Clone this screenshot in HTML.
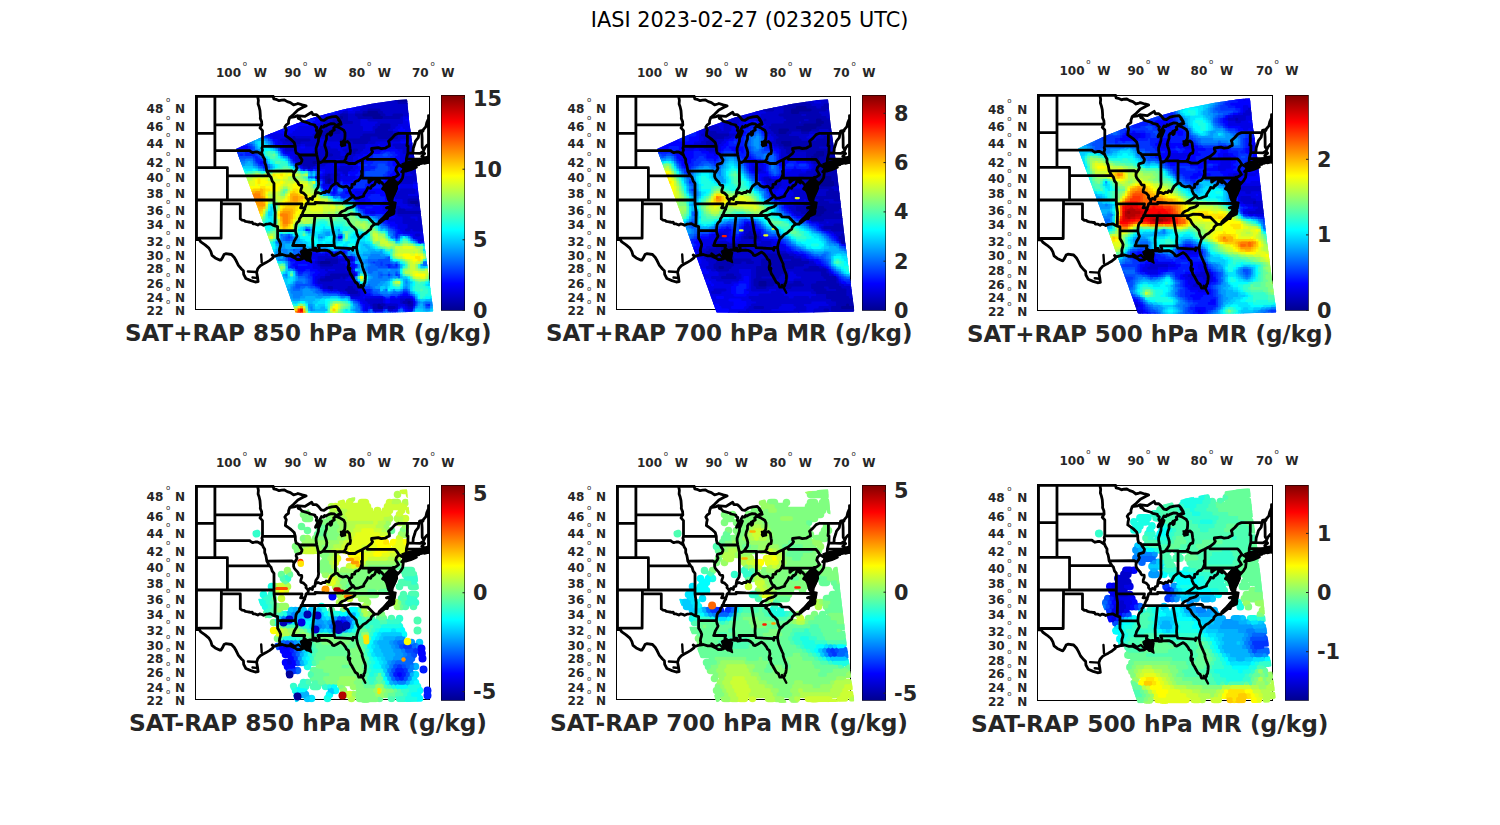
<!DOCTYPE html>
<html lang="en"><head><meta charset="utf-8"><title>IASI 2023-02-27 (023205 UTC)</title>
<style>html,body{margin:0;padding:0;background:#fff;}body{width:1500px;height:825px;overflow:hidden;}svg{display:block;}text{font-family:'DejaVu Sans','Liberation Sans',sans-serif;}</style></head><body>
<svg width="1500" height="825" viewBox="0 0 1500 825">
<defs>
<linearGradient id="jet" x1="0" y1="1" x2="0" y2="0"><stop offset="0" stop-color="#00008f"/><stop offset="0.125" stop-color="#0000ff"/><stop offset="0.375" stop-color="#00ffff"/><stop offset="0.625" stop-color="#ffff00"/><stop offset="0.875" stop-color="#ff0000"/><stop offset="1" stop-color="#800000"/></linearGradient>
<clipPath id="mapclip"><rect x="-0.5" y="-1.5" width="235" height="215"/></clipPath>
<g id="st" fill="none" stroke="#000" stroke-width="2.8" stroke-linejoin="round" stroke-linecap="round" clip-path="url(#mapclip)">
<path d="M-0.4 -0.1 L75.2 -0.1 L77.7 -0.1 M19.4 -0.1 L19.4 71.2 M-0.4 36.8 L19.4 36.8 M19.4 28.4 L66.3 28.4 M19.4 54.2 L54.2 54.2 L55.4 55.1 L57.3 56.2 L59.8 55.5 L62.0 55.5 L63.6 56.3 L65.5 57.5 L67.0 58.6 M-0.4 71.2 L31.9 71.2 M31.9 71.2 L31.9 103.5 M31.9 79.4 L74.2 79.4 M-0.4 103.5 L78.5 103.5 M25.9 103.5 L25.6 141.7 L3.3 141.7 L3.3 143.1 L-0.4 143.1 M1.0 -0.1 L1.0 143.1 M25.9 107.4 L44.8 107.4 L44.8 122.4 M44.8 122.4 L46.6 123.6 L48.5 123.8 L49.8 124.8 L51.7 125.2 L53.5 125.5 L55.1 125.8 L56.7 125.7 L57.6 127.4 L59.8 127.4 L62.3 128.6 L64.2 127.4 L66.1 127.8 L68.0 128.8 L70.5 127.7 L73.0 127.4 L74.9 127.1 L77.4 128.6 L79.4 129.4 L82.1 130.1 M78.5 103.5 L78.5 107.4 L79.7 116.0 L79.4 129.4 M82.1 130.1 L82.1 141.7 L83.0 143.1 L84.3 145.4 L85.2 147.7 L84.9 149.8 L84.1 152.3 L83.9 154.1 L84.3 156.0 L83.3 158.5 M82.1 134.1 L100.1 134.2 M78.5 107.4 L106.5 107.4 L106.2 109.0 L105.1 111.3 L109.3 111.3 M78.5 103.5 L78.5 86.8 L76.7 84.7 L75.5 80.7 L74.2 79.4 M74.2 79.4 L72.7 77.0 L71.3 74.6 L70.8 71.2 L70.3 68.7 L69.2 66.1 L69.2 62.8 L67.6 60.2 L67.0 58.6 M67.0 58.6 L66.1 56.4 L67.0 53.4 L66.4 51.7 L67.0 49.9 M67.0 49.9 L67.0 34.1 L64.5 31.4 L66.3 28.4 M66.3 28.4 L66.1 25.1 L64.8 21.9 L64.9 19.6 L64.5 14.1 L63.6 10.3 L62.6 7.5 L62.9 3.7 L62.1 -0.1 M67.0 49.9 L99.8 49.9 M71.3 74.6 L96.6 74.5 L98.6 76.3 M89.9 39.0 L93.0 41.2 L95.5 43.0 L98.7 46.0 L99.6 49.1 L99.8 49.9 L99.9 53.4 L100.6 56.4 L103.1 57.7 L103.4 58.4 L105.0 61.1 L106.5 63.2 L106.2 64.9 L105.3 66.6 L100.9 67.8 L100.6 69.5 L101.5 71.6 L100.6 73.7 L98.6 76.3 L98.1 77.8 L98.1 79.8 L98.7 81.5 L99.9 83.1 L102.4 85.9 L103.1 87.6 L104.0 88.6 L106.2 88.8 L106.3 90.8 L105.3 93.6 L105.3 95.6 L108.1 96.6 L110.6 99.2 L110.5 101.2 L111.8 102.7 L112.9 103.7 M112.9 103.7 L112.5 106.3 L110.6 107.4 L110.0 109.8 L109.3 111.3 L109.3 112.5 L107.8 114.8 L106.8 117.5 L105.6 119.0 L105.6 120.2 L104.0 122.1 L103.7 124.4 L101.5 126.3 L100.6 128.2 L100.2 130.8 L99.9 134.2 L100.6 137.2 L101.5 139.4 L100.9 140.9 L98.7 144.6 L98.1 146.8 L97.2 149.0 M97.2 149.0 L109.2 149.0 L108.4 151.6 L110.0 154.9 M89.9 39.0 L90.2 35.9 L90.8 33.2 L89.3 30.5 L90.5 28.7 L93.0 26.9 L93.1 24.2 L94.3 21.0 M77.7 -0.1 L78.3 2.3 L80.5 2.8 L83.6 4.2 L86.1 3.7 L89.0 3.5 L91.8 5.1 L94.9 6.1 L98.1 8.4 L101.2 7.5 L102.4 7.0 L106.8 8.4 L110.6 9.4 M110.6 9.4 L107.5 10.8 L102.4 13.6 L98.1 17.8 L94.3 21.0 M94.3 21.0 L99.9 20.1 L102.1 19.1 L102.8 21.9 L104.8 22.6 M104.8 22.6 L106.7 24.7 L113.1 26.5 L114.7 27.5 L119.4 28.5 L119.4 29.6 L121.3 31.0 L120.8 33.7 L122.2 35.9 L122.5 36.1 M103.4 19.3 L109.5 19.9 L112.9 17.7 L116.2 15.7 L117.4 18.1 L120.8 18.1 L122.9 19.9 L125.7 23.3 L128.5 23.8 L131.9 21.5 L136.3 20.4 L140.8 19.9 L143.0 22.2 L145.2 26.0 L144.7 28.4 M142.9 23.3 L144.5 25.5 L145.7 27.8 L142.9 28.0 L140.6 29.2 L138.8 27.4 L135.7 27.1 L132.5 28.3 L130.3 29.6 L129.1 28.9 L128.2 30.7 L126.6 30.5 L126.0 30.1 L125.0 31.9 L122.5 36.1 M122.5 36.1 L120.3 39.7 L120.0 40.9 L121.9 39.4 L123.8 37.7 L126.0 34.6 L124.7 38.1 L123.1 41.6 L122.9 44.7 L121.9 47.8 L120.6 51.7 L120.6 54.2 L121.3 58.5 L122.5 64.0 L122.9 65.3 L125.0 66.0 L127.4 64.8 M127.4 64.8 L129.4 61.9 L131.0 59.4 L131.3 56.0 L130.7 53.4 L129.7 50.4 L129.2 48.6 L129.8 45.6 L131.0 42.5 L131.0 39.4 L132.1 37.7 L133.8 37.2 L135.0 35.4 L135.0 38.8 L136.0 38.1 L136.6 34.6 L138.8 33.5 L138.2 31.4 L140.4 29.8 M140.4 29.8 L143.8 31.1 L148.2 33.7 L149.5 36.3 L149.5 39.4 L149.2 43.0 L147.6 45.1 L145.7 48.2 L148.2 48.2 L149.5 46.0 L152.0 45.0 L153.9 46.9 L154.5 51.7 L155.0 54.2 L154.5 57.2 L152.3 57.7 L150.7 60.2 L150.4 62.3 L148.5 65.0 M103.4 58.4 L121.3 58.5 M127.4 64.8 L140.0 64.8 L140.0 65.3 L148.5 65.0 M148.5 65.0 L151.3 66.1 L153.2 67.0 L157.6 67.0 L159.5 67.0 L162.6 64.9 L166.9 62.9 L169.5 61.5 L171.7 60.5 L175.8 57.2 L177.1 55.3 L176.1 53.4 L176.1 52.0 M176.1 52.0 L182.7 51.1 L185.8 52.1 L189.6 51.7 L192.1 50.2 L194.0 49.5 L193.7 46.5 L193.0 44.7 L196.5 41.6 L199.6 38.1 L203.1 36.8 M203.1 36.8 L223.5 36.8 L224.1 34.6 L226.0 34.1 L227.5 34.6 L227.8 33.2 L230.4 30.1 L231.3 26.0 L233.5 21.0 M233.0 19.1 L233.0 66.1 M112.9 103.7 L114.4 101.9 L116.9 103.0 L117.2 100.4 L119.4 99.6 L119.7 97.2 L122.5 96.0 L125.6 97.2 L127.5 95.8 L129.4 96.2 L130.7 94.4 L133.2 95.6 L134.1 93.4 L136.1 89.7 L139.9 86.8 L141.9 86.8 L143.8 89.2 L147.3 90.6 L151.3 89.7 L153.9 92.2 L156.4 90.8 L156.4 88.0 L159.2 87.6 L159.2 85.9 L161.1 84.3 L162.6 84.3 L164.8 81.9 L166.4 77.8 L166.0 74.6 L166.9 74.1 M119.7 97.2 L120.3 94.0 L122.5 90.8 L123.1 87.6 L122.9 84.7 L122.9 65.3 M139.9 86.8 L140.0 65.3 M166.9 62.9 L166.9 81.7 M166.9 81.7 L196.6 81.7 L197.7 80.8 L198.9 81.1 M171.7 60.5 L171.7 62.8 L199.3 62.8 L201.2 64.9 L203.4 68.2 L200.9 71.2 L200.3 73.7 L201.8 76.1 L203.1 78.2 L200.9 79.8 L198.9 81.1 L198.1 82.3 L198.1 83.9 M203.4 68.2 L208.4 71.2 M196.6 81.7 L196.6 91.9 L201.2 92.0 M173.4 81.7 L173.4 85.9 L175.8 83.8 L178.0 82.7 L180.2 82.5 L181.4 82.0 L183.6 82.7 L184.5 85.0 L185.8 85.5 L187.1 87.2 L188.2 88.1 L188.7 90.0 L187.1 92.4 L189.0 93.2 L191.5 94.4 L193.4 96.0 M184.5 85.0 L183.8 86.5 L180.5 83.8 L179.3 87.6 L177.2 89.4 L176.4 89.2 L175.1 91.8 L172.4 91.0 L171.4 93.4 L168.3 98.0 L168.3 99.6 L164.8 100.8 L162.4 101.7 L159.6 101.9 L157.8 99.3 M157.8 99.3 L155.7 98.0 L153.9 94.2 L153.9 92.2 M157.8 99.3 L155.7 101.2 L153.2 103.1 L147.1 106.7 M147.1 106.7 L159.6 106.7 L196.1 107.0 M147.1 106.7 L129.4 106.4 L119.6 106.0 L119.6 107.4 L110.6 107.4 M159.6 106.7 L159.5 108.6 L157.3 110.4 L153.9 111.3 L152.0 111.9 L149.8 113.7 L147.0 114.7 L145.1 116.0 L143.1 119.1 M150.7 119.0 L105.6 119.0 M150.7 119.0 L155.1 117.5 L163.6 117.9 L163.6 118.7 L164.3 118.3 L165.3 120.4 L172.2 120.6 L179.3 127.7 M150.7 119.0 L149.2 121.3 L152.0 123.0 L153.9 126.7 L156.4 129.7 L157.9 130.6 L160.8 133.8 L161.4 137.2 L162.9 140.5 L164.5 141.4 M135.0 119.2 L137.7 135.2 L138.8 139.4 L138.5 144.6 L138.8 149.0 M138.8 149.0 L139.7 151.2 L156.4 152.2 L157.3 153.7 L157.6 150.9 L161.1 151.2 M138.8 149.0 L122.5 149.0 L123.8 151.6 L123.1 154.1 M118.7 119.1 L119.4 119.8 L117.1 142.4 L117.5 153.8 M62.6 185.1 L62.0 180.6 L61.1 175.7 L62.3 172.1 L64.8 169.3 L67.3 167.8 L70.5 166.1 L74.2 163.9 L77.4 161.4 L77.7 159.6 L76.7 158.5 L78.6 159.9 L81.8 158.9 L83.3 158.5 M83.3 158.5 L86.8 158.0 L91.2 159.4 L94.3 159.2 L96.2 159.9 L99.3 161.4 L101.8 163.2 L105.0 163.0 L106.8 162.5 L108.1 161.4 L110.0 161.7 L111.2 163.5 L113.4 163.5 L112.8 162.1 L111.2 160.7 L110.6 158.5 L111.8 157.4 L111.2 156.0 L109.0 155.2 L110.0 154.9 M110.0 154.9 L111.8 154.0 L114.4 153.4 L117.5 153.6 L119.4 153.8 L119.4 151.6 L120.3 151.6 L120.9 154.5 L123.1 154.3 M123.1 154.3 L125.0 153.9 L129.4 153.6 L131.3 153.8 L133.8 154.9 L136.3 157.0 L136.9 158.6 L138.8 159.1 L140.7 158.1 L142.9 156.7 L145.1 155.6 L147.6 157.4 L150.1 160.7 L151.0 162.6 L152.9 163.9 L153.5 167.5 L152.6 170.7 L152.9 173.2 L154.5 171.8 L153.9 174.2 L154.8 177.1 L156.4 179.5 L157.3 181.3 L158.9 184.1 L159.8 185.8 L162.0 187.2 L163.3 190.7 L165.1 190.7 L167.3 190.4 L168.3 189.0 L168.3 187.6 L169.3 186.2 L169.8 182.7 L170.0 179.2 L169.5 177.1 L168.3 174.2 L167.3 171.4 L166.7 169.3 L166.7 167.5 L165.5 165.0 L163.9 161.4 L162.3 157.8 L161.4 153.8 L161.1 151.2 M3.8 143.3 L5.3 145.4 L9.6 148.4 L13.4 151.6 L15.3 154.9 L16.5 158.9 L19.7 161.4 L24.1 163.5 L25.3 163.7 L26.9 161.4 L28.5 158.1 L30.3 157.2 L36.0 158.0 L38.8 161.0 L40.7 164.3 L42.9 168.9 L46.0 172.5 L47.9 174.2 L48.2 177.8 L50.4 182.0 L55.4 184.1 L59.8 185.5 L62.6 185.1 M161.1 151.2 L161.4 148.3 L162.3 145.4 L163.3 142.4 L164.5 141.4 L166.1 139.8 L167.7 137.9 L170.5 136.5 L173.0 134.2 L175.2 132.7 L175.8 130.5 L177.4 128.9 L179.3 127.7 L182.7 127.7 L183.3 126.3 L185.5 123.6 L188.3 121.7 L191.8 122.0 L192.7 119.8 L198.1 117.3 L198.6 114.4 L197.1 110.6 L196.1 107.0 L195.2 104.3 L193.4 103.9 L192.7 101.9 L193.4 99.6 L193.4 96.0 M192.7 119.4 L190.5 119.0 L192.1 116.4 L194.6 116.4 L196.2 114.4 L196.8 112.1 L195.2 111.3 L190.9 111.3 L195.2 109.8 L195.9 107.4 M193.4 96.0 L192.7 93.2 L192.1 90.0 L192.4 87.6 L192.7 85.5 L194.6 83.5 L195.2 84.3 L194.0 87.6 L193.4 90.0 L194.0 93.2 L195.9 95.6 L197.4 96.4 L195.6 101.9 L197.7 98.8 L199.6 95.6 L201.2 92.0 L200.9 89.2 L199.0 86.8 L198.1 83.9 L200.3 85.5 L202.1 86.4 L201.8 88.1 L205.3 84.3 L207.2 81.1 L207.8 76.1 L206.2 75.3 L207.8 73.7 M207.8 74.5 L210.9 74.5 L215.3 73.2 L220.9 70.7 L218.4 70.3 L216.6 71.6 L214.0 71.6 L210.3 72.0 L209.0 72.8 M208.4 71.2 L210.0 71.2 L212.8 69.9 L214.7 68.9 L218.4 68.8 L221.2 68.5 L223.5 68.1 L224.1 65.7 L225.3 67.2 L225.8 67.0 L227.2 66.6 L228.8 65.3 L228.8 66.8 L233.5 65.7 M210.0 71.2 L209.5 70.3 L211.0 69.3 L210.6 68.7 L210.9 62.3 L212.4 56.4 L212.5 49.5 L211.5 49.1 L211.9 45.6 L211.9 36.8 M210.9 62.3 L221.6 62.6 L224.2 62.6 L224.2 63.6 L224.5 64.6 L225.3 65.5 L225.8 67.0 M221.6 62.6 L221.2 68.5 M212.4 56.4 L224.7 56.8 L225.3 56.4 L227.2 55.3 L227.7 55.4 M228.3 53.6 L227.7 55.4 L229.1 57.2 L227.2 58.5 L226.3 59.8 L228.5 61.1 L228.8 63.2 L229.7 64.7 L233.5 64.5 M217.4 56.6 L217.8 51.7 L219.1 47.8 L220.0 44.7 L222.8 41.2 L223.5 36.8 M228.3 53.6 L226.7 50.8 L226.6 41.2 L226.1 34.1 M228.3 53.6 L229.4 51.2 L231.6 48.6 L233.5 47.5 M207.8 73.7 L208.4 71.2"/>
<path fill="#000" stroke-width="1.5" d="M188.2 92.1 L190.0 87.0 L194.5 82.7 L198.8 82.7 L202.0 87.0 L200.8 92.1 L199.5 97.2 L197.6 101.5 L197.0 105.1 L194.5 105.8 L191.9 101.5 L190.7 97.2 Z"/>
<path fill="#000" stroke-width="1.5" d="M196.0 105.0 L200.5 106.0 L199.5 112.0 L195.0 118.0 L189.5 123.0 L184.5 127.0 L183.0 125.0 L188.0 120.0 L193.0 114.5 L195.0 109.0 Z"/>
<path fill="#000" stroke-width="1.5" d="M105.0 155.0 L110.0 152.0 L116.0 156.0 L115.0 162.0 L116.0 166.0 L111.0 163.0 L107.0 161.0 Z"/>
<path fill="#000" stroke-width="1.5" d="M206.5 67.5 L212.0 65.5 L220.0 63.5 L228.0 61.0 L234.0 59.5 L234.5 62.5 L228.0 65.0 L220.0 67.0 L213.0 69.5 L207.5 71.0 Z"/>
<path fill="#000" stroke-width="1.5" d="M145.0 45.0 L149.5 45.0 L150.0 49.0 L146.0 50.0 Z"/>
<path stroke-width="2.4" d="M66.2 166.0 L65.7 158.0"/>
<path stroke-width="2.4" d="M52.4 175.0 L60.5 175.5"/>
<path stroke-width="2.4" d="M57.0 181.0 L62.0 181.5"/>
<path stroke-width="2.4" d="M165.5 188.5 L166.7 190.3 L169.8 196.2"/>
<path stroke-width="2.4" d="M95.0 157.0 L99.0 160.0 L103.0 158.0 L106.0 161.0"/>
</g>
<clipPath id="swc"><path d="M40.6 53.3 L55.4 92.8 L66.9 124.2 L78.3 155.7 L89.8 187.2 L99.8 215.3 L99.8 215.4 L99.9 215.5 L99.9 215.6 L100.0 215.7 L100.0 215.7 L100.1 215.8 L100.2 215.8 L100.3 215.9 L100.3 215.9 L100.4 215.9 L100.5 215.9 L100.6 215.9 L147.8 216.5 L147.8 216.5 L190.7 216.1 L190.8 216.1 L236.8 214.9 L236.9 214.9 L237.0 214.9 L237.1 214.9 L237.1 214.9 L237.2 214.8 L237.3 214.8 L237.4 214.7 L237.4 214.7 L237.5 214.6 L237.5 214.5 L237.6 214.5 L237.6 214.4 L237.6 214.3 L237.7 214.2 L237.7 214.1 L237.7 214.0 L237.7 214.0 L237.4 211.1 L237.4 211.1 L234.5 189.6 L228.8 146.7 L223.7 103.8 L218.8 60.9 L218.8 60.9 L213.9 26.6 L211.6 3.7 L211.6 3.6 L211.6 3.5 L211.6 3.5 L211.5 3.4 L211.5 3.3 L211.5 3.2 L211.4 3.2 L211.3 3.1 L211.3 3.1 L211.2 3.0 L211.1 3.0 L211.0 2.9 L210.9 2.9 L210.9 2.9 L210.8 2.9 L210.7 2.9 L202.1 3.5 L202.0 3.5 L176.3 7.2 L176.3 7.2 L147.6 12.9 L147.6 12.9 L119.0 20.7 L118.9 20.7 L90.3 31.0 L90.3 31.0 L67.4 40.2 L67.4 40.2 L41.0 52.2 L41.0 52.2 L40.9 52.3 L40.8 52.3 L40.8 52.4 L40.7 52.5 L40.6 52.5 L40.6 52.6 L40.6 52.7 L40.5 52.8 L40.5 52.9 L40.5 53.0 L40.5 53.1 L40.5 53.1 L40.5 53.2Z"/></clipPath>
</defs>
<rect width="1500" height="825" fill="#fff"/>
<text x="590.8" y="26.5" font-size="20.8" fill="#000" textLength="317.5" lengthAdjust="spacingAndGlyphs">IASI 2023-02-27 (023205 UTC)</text>
<g transform="translate(195.5 96.5) scale(1.00000 1.00000)">
<rect x="0" y="0" width="234" height="213" fill="none" stroke="#000" stroke-width="1"/>
<g fill="none" stroke-linecap="round" stroke-width="4.2" clip-path="url(#swc)">
<g id="f0">
<path stroke="#0033ff" d="M138.5 13.5h0M66 38.5h0M71 41h0M76 43.5h0M53.5 48.5h0M78.5 48.5h0M56 51h0M83.5 51h0M41 53.5h0M56 53.5h0M41 56h7.5M56 56h2.5M86 56h0M191 56h2.5M41 58.5h2.5M48.5 58.5h0M61 58.5h0M88.5 58.5h0M178.5 58.5h7.5M193.5 58.5h2.5M58.5 61h0M63.5 61h0M93.5 61h0M178.5 61h15M96 63.5h0M181 63.5h12.5M61 66h0M178.5 66h12.5M63.5 68.5h0M71 68.5h0M168.5 68.5h2.5M176 68.5h5M191 68.5h0M103.5 71h0M181 71h0M193.5 71h0M118.5 73.5h0M176 73.5h2.5M193.5 73.5h0M166 76h2.5M191 76h0M166 78.5h2.5M188.5 78.5h2.5M168.5 81h7.5M188.5 81h0M163.5 83.5h22.5M146 86h0M161 86h10M146 88.5h0M161 88.5h7.5M126 91h0M136 91h0M148.5 91h20M133.5 96h0M146 96h0M136 98.5h0M141 98.5h2.5M146 101h0M151 101h2.5M158.5 103.5h0M166 113.5h0M171 118.5h2.5M181 118.5h5M186 121h0M186 123.5h0M186 126h0M191 128.5h0M193.5 131h0M113.5 133.5h0M198.5 133.5h0M203.5 138.5h0M208.5 138.5h2.5M93.5 141h0M216 141h0M106 153.5h0M121 153.5h0M131 153.5h0M146 153.5h5M106 156h7.5M126 156h0M143.5 156h2.5M151 156h0M103.5 158.5h0M143.5 158.5h0M158.5 166h0M178.5 166h0M186 166h0M186 168.5h0M191 168.5h0M196 168.5h0M93.5 171h0M161 171h0M196 171h5M108.5 176h5M103.5 178.5h2.5M113.5 178.5h0M193.5 178.5h0M201 178.5h0M113.5 181h2.5M116 183.5h0M116 186h0M116 188.5h0M121 191h0M126 193.5h0M176 193.5h0M128.5 196h2.5M176 196h0M146 198.5h2.5M178.5 198.5h5M203.5 198.5h0M191 201h2.5M218.5 201h0M158.5 203.5h0M163.5 206h0M221 206h0M231 208.5h0M166 211h0M166 213.5h0M173.5 213.5h0M168.5 216h2.5M178.5 216h0M196 216h0M201 216h0M216 216h0"/>
<path stroke="#001aff" d="M141 13.5h2.5M128.5 16h10M113.5 23.5h5M113.5 26h2.5M86 31h7.5M88.5 33.5h2.5M68.5 38.5h0M73.5 41h0M78.5 46h0M46 48.5h5M41 51h0M53.5 51h0M43.5 53.5h10M86 53.5h0M51 56h2.5M186 56h2.5M196 56h2.5M46 58.5h0M51 58.5h7.5M91 58.5h0M173.5 58.5h2.5M198.5 58.5h2.5M61 61h0M171 61h5M196 61h2.5M61 63.5h5M173.5 63.5h5M196 63.5h0M63.5 66h0M68.5 66h0M98.5 66h0M168.5 66h7.5M193.5 66h2.5M66 68.5h2.5M101 68.5h0M163.5 68.5h2.5M173.5 68.5h0M193.5 68.5h2.5M68.5 71h2.5M166 71h12.5M196 71h2.5M71 73.5h0M108.5 73.5h0M121 73.5h0M166 73.5h7.5M196 73.5h2.5M123.5 76h2.5M163.5 76h0M193.5 76h2.5M203.5 76h0M123.5 78.5h0M153.5 78.5h0M161 78.5h2.5M193.5 78.5h0M166 81h0M191 81h0M123.5 83.5h2.5M161 83.5h0M188.5 83.5h0M158.5 86h0M173.5 86h0M181 86h5M126 88.5h0M148.5 88.5h10M171 88.5h0M181 88.5h7.5M138.5 91h2.5M171 91h17.5M128.5 93.5h0M133.5 93.5h0M141 93.5h0M148.5 93.5h7.5M128.5 96h2.5M136 96h0M141 96h0M148.5 96h0M138.5 98.5h0M146 98.5h10M176 98.5h7.5M148.5 101h0M156 101h0M173.5 101h15M176 103.5h12.5M161 106h0M176 106h10M161 108.5h0M178.5 108.5h5M163.5 111h0M171 111h5M168.5 113.5h0M168.5 116h0M176 118.5h2.5M188.5 118.5h5M188.5 121h2.5M188.5 123.5h0M188.5 126h2.5M193.5 128.5h0M196 131h2.5M111 133.5h0M201 133.5h0M201 136h0M201 138.5h0M213.5 138.5h0M201 141h0M221 143.5h0M228.5 146h0M123.5 153.5h0M116 156h0M123.5 156h0M128.5 156h0M136 156h2.5M106 158.5h0M148.5 158.5h0M93.5 161h2.5M158.5 161h0M93.5 163.5h0M96 166h2.5M156 166h0M96 168.5h0M103.5 168.5h7.5M161 168.5h0M193.5 168.5h0M201 168.5h0M96 171h2.5M193.5 171h0M101 173.5h0M111 173.5h2.5M158.5 173.5h0M103.5 176h2.5M116 176h2.5M161 176h0M116 178.5h0M118.5 188.5h0M163.5 188.5h0M123.5 191h0M166 191h0M171 193.5h2.5M133.5 196h10M171 196h2.5M208.5 196h2.5M151 198.5h0M176 198.5h0M206 198.5h0M213.5 198.5h0M201 201h0M161 203.5h0M166 208.5h0M233.5 208.5h0M206 211h0M218.5 211h0M188.5 213.5h0M208.5 213.5h0M181 216h5M198.5 216h0M211 216h2.5"/>
<path stroke="#004dff" d="M68.5 41h0M73.5 43.5h0M51 46h0M76 46h0M56 48.5h0M58.5 51h0M81 51h0M38.5 53.5h0M58.5 53.5h0M83.5 53.5h0M61 56h0M63.5 58.5h0M188.5 58.5h2.5M43.5 61h12.5M66 61h0M58.5 63.5h0M68.5 63.5h0M96 66h0M183.5 68.5h5M66 71h0M183.5 71h7.5M106 73.5h0M111 73.5h0M181 73.5h10M171 76h17.5M121 78.5h0M171 78.5h15M116 81h0M178.5 81h7.5M126 86h0M143.5 91h0M143.5 96h0M156 103.5h0M161 111h0M163.5 113.5h0M166 116h0M168.5 118.5h0M183.5 121h0M183.5 123.5h0M188.5 128.5h0M196 133.5h0M198.5 136h0M93.5 138.5h0M146 138.5h0M198.5 138.5h0M206 138.5h0M91 141h0M96 141h0M203.5 141h0M91 143.5h2.5M218.5 143.5h0M98.5 153.5h0M108.5 153.5h0M118.5 153.5h0M126 153.5h2.5M103.5 156h0M101 158.5h0M146 158.5h0M151 158.5h0M91 161h0M193.5 161h0M91 163.5h0M183.5 163.5h10M93.5 166h0M153.5 166h0M176 166h0M181 166h2.5M188.5 166h5M93.5 168.5h0M181 168.5h2.5M188.5 168.5h0M198.5 168.5h0M183.5 171h7.5M101 176h0M201 176h0M108.5 178.5h2.5M186 178.5h0M203.5 178.5h0M111 181h0M113.5 183.5h0M113.5 186h0M101 188.5h12.5M101 191h2.5M116 191h2.5M168.5 191h5M123.5 193.5h0M208.5 193.5h2.5M126 196h0M178.5 196h2.5M206 196h0M213.5 196h0M143.5 198.5h0M186 198.5h0M196 198.5h5M216 198.5h0M156 203.5h0M161 206h0M163.5 208.5h0M221 208.5h0M231 211h2.5M191 213.5h0M203.5 213.5h0M173.5 216h0M188.5 216h0M193.5 216h0M208.5 216h0"/>
<path stroke="#0000ff" d="M161 8.5h0M148.5 11h10M146 13.5h2.5M153.5 13.5h2.5M141 16h0M131 18.5h2.5M113.5 21h12.5M213.5 21h0M108.5 23.5h2.5M121 23.5h2.5M211 23.5h2.5M106 26h5M118.5 26h5M213.5 26h0M93.5 28.5h22.5M213.5 28.5h2.5M96 31h5M206 31h0M216 31h0M78.5 33.5h7.5M93.5 33.5h5M203.5 33.5h5M216 33.5h0M73.5 36h22.5M71 38.5h0M88.5 38.5h2.5M76 41h0M78.5 43.5h2.5M81 46h0M206 46h10M81 48.5h5M183.5 48.5h0M43.5 51h7.5M86 51h0M106 51h2.5M188.5 53.5h12.5M88.5 56h0M173.5 56h10M201 56h2.5M93.5 58.5h0M168.5 58.5h2.5M203.5 58.5h0M96 61h0M163.5 61h5M201 61h2.5M163.5 63.5h7.5M198.5 63.5h5M66 66h0M143.5 66h0M163.5 66h2.5M198.5 66h2.5M138.5 68.5h5M161 68.5h0M198.5 68.5h5M106 71h0M163.5 71h0M201 71h5M113.5 73.5h2.5M126 73.5h2.5M161 73.5h2.5M201 73.5h7.5M128.5 76h0M153.5 76h7.5M198.5 76h2.5M206 76h2.5M126 78.5h0M146 78.5h0M156 78.5h2.5M196 78.5h10M161 81h2.5M193.5 81h7.5M146 83.5h0M158.5 83.5h0M191 83.5h0M128.5 86h0M148.5 86h7.5M176 86h2.5M188.5 86h2.5M136 88.5h2.5M143.5 88.5h0M173.5 88.5h5M191 88.5h12.5M218.5 88.5h5M128.5 91h5M191 91h12.5M218.5 91h5M131 93.5h0M138.5 93.5h0M158.5 93.5h40M138.5 96h0M151 96h7.5M181 96h12.5M158.5 98.5h2.5M166 98.5h7.5M186 98.5h2.5M158.5 101h0M166 101h5M191 101h2.5M161 103.5h0M171 103.5h2.5M191 103.5h7.5M163.5 106h0M171 106h2.5M188.5 106h12.5M163.5 108.5h12.5M186 108.5h7.5M166 111h2.5M178.5 111h7.5M171 113.5h15M171 116h2.5M181 116h12.5M196 118.5h0M193.5 121h5M191 123.5h0M193.5 126h5M196 128.5h5M201 131h0M203.5 133.5h0M203.5 136h2.5M216 138.5h0M143.5 141h2.5M223.5 146h2.5M118.5 156h2.5M131 156h2.5M148.5 156h0M108.5 158.5h5M98.5 161h2.5M108.5 161h5M143.5 161h2.5M96 163.5h2.5M106 163.5h12.5M158.5 163.5h0M101 166h12.5M151 166h0M98.5 168.5h2.5M113.5 168.5h2.5M156 168.5h2.5M103.5 171h12.5M158.5 171h0M103.5 173.5h5M116 173.5h5M153.5 173.5h0M121 176h2.5M118.5 178.5h2.5M161 178.5h0M118.5 181h0M118.5 183.5h0M158.5 183.5h0M118.5 186h0M121 188.5h0M163.5 191h0M128.5 193.5h2.5M168.5 193.5h0M146 196h0M168.5 196h0M153.5 198.5h0M171 198.5h2.5M208.5 198.5h2.5M168.5 201h0M188.5 201h0M196 201h2.5M203.5 201h0M216 201h0M163.5 203.5h0M191 203.5h2.5M218.5 203.5h0M166 206h0M191 206h2.5M168.5 208.5h0M168.5 211h0M173.5 211h0M203.5 211h0M208.5 211h0M168.5 213.5h0M211 213.5h0"/>
<path stroke="#0066ff" d="M66 41h0M53.5 46h0M76 48.5h0M86 58.5h0M43.5 63.5h5M58.5 66h0M71 66h0M61 68.5h0M98.5 68.5h0M63.5 71h0M73.5 71h0M68.5 73.5h0M121 76h0M113.5 81h0M118.5 81h0M121 83.5h0M123.5 86h0M146 91h0M136 93.5h0M148.5 103.5h5M181 121h0M183.5 126h0M186 128.5h0M191 131h0M193.5 133.5h0M196 136h0M86 138.5h0M91 138.5h0M143.5 138.5h0M88.5 141h0M196 141h2.5M88.5 143.5h0M96 143.5h0M201 143.5h0M221 146h0M101 153.5h2.5M111 153.5h0M116 153.5h0M133.5 153.5h0M143.5 153.5h0M98.5 156h2.5M96 158.5h2.5M156 158.5h0M161 161h0M191 161h0M161 163.5h0M173.5 163.5h7.5M173.5 166h0M196 166h0M201 166h0M228.5 166h2.5M176 168.5h2.5M203.5 168.5h0M228.5 168.5h2.5M173.5 171h7.5M203.5 171h0M98.5 173.5h0M173.5 173.5h7.5M173.5 176h2.5M183.5 176h2.5M193.5 176h0M101 178.5h0M183.5 178.5h0M188.5 178.5h2.5M196 178.5h0M103.5 181h5M183.5 181h2.5M193.5 181h0M203.5 181h0M111 183.5h0M161 183.5h0M101 186h5M111 186h0M163.5 186h0M173.5 188.5h0M98.5 191h0M106 191h2.5M113.5 191h0M176 191h0M98.5 193.5h5M121 193.5h0M178.5 193.5h5M191 193.5h0M121 196h2.5M183.5 196h0M198.5 196h5M128.5 198.5h12.5M188.5 198.5h5M221 203.5h0M158.5 206h0M231 206h2.5M163.5 211h0M176 213.5h0M206 213.5h0M218.5 213.5h0M166 216h0M176 216h0M191 216h0M203.5 216h0"/>
<path stroke="#0000e6" d="M181 6h0M163.5 8.5h5M161 11h5M151 13.5h0M158.5 13.5h5M143.5 16h2.5M153.5 16h5M121 18.5h7.5M136 18.5h5M213.5 18.5h0M128.5 21h5M208.5 21h2.5M106 23.5h0M126 23.5h2.5M166 23.5h5M208.5 23.5h0M98.5 26h5M126 26h2.5M166 26h15M208.5 26h2.5M118.5 28.5h10M166 28.5h12.5M203.5 28.5h7.5M103.5 31h22.5M168.5 31h7.5M201 31h2.5M208.5 31h5M101 33.5h20M168.5 33.5h7.5M198.5 33.5h2.5M211 33.5h2.5M98.5 36h20M203.5 36h12.5M73.5 38.5h12.5M93.5 38.5h22.5M206 38.5h7.5M78.5 41h12.5M216 41h0M83.5 43.5h0M123.5 43.5h7.5M206 43.5h10M83.5 46h2.5M121 46h22.5M181 46h22.5M218.5 46h0M88.5 48.5h2.5M106 48.5h2.5M126 48.5h27.5M171 48.5h10M186 48.5h10M88.5 51h0M101 51h2.5M111 51h12.5M136 51h15M171 51h27.5M88.5 53.5h0M101 53.5h20M143.5 53.5h2.5M168.5 53.5h17.5M203.5 53.5h2.5M91 56h25M146 56h2.5M166 56h5M206 56h0M96 58.5h5M146 58.5h7.5M161 58.5h5M206 58.5h2.5M98.5 61h0M158.5 61h2.5M206 61h2.5M98.5 63.5h0M141 63.5h2.5M158.5 63.5h2.5M206 63.5h2.5M101 66h0M136 66h5M146 66h5M158.5 66h2.5M203.5 66h2.5M103.5 68.5h0M131 68.5h5M146 68.5h5M156 68.5h2.5M206 68.5h2.5M118.5 71h25M158.5 71h2.5M208.5 71h2.5M221 71h0M123.5 73.5h0M131 73.5h7.5M156 73.5h2.5M211 73.5h2.5M131 76h7.5M143.5 76h2.5M211 76h2.5M128.5 78.5h0M148.5 78.5h0M208.5 78.5h7.5M123.5 81h2.5M146 81h12.5M203.5 81h5M128.5 83.5h0M148.5 83.5h7.5M193.5 83.5h10M138.5 86h0M143.5 86h0M193.5 86h5M218.5 86h5M128.5 88.5h5M141 88.5h0M206 88.5h10M206 91h10M201 93.5h2.5M221 93.5h2.5M161 96h17.5M196 96h5M221 96h2.5M163.5 98.5h0M191 98.5h5M213.5 98.5h10M161 101h2.5M196 101h2.5M163.5 103.5h5M201 103.5h5M166 106h2.5M203.5 106h2.5M196 108.5h15M188.5 111h7.5M206 111h10M188.5 113.5h5M176 116h2.5M196 116h0M198.5 118.5h2.5M201 121h5M216 121h5M193.5 123.5h12.5M221 123.5h0M201 126h5M203.5 128.5h7.5M203.5 131h7.5M206 133.5h2.5M216 133.5h0M208.5 136h20M218.5 138.5h0M226 138.5h2.5M218.5 141h10M223.5 143.5h0M228.5 143.5h0M153.5 153.5h0M141 156h0M116 158.5h12.5M133.5 158.5h7.5M103.5 161h2.5M116 161h5M148.5 161h0M156 161h0M101 163.5h2.5M121 163.5h0M116 166h2.5M146 166h2.5M118.5 168.5h2.5M151 168.5h2.5M101 171h0M118.5 171h5M156 171h0M123.5 173.5h5M133.5 173.5h5M151 173.5h0M156 173.5h0M126 176h5M158.5 176h0M123.5 178.5h5M121 181h2.5M153.5 181h0M158.5 181h0M121 183.5h0M151 183.5h5M121 186h0M158.5 186h2.5M123.5 188.5h2.5M161 188.5h0M126 191h0M133.5 193.5h0M138.5 193.5h2.5M163.5 193.5h2.5M148.5 196h2.5M166 196h0M166 198.5h2.5M156 201h10M171 201h15M206 201h7.5M166 203.5h2.5M188.5 203.5h0M196 203.5h7.5M168.5 206h2.5M188.5 206h0M196 206h7.5M218.5 206h0M171 208.5h2.5M203.5 208.5h5M218.5 208.5h0M171 211h0M176 211h0M211 211h0M171 213.5h0M198.5 213.5h2.5M213.5 213.5h2.5"/>
<path stroke="#0080ff" d="M61 41h2.5M56 43.5h0M71 43.5h0M56 46h0M73.5 46h0M58.5 48.5h0M78.5 51h0M61 53.5h0M63.5 56h0M66 58.5h0M91 61h0M51 63.5h5M93.5 63.5h0M43.5 66h5M58.5 68.5h0M73.5 68.5h0M101 71h0M116 76h0M123.5 88.5h0M126 93.5h0M143.5 93.5h2.5M133.5 98.5h0M138.5 101h2.5M158.5 106h0M163.5 116h0M166 118.5h0M178.5 121h0M111 131h0M186 131h2.5M193.5 136h0M88.5 138.5h0M96 138.5h0M196 138.5h0M86 141h0M98.5 141h0M126 141h0M141 141h0M213.5 141h0M86 143.5h0M98.5 143.5h0M143.5 143.5h0M216 143.5h0M81 146h5M91 146h2.5M106 151h0M123.5 151h0M86 153.5h5M96 153.5h0M113.5 153.5h0M136 153.5h0M141 153.5h0M88.5 156h2.5M91 158.5h2.5M158.5 158.5h0M176 158.5h7.5M88.5 161h0M173.5 161h15M83.5 163.5h5M171 163.5h0M168.5 166h2.5M198.5 166h0M163.5 168.5h0M173.5 168.5h0M163.5 171h0M171 171h0M168.5 173.5h2.5M183.5 173.5h7.5M196 173.5h5M163.5 176h0M178.5 176h2.5M188.5 176h2.5M196 176h2.5M203.5 176h0M91 178.5h0M176 178.5h5M198.5 178.5h0M178.5 181h2.5M188.5 181h2.5M196 181h0M103.5 183.5h5M176 183.5h15M108.5 186h0M173.5 186h10M211 186h0M98.5 188.5h0M166 188.5h0M171 188.5h0M176 188.5h5M96 191h0M111 191h0M178.5 191h0M211 191h0M96 193.5h0M106 193.5h0M116 193.5h2.5M213.5 193.5h0M96 196h10M118.5 196h0M186 196h5M196 196h0M98.5 198.5h7.5M123.5 198.5h2.5M218.5 198.5h0M98.5 201h5M146 201h2.5M153.5 201h0M223.5 206h0M228.5 206h0M236 206h0M161 208.5h0M228.5 208.5h0M236 208.5h0M116 211h0M161 211h0M221 211h0M116 213.5h0M161 213.5h2.5M163.5 216h0M206 216h0"/>
<path stroke="#0000cc" d="M188.5 3.5h10M173.5 6h5M183.5 6h17.5M171 8.5h42.5M168.5 11h45M166 13.5h5M186 13.5h27.5M148.5 16h2.5M161 16h5M188.5 16h25M143.5 18.5h0M153.5 18.5h5M191 18.5h5M208.5 18.5h2.5M136 21h2.5M153.5 21h7.5M206 21h0M131 23.5h5M153.5 23.5h10M173.5 23.5h32.5M131 26h5M158.5 26h5M183.5 26h22.5M131 28.5h32.5M181 28.5h2.5M196 28.5h5M128.5 31h7.5M141 31h25M178.5 31h2.5M196 31h2.5M123.5 33.5h5M146 33.5h20M178.5 33.5h0M193.5 33.5h2.5M121 36h2.5M146 36h32.5M198.5 36h2.5M118.5 38.5h5M131 38.5h35M201 38.5h2.5M216 38.5h0M93.5 41h2.5M101 41h62.5M176 41h5M203.5 41h10M86 43.5h2.5M116 43.5h5M133.5 43.5h10M176 43.5h27.5M88.5 46h5M106 46h12.5M146 46h10M173.5 46h5M93.5 48.5h10M111 48.5h12.5M156 48.5h12.5M198.5 48.5h20M91 51h7.5M126 51h7.5M153.5 51h15M201 51h17.5M91 53.5h7.5M123.5 53.5h17.5M148.5 53.5h7.5M163.5 53.5h2.5M208.5 53.5h10M118.5 56h25M151 56h5M161 56h2.5M208.5 56h7.5M103.5 58.5h25M138.5 58.5h5M156 58.5h2.5M211 58.5h5M101 61h0M123.5 61h32.5M211 61h7.5M101 63.5h2.5M128.5 63.5h10M146 63.5h10M211 63.5h10M103.5 66h2.5M133.5 66h0M153.5 66h2.5M208.5 66h2.5M106 68.5h0M121 68.5h7.5M153.5 68.5h0M211 68.5h10M108.5 71h2.5M116 71h0M146 71h10M213.5 71h5M141 73.5h12.5M216 73.5h5M141 76h0M148.5 76h2.5M216 76h5M131 78.5h0M136 78.5h2.5M143.5 78.5h0M151 78.5h0M218.5 78.5h2.5M121 81h0M128.5 81h0M136 81h7.5M211 81h10M138.5 83.5h5M206 83.5h15M136 86h0M141 86h0M201 86h15M206 93.5h12.5M203.5 96h15M198.5 98.5h12.5M201 101h22.5M208.5 103.5h2.5M208.5 106h2.5M213.5 108.5h5M198.5 111h5M218.5 111h7.5M196 113.5h5M211 113.5h15M198.5 116h2.5M203.5 118.5h20M208.5 121h5M223.5 121h2.5M208.5 123.5h10M223.5 123.5h2.5M208.5 126h17.5M213.5 128.5h12.5M213.5 131h15M211 133.5h2.5M218.5 133.5h10M221 138.5h2.5M226 143.5h0M131 158.5h0M123.5 161h17.5M151 161h0M123.5 163.5h5M143.5 163.5h5M153.5 163.5h2.5M121 166h0M143.5 166h0M123.5 168.5h0M138.5 168.5h10M126 171h27.5M131 173.5h0M141 173.5h7.5M133.5 176h22.5M131 178.5h2.5M126 181h2.5M146 181h0M151 181h0M156 181h0M123.5 183.5h0M138.5 183.5h10M123.5 186h32.5M128.5 188.5h30M128.5 191h2.5M138.5 191h12.5M158.5 191h2.5M136 193.5h0M143.5 193.5h5M161 193.5h0M163.5 196h0M156 198.5h7.5M171 203.5h15M206 203.5h2.5M216 203.5h0M173.5 206h12.5M206 206h0M176 208.5h0M191 208.5h10M211 208.5h0M188.5 211h2.5M201 211h0M213.5 211h2.5M178.5 213.5h7.5M193.5 213.5h2.5"/>
<path stroke="#0099ff" d="M58.5 43.5h0M68.5 43.5h0M58.5 46h0M71 46h0M73.5 48.5h0M61 51h0M63.5 53.5h0M81 53.5h0M83.5 56h0M68.5 61h0M88.5 61h0M71 63.5h0M51 66h0M56 66h0M46 68.5h2.5M96 68.5h0M61 71h0M76 71h0M66 73.5h0M73.5 73.5h0M116 78.5h0M128.5 98.5h2.5M143.5 101h0M146 103.5h0M161 113.5h0M173.5 121h2.5M181 123.5h0M183.5 128.5h0M113.5 131h0M116 133.5h0M143.5 133.5h0M191 133.5h0M113.5 136h0M131 136h2.5M131 138.5h2.5M193.5 138.5h0M101 141h0M123.5 141h0M83.5 143.5h0M101 143.5h0M146 143.5h0M203.5 143.5h0M88.5 146h0M96 146h0M83.5 148.5h5M231 148.5h0M86 151h2.5M101 151h2.5M108.5 151h0M121 151h0M126 151h5M148.5 151h2.5M83.5 153.5h0M93.5 153.5h0M81 156h5M93.5 156h2.5M153.5 156h2.5M176 156h10M81 158.5h7.5M153.5 158.5h0M168.5 158.5h5M186 158.5h2.5M81 161h2.5M163.5 161h0M163.5 163.5h5M91 166h0M171 168.5h0M226 168.5h0M233.5 168.5h0M93.5 173.5h2.5M193.5 173.5h0M203.5 173.5h0M171 176h0M88.5 178.5h0M173.5 178.5h0M91 181h0M101 181h0M161 181h0M176 181h0M198.5 181h2.5M101 183.5h0M173.5 183.5h0M193.5 183.5h0M211 183.5h0M98.5 186h0M186 186h2.5M96 188.5h0M168.5 188.5h0M183.5 188.5h2.5M211 188.5h0M181 191h2.5M208.5 191h0M93.5 193.5h0M108.5 193.5h5M188.5 193.5h0M198.5 193.5h0M206 193.5h0M108.5 196h7.5M193.5 196h0M216 196h0M96 198.5h0M108.5 198.5h12.5M96 201h0M106 201h2.5M121 201h5M151 201h0M221 201h0M98.5 203.5h5M226 206h0M113.5 208.5h2.5M158.5 208.5h0M223.5 208.5h0M238.5 208.5h0M113.5 211h0M228.5 211h0M236 211h0M118.5 213.5h0M158.5 213.5h0M231 213.5h2.5M161 216h0M218.5 216h0"/>
<path stroke="#0000b2" d="M201 3.5h0M203.5 6h10M173.5 13.5h10M168.5 16h2.5M183.5 16h2.5M146 18.5h5M161 18.5h5M186 18.5h2.5M198.5 18.5h7.5M141 21h2.5M148.5 21h2.5M163.5 21h12.5M188.5 21h15M138.5 23.5h12.5M138.5 26h17.5M186 28.5h7.5M138.5 31h0M183.5 31h10M131 33.5h12.5M181 33.5h10M126 36h17.5M181 36h15M126 38.5h2.5M168.5 38.5h30M98.5 41h0M166 41h7.5M183.5 41h17.5M91 43.5h22.5M146 43.5h27.5M96 46h7.5M158.5 46h12.5M158.5 53.5h2.5M158.5 56h0M218.5 56h0M131 58.5h5M218.5 58.5h0M103.5 61h17.5M106 63.5h20M108.5 66h7.5M126 66h5M213.5 66h7.5M108.5 68.5h10M113.5 71h0M133.5 78.5h0M141 78.5h0M131 81h2.5M131 83.5h0M136 83.5h0M131 86h0M213.5 103.5h10M213.5 106h0M223.5 106h2.5M221 108.5h5M203.5 113.5h5M203.5 116h22.5M226 118.5h0M228.5 128.5h0M153.5 161h0M131 163.5h10M151 163.5h0M123.5 166h0M136 166h5M126 168.5h10M136 178.5h22.5M131 181h12.5M148.5 181h0M126 183.5h10M133.5 191h2.5M153.5 191h2.5M151 193.5h7.5M153.5 196h7.5M211 203.5h2.5M208.5 206h2.5M216 206h0M178.5 208.5h2.5M186 208.5h2.5M213.5 208.5h2.5M178.5 211h2.5M193.5 211h5"/>
<path stroke="#00b2ff" d="M61 43.5h5M61 48.5h0M76 51h0M66 56h0M53.5 66h0M93.5 66h0M51 68.5h5M76 68.5h0M58.5 71h0M98.5 71h0M63.5 73.5h0M103.5 73.5h0M113.5 76h0M118.5 76h0M153.5 106h2.5M163.5 118.5h0M171 121h0M178.5 123.5h0M181 126h0M108.5 133.5h0M186 133.5h0M116 136h0M128.5 136h0M143.5 136h0M123.5 138.5h5M128.5 141h0M206 141h0M103.5 143.5h0M141 143.5h0M98.5 146h7.5M218.5 146h0M81 148.5h0M91 148.5h2.5M106 148.5h2.5M168.5 148.5h2.5M83.5 151h0M91 151h7.5M111 151h7.5M171 151h2.5M81 153.5h0M138.5 153.5h0M173.5 153.5h5M186 153.5h0M158.5 156h0M168.5 156h5M161 158.5h5M191 158.5h0M86 161h0M166 161h5M81 163.5h0M196 163.5h0M161 166h5M203.5 166h0M91 168.5h0M168.5 168.5h0M206 168.5h0M168.5 171h0M206 171h0M163.5 173.5h2.5M91 176h0M168.5 176h0M163.5 178.5h0M88.5 181h0M173.5 181h0M206 181h0M208.5 183.5h0M171 186h0M191 186h0M208.5 186h0M213.5 186h0M93.5 188.5h0M188.5 188.5h2.5M208.5 188.5h0M213.5 188.5h0M91 191h2.5M191 191h0M213.5 191h0M91 193.5h0M93.5 196h0M93.5 198.5h0M93.5 201h0M111 201h7.5M128.5 201h5M143.5 201h0M96 203.5h0M106 203.5h12.5M153.5 203.5h0M223.5 203.5h0M231 203.5h5M113.5 206h2.5M156 206h0M238.5 206h0M118.5 208.5h0M226 208.5h0M118.5 211h0M126 211h2.5M158.5 211h0M223.5 211h2.5M113.5 213.5h0M121 213.5h10M156 213.5h0M228.5 213.5h0M231 216h0"/>
<path stroke="#000099" d="M208.5 1h2.5M203.5 3.5h10M173.5 16h7.5M168.5 18.5h15M146 21h0M178.5 21h7.5M118.5 66h5M133.5 83.5h0M133.5 86h0M216 106h5M126 166h7.5M213.5 206h0M183.5 208.5h0M183.5 211h2.5"/>
<path stroke="#00ccff" d="M61 46h0M68.5 46h0M71 48.5h0M63.5 51h0M73.5 51h0M66 53.5h0M78.5 53.5h0M83.5 58.5h0M86 61h0M91 63.5h0M73.5 66h0M46 71h10M78.5 71h0M76 73.5h0M101 73.5h0M113.5 78.5h0M118.5 78.5h0M123.5 91h0M126 96h0M143.5 103.5h0M151 106h0M158.5 108.5h0M76 111h0M76 113.5h0M73.5 116h2.5M161 116h0M73.5 118.5h2.5M168.5 121h0M108.5 131h0M116 131h0M183.5 131h0M128.5 133.5h5M141 133.5h0M188.5 133.5h0M111 136h0M118.5 136h0M126 136h0M136 136h5M146 136h0M83.5 138.5h0M136 138.5h0M141 138.5h0M163.5 138.5h2.5M83.5 141h0M103.5 141h0M166 141h2.5M211 141h0M81 143.5h0M106 143.5h0M123.5 143.5h2.5M198.5 143.5h0M108.5 146h2.5M141 146h0M161 146h7.5M201 146h0M96 148.5h5M111 148.5h0M123.5 148.5h2.5M131 148.5h2.5M166 148.5h0M173.5 148.5h0M228.5 148.5h0M81 151h0M133.5 151h0M143.5 151h2.5M153.5 151h0M166 151h2.5M176 151h0M231 151h0M156 153.5h0M166 153.5h5M181 153.5h2.5M78.5 156h0M161 156h5M188.5 156h0M78.5 158.5h0M193.5 158.5h0M78.5 161h0M88.5 166h0M166 168.5h0M91 171h0M166 171h0M226 171h2.5M91 173.5h0M161 173.5h0M98.5 176h0M166 176h0M171 178.5h0M206 178.5h0M93.5 181h0M98.5 181h0M208.5 181h2.5M88.5 183.5h2.5M98.5 183.5h0M196 183.5h0M213.5 183.5h0M88.5 186h2.5M96 186h0M193.5 186h0M216 186h0M88.5 188.5h2.5M193.5 188.5h0M233.5 188.5h0M186 191h2.5M186 193.5h0M196 193.5h0M201 193.5h2.5M91 196h0M218.5 196h0M221 198.5h0M136 201h5M93.5 203.5h0M121 203.5h2.5M226 203.5h2.5M98.5 206h2.5M111 206h0M118.5 206h2.5M123.5 208.5h5M121 211h2.5M156 211h0M238.5 211h0M221 213.5h5M236 213.5h0M116 216h12.5M158.5 216h0M226 216h2.5M233.5 216h5"/>
<path stroke="#00e5ff" d="M63.5 46h2.5M63.5 48.5h5M66 51h5M76 53.5h0M81 56h0M68.5 58.5h0M71 61h0M73.5 63.5h0M78.5 68.5h0M93.5 68.5h0M51 73.5h5M61 73.5h0M113.5 83.5h2.5M121 86h0M121 88.5h0M136 101h0M141 103.5h0M148.5 106h0M78.5 111h0M158.5 111h0M73.5 121h2.5M76 123.5h0M176 123.5h0M73.5 126h2.5M71 128.5h5M181 128.5h0M106 131h0M128.5 131h0M141 131h2.5M103.5 133.5h2.5M118.5 133.5h0M126 133.5h0M136 133.5h2.5M183.5 133.5h0M121 136h2.5M166 136h0M191 136h0M98.5 138.5h0M113.5 138.5h7.5M138.5 138.5h0M148.5 138.5h0M158.5 138.5h2.5M168.5 138.5h2.5M121 141h0M131 141h0M138.5 141h0M148.5 141h0M156 141h7.5M193.5 141h0M108.5 143.5h0M128.5 143.5h0M138.5 143.5h0M161 143.5h7.5M213.5 143.5h0M78.5 146h0M113.5 146h0M123.5 146h2.5M131 146h7.5M143.5 146h2.5M151 146h2.5M171 146h2.5M203.5 146h0M216 146h0M103.5 148.5h0M113.5 148.5h2.5M128.5 148.5h0M136 148.5h0M141 148.5h0M148.5 148.5h2.5M161 148.5h2.5M176 148.5h0M136 151h0M141 151h0M163.5 151h0M178.5 151h0M78.5 153.5h0M158.5 153.5h5M188.5 153.5h0M228.5 153.5h2.5M191 156h0M231 163.5h0M83.5 166h2.5M208.5 168.5h0M231 171h0M88.5 176h0M93.5 176h0M86 178.5h0M93.5 178.5h0M98.5 178.5h0M86 181h0M96 181h0M93.5 183.5h2.5M171 183.5h0M206 183.5h0M93.5 186h0M233.5 186h2.5M216 188.5h0M231 188.5h0M236 188.5h0M193.5 191h0M206 191h0M216 191h0M216 193.5h0M236 201h0M126 203.5h2.5M146 203.5h5M96 206h0M103.5 206h0M123.5 206h5M121 208.5h0M156 208.5h0M131 211h0M151 213.5h0M238.5 213.5h0M156 216h0M221 216h2.5M156 218.5h2.5"/>
<path stroke="#00ffff" d="M68.5 53.5h5M68.5 56h0M83.5 61h0M88.5 63.5h0M76 66h0M81 68.5h0M81 71h0M96 71h0M46 73.5h2.5M58.5 73.5h0M118.5 83.5h0M138.5 103.5h0M146 106h0M76 108.5h2.5M153.5 108.5h0M73.5 113.5h0M78.5 113.5h0M78.5 116h0M161 118.5h0M166 121h0M73.5 123.5h0M173.5 123.5h0M71 126h0M78.5 126h0M178.5 126h0M126 128.5h2.5M71 131h2.5M118.5 131h7.5M131 131h2.5M138.5 131h0M146 131h0M73.5 133.5h0M121 133.5h2.5M146 133.5h0M151 133.5h0M86 136h0M93.5 136h0M158.5 136h5M103.5 138.5h0M156 138.5h0M173.5 138.5h0M106 141h7.5M133.5 141h2.5M171 141h0M208.5 141h0M111 143.5h2.5M121 143.5h0M131 143.5h5M156 143.5h2.5M171 143.5h0M196 143.5h0M206 143.5h0M116 146h5M128.5 146h0M148.5 146h0M156 146h2.5M176 146h0M78.5 148.5h0M118.5 148.5h2.5M138.5 148.5h0M143.5 148.5h2.5M223.5 148.5h0M78.5 151h0M138.5 151h0M156 151h0M161 151h0M181 151h0M76 153.5h0M193.5 156h0M231 156h0M196 161h0M198.5 163.5h2.5M81 166h0M206 166h0M233.5 171h0M206 173.5h0M206 176h0M171 181h0M213.5 181h0M163.5 183.5h0M166 186h0M196 186h0M218.5 186h0M231 186h0M196 188.5h0M206 188.5h0M218.5 188.5h0M196 191h2.5M233.5 191h2.5M193.5 193.5h0M221 196h0M223.5 198.5h0M223.5 201h0M231 201h2.5M131 203.5h2.5M143.5 203.5h0M106 206h2.5M131 206h0M153.5 206h0M101 208.5h0M111 208.5h0M131 208.5h0M113.5 216h0M131 216h0M151 216h2.5M153.5 218.5h0"/>
<path stroke="#1affe5" d="M73.5 61h0M76 63.5h0M86 63.5h0M78.5 66h0M91 66h0M83.5 68.5h0M83.5 71h0M78.5 73.5h0M98.5 73.5h0M48.5 76h2.5M66 76h2.5M106 76h2.5M121 91h0M126 98.5h0M133.5 101h0M143.5 106h0M151 108.5h0M156 108.5h0M73.5 111h0M158.5 113.5h0M71 118.5h0M78.5 118.5h0M71 121h0M78.5 121h0M163.5 121h0M71 123.5h0M78.5 123.5h0M123.5 126h7.5M68.5 128.5h0M78.5 128.5h0M121 128.5h2.5M131 128.5h0M141 128.5h5M76 131h0M103.5 131h0M136 131h0M148.5 131h5M181 131h0M71 133.5h0M148.5 133.5h0M83.5 136h0M91 136h0M96 136h0M103.5 136h2.5M156 136h0M168.5 136h5M101 138.5h0M106 138.5h0M111 138.5h0M191 138.5h0M116 141h2.5M153.5 141h0M173.5 141h0M116 143.5h2.5M153.5 143.5h0M173.5 143.5h0M76 146h0M76 148.5h0M153.5 148.5h5M178.5 148.5h0M221 148.5h0M76 151h0M158.5 151h0M196 153.5h0M208.5 171h0M86 176h0M168.5 178.5h0M198.5 183.5h0M216 183.5h0M206 186h0M228.5 188.5h0M201 191h2.5M218.5 191h0M231 191h0M218.5 193.5h0M233.5 193.5h2.5M223.5 196h0M233.5 196h2.5M231 198.5h5M228.5 201h0M136 203.5h5M133.5 206h0M98.5 208.5h0M148.5 213.5h0M153.5 213.5h0M148.5 216h0M151 218.5h0"/>
<path stroke="#33ffcc" d="M71 56h0M76 56h2.5M71 58.5h0M81 58.5h0M81 61h0M78.5 63.5h5M86 66h2.5M86 68.5h5M86 71h0M93.5 71h0M53.5 76h2.5M71 76h2.5M111 76h0M111 81h0M141 106h0M73.5 108.5h0M153.5 111h0M71 116h0M126 123.5h2.5M171 123.5h0M68.5 126h0M81 126h0M121 126h0M138.5 126h10M176 126h0M111 128.5h7.5M133.5 128.5h0M138.5 128.5h0M148.5 128.5h0M178.5 128.5h0M68.5 131h0M78.5 131h0M156 131h0M68.5 133.5h0M76 133.5h0M153.5 133.5h10M71 136h0M88.5 136h0M98.5 136h0M108.5 136h0M186 136h2.5M153.5 138.5h0M78.5 143.5h0M148.5 143.5h0M211 143.5h0M73.5 146h0M206 146h0M213.5 146h0M73.5 148.5h0M226 148.5h0M183.5 151h0M228.5 151h0M191 153.5h0M196 156h0M228.5 156h0M196 158.5h0M231 158.5h0M203.5 163.5h0M228.5 163.5h0M208.5 166h0M81 168.5h0M211 168.5h0M223.5 168.5h0M223.5 171h0M83.5 176h0M96 176h0M208.5 178.5h0M203.5 183.5h0M233.5 183.5h0M168.5 186h0M221 186h0M226 186h2.5M221 188.5h5M221 191h7.5M221 193.5h2.5M228.5 193.5h2.5M226 196h5M226 198.5h2.5M226 201h0M151 206h0M96 208.5h0M133.5 208.5h0M111 211h0M133.5 211h0M153.5 211h0M148.5 218.5h0"/>
<path stroke="#4dffb2" d="M73.5 56h0M73.5 58.5h2.5M76 61h2.5M81 66h2.5M88.5 71h2.5M81 73.5h2.5M96 73.5h0M58.5 76h0M63.5 76h0M76 76h0M108.5 81h0M111 83.5h0M118.5 88.5h0M118.5 91h0M91 93.5h0M123.5 93.5h0M88.5 96h0M136 103.5h0M138.5 106h0M81 108.5h0M81 111h0M151 111h0M156 111h0M156 113.5h0M153.5 116h0M158.5 116h0M153.5 118.5h0M143.5 121h2.5M161 121h0M68.5 123.5h0M81 123.5h0M121 123.5h2.5M131 123.5h0M141 123.5h10M166 123.5h2.5M66 126h0M133.5 126h0M151 126h0M173.5 126h0M103.5 128.5h5M136 128.5h0M151 128.5h2.5M158.5 131h0M178.5 131h0M78.5 133.5h0M101 133.5h0M166 133.5h0M181 133.5h0M73.5 136h0M81 136h0M101 136h0M148.5 136h0M153.5 136h0M81 138.5h0M81 141h0M191 141h0M151 143.5h0M176 143.5h0M193.5 143.5h0M208.5 143.5h0M181 148.5h0M186 151h0M193.5 153.5h0M231 161h0M206 163.5h0M83.5 168.5h0M88.5 168.5h0M211 171h0M88.5 173.5h0M166 178.5h0M216 181h0M201 183.5h0M218.5 183.5h0M223.5 186h0M198.5 188.5h0M226 193.5h0M136 206h0M148.5 206h0M153.5 208.5h0M151 211h0M133.5 213.5h0M146 213.5h0M133.5 216h0M146 216h0M146 218.5h0"/>
<path stroke="#66ff99" d="M78.5 58.5h0M86 73.5h0M61 76h0M103.5 76h0M48.5 78.5h2.5M88.5 93.5h0M123.5 96h0M128.5 101h2.5M76 106h2.5M148.5 108.5h0M81 113.5h0M151 113.5h2.5M151 116h0M141 118.5h10M68.5 121h0M141 121h0M148.5 121h5M133.5 123.5h0M138.5 123.5h0M153.5 123.5h0M163.5 123.5h0M118.5 126h0M153.5 126h0M81 128.5h0M156 128.5h0M176 128.5h0M81 131h0M101 131h0M161 131h0M81 133.5h0M173.5 133.5h0M76 136h0M151 136h0M183.5 136h0M108.5 138.5h0M176 141h0M76 143.5h0M198.5 146h0M208.5 146h2.5M203.5 148.5h0M218.5 148.5h0M188.5 151h0M198.5 161h0M211 166h0M226 166h0M86 168.5h0M83.5 171h0M83.5 173.5h0M233.5 173.5h0M96 178.5h0M211 178.5h0M163.5 181h0M233.5 181h0M231 183.5h0M201 188.5h2.5M146 206h0M103.5 208.5h0M108.5 208.5h0M151 208.5h0M148.5 211h0M111 213.5h0"/>
<path stroke="#80ff80" d="M88.5 73.5h5M98.5 76h2.5M53.5 78.5h2.5M66 78.5h0M106 78.5h0M101 81h0M106 81h0M108.5 83.5h0M113.5 86h0M86 96h0M91 96h0M86 98.5h2.5M126 101h0M133.5 103.5h0M81 106h0M136 106h0M141 108.5h0M71 113.5h0M81 116h0M141 116h2.5M148.5 116h0M156 116h0M133.5 118.5h0M138.5 118.5h0M158.5 118.5h0M81 121h0M123.5 121h10M138.5 121h0M156 121h2.5M66 123.5h0M118.5 123.5h0M156 123.5h5M156 126h2.5M166 126h0M171 126h0M101 128.5h0M158.5 128.5h0M173.5 128.5h0M163.5 131h0M173.5 131h2.5M83.5 133.5h0M168.5 133.5h2.5M176 133.5h2.5M78.5 136h0M176 136h0M71 138.5h0M151 138.5h0M176 138.5h0M151 141h0M73.5 143.5h0M181 146h2.5M196 146h0M183.5 148.5h0M201 148.5h0M206 148.5h0M191 151h0M196 151h0M198.5 153.5h0M226 153.5h0M198.5 156h0M208.5 163.5h0M88.5 171h0M86 173.5h0M208.5 173.5h0M226 173.5h2.5M208.5 176h0M213.5 178.5h0M233.5 178.5h0M168.5 181h0M168.5 183.5h0M221 183.5h0M198.5 186h0M138.5 206h5M136 208.5h0M148.5 208.5h0M98.5 211h0M146 211h0M143.5 216h0M143.5 218.5h0"/>
<path stroke="#99ff66" d="M58.5 78.5h0M68.5 78.5h0M73.5 78.5h0M108.5 78.5h0M51 81h0M103.5 81h0M106 83.5h0M116 86h0M116 88.5h0M88.5 91h2.5M116 91h0M86 93.5h0M118.5 93.5h2.5M123.5 98.5h0M76 103.5h2.5M73.5 106h0M143.5 108.5h2.5M148.5 111h0M148.5 113.5h0M133.5 116h0M146 116h0M68.5 118.5h0M81 118.5h0M131 118.5h0M136 118.5h0M156 118.5h0M118.5 121h2.5M136 121h0M116 123.5h0M136 123.5h0M101 126h5M116 126h0M136 126h0M161 126h2.5M168.5 126h0M161 128.5h2.5M171 128.5h0M166 131h0M171 131h0M98.5 133.5h0M181 136h0M73.5 138.5h0M78.5 138.5h0M183.5 138.5h5M71 141h0M78.5 141h0M188.5 141h0M191 143.5h0M178.5 146h0M193.5 146h0M198.5 148.5h0M213.5 148.5h2.5M193.5 151h0M198.5 151h0M221 151h5M226 156h0M198.5 158.5h0M228.5 158.5h0M201 161h0M213.5 168.5h0M221 168.5h0M86 171h0M213.5 171h0M221 171h0M211 173.5h0M223.5 173.5h0M233.5 176h0M166 183.5h0M223.5 183.5h5M106 208.5h0M146 208.5h0M101 211h0M143.5 213.5h0M111 216h0"/>
<path stroke="#b3ff4c" d="M78.5 76h5M96 76h0M61 78.5h2.5M76 78.5h0M98.5 78.5h0M103.5 78.5h0M111 78.5h0M53.5 81h2.5M73.5 81h2.5M93.5 81h5M51 83.5h2.5M73.5 83.5h2.5M93.5 83.5h10M113.5 88.5h0M93.5 93.5h0M116 93.5h0M83.5 96h0M116 96h5M73.5 98.5h2.5M83.5 98.5h0M76 101h2.5M86 101h2.5M73.5 103.5h0M81 103.5h0M133.5 106h0M83.5 108.5h0M133.5 108.5h0M138.5 108.5h0M71 111h0M83.5 111h0M141 111h0M141 113.5h5M128.5 116h2.5M136 116h2.5M126 118.5h2.5M66 121h0M108.5 121h7.5M103.5 123.5h2.5M111 123.5h2.5M108.5 126h5M98.5 128.5h0M166 128.5h2.5M83.5 131h0M98.5 131h0M168.5 131h0M178.5 136h0M76 138.5h0M178.5 141h0M183.5 141h2.5M178.5 143.5h0M183.5 143.5h0M186 148.5h2.5M196 148.5h0M208.5 148.5h2.5M201 153.5h0M223.5 153.5h0M201 156h0M218.5 156h0M223.5 156h0M203.5 161h2.5M211 163.5h0M213.5 166h0M213.5 173.5h0M221 173.5h0M231 173.5h0M211 176h2.5M216 178.5h0M218.5 181h0M231 181h0M201 186h0M136 211h0M136 216h0M141 216h0M138.5 218.5h2.5"/>
<path stroke="#ccff33" d="M86 76h0M91 76h2.5M101 78.5h0M58.5 81h2.5M66 81h2.5M56 83.5h0M78.5 83.5h5M88.5 83.5h2.5M51 86h2.5M91 86h7.5M106 86h5M88.5 88.5h2.5M86 91h0M93.5 91h0M108.5 91h5M108.5 93.5h5M73.5 96h2.5M81 96h0M93.5 96h0M111 96h2.5M78.5 98.5h2.5M91 98.5h0M116 98.5h5M73.5 101h0M81 101h2.5M123.5 101h0M83.5 103.5h2.5M126 103.5h5M83.5 106h0M126 106h5M116 108.5h0M123.5 108.5h7.5M136 108.5h0M108.5 111h5M128.5 111h5M143.5 111h2.5M83.5 113.5h0M108.5 113.5h5M128.5 113.5h10M68.5 116h0M108.5 116h17.5M106 118.5h17.5M103.5 121h2.5M83.5 123.5h0M101 123.5h0M108.5 123.5h0M83.5 126h0M83.5 128.5h0M86 133.5h0M91 133.5h2.5M178.5 138.5h2.5M73.5 141h0M181 141h0M181 143.5h0M186 143.5h2.5M186 146h5M191 148.5h2.5M201 151h5M218.5 151h0M203.5 153.5h17.5M203.5 156h12.5M221 156h0M201 158.5h0M228.5 161h0M213.5 163.5h0M226 163.5h0M216 166h0M221 166h2.5M216 168.5h2.5M216 171h2.5M216 173.5h2.5M216 176h0M223.5 176h7.5M231 178.5h0M221 181h2.5M203.5 186h0M138.5 208.5h0M143.5 208.5h0M108.5 211h0M143.5 211h0"/>
<path stroke="#e5ff1a" d="M88.5 76h0M71 78.5h0M91 78.5h0M96 78.5h0M63.5 81h0M71 81h0M78.5 81h2.5M88.5 81h2.5M58.5 83.5h0M71 83.5h0M86 83.5h0M56 86h2.5M73.5 86h2.5M81 86h2.5M88.5 86h0M101 86h2.5M118.5 86h0M53.5 88.5h5M63.5 88.5h0M71 88.5h7.5M86 88.5h0M93.5 88.5h2.5M106 88.5h5M83.5 91h0M96 91h0M106 91h0M83.5 93.5h0M96 93.5h0M106 93.5h0M78.5 96h0M108.5 96h0M71 98.5h0M111 98.5h2.5M91 101h0M116 101h5M88.5 103.5h0M116 103.5h2.5M123.5 103.5h0M86 106h0M111 106h12.5M71 108.5h0M108.5 108.5h5M118.5 108.5h2.5M106 111h0M116 111h10M136 111h2.5M68.5 113.5h0M106 113.5h0M116 113.5h10M106 116h0M103.5 118.5h0M63.5 121h0M101 121h0M98.5 126h0M96 133.5h0M76 141h0M208.5 151h7.5M203.5 158.5h2.5M216 158.5h2.5M223.5 158.5h2.5M208.5 161h0M216 163.5h0M218.5 166h0M218.5 176h2.5M218.5 178.5h0M226 181h2.5M98.5 213.5h0M136 213.5h0M141 213.5h0M138.5 216h0"/>
<path stroke="#ffff00" d="M81 78.5h2.5M88.5 78.5h0M93.5 78.5h0M83.5 81h2.5M61 83.5h0M66 83.5h2.5M61 86h0M66 86h5M78.5 86h0M86 86h0M61 88.5h0M66 88.5h2.5M81 88.5h2.5M98.5 88.5h5M53.5 91h10M71 91h10M98.5 91h5M53.5 93.5h0M76 93.5h5M103.5 93.5h0M71 96h0M103.5 96h2.5M93.5 98.5h0M108.5 98.5h0M71 101h0M111 101h2.5M91 103.5h0M111 103.5h2.5M121 103.5h0M71 106h0M88.5 106h0M108.5 106h0M86 108.5h0M106 108.5h0M86 111h0M103.5 111h0M103.5 113.5h0M83.5 116h0M101 116h2.5M66 118.5h0M101 118.5h0M83.5 121h0M98.5 123.5h0M96 128.5h0M96 131h0M208.5 158.5h5M221 158.5h0M211 161h7.5M226 161h0M218.5 163.5h2.5M221 178.5h7.5M166 181h0M141 208.5h0M138.5 211h2.5"/>
<path stroke="#ffe500" d="M78.5 78.5h0M86 78.5h0M63.5 83.5h0M63.5 86h0M66 91h2.5M56 93.5h0M71 93.5h2.5M98.5 93.5h2.5M96 96h0M101 96h0M106 98.5h0M93.5 101h0M71 103.5h0M93.5 103.5h0M108.5 103.5h0M91 106h0M106 106h0M88.5 108.5h2.5M103.5 108.5h0M88.5 111h0M101 111h0M86 113.5h0M101 113.5h0M66 116h0M63.5 118.5h0M83.5 118.5h0M98.5 118.5h0M98.5 121h0M86 131h0M93.5 131h0M88.5 133.5h0M221 161h2.5M223.5 163.5h0M103.5 211h0"/>
<path stroke="#ffcc00" d="M58.5 93.5h5M68.5 93.5h0M68.5 96h0M98.5 96h0M68.5 98.5h0M103.5 98.5h0M108.5 101h0M106 103.5h0M93.5 106h0M103.5 106h0M93.5 108.5h7.5M68.5 111h0M91 111h7.5M66 113.5h0M98.5 113.5h0M63.5 116h0M98.5 116h0M96 123.5h0M86 126h0M96 126h0M86 128.5h0M93.5 128.5h0M91 131h0M101 213.5h0M108.5 213.5h0M138.5 213.5h0M98.5 216h0"/>
<path stroke="#ffb300" d="M66 93.5h0M56 96h2.5M66 96h0M66 98.5h0M96 98.5h5M68.5 101h0M96 101h0M103.5 101h2.5M96 103.5h0M103.5 103.5h0M58.5 106h0M68.5 106h0M96 106h5M61 108.5h0M61 111h5M61 113.5h2.5M88.5 113.5h7.5M86 116h0M96 116h0M96 118.5h0M86 121h0M96 121h0M86 123.5h0M88.5 131h0M106 211h0M108.5 216h0"/>
<path stroke="#ff9900" d="M61 96h2.5M56 98.5h0M66 101h0M98.5 101h2.5M58.5 103.5h0M68.5 103.5h0M98.5 103.5h2.5M61 106h5M63.5 108.5h5M88.5 116h5M93.5 118.5h0M93.5 121h0M93.5 123.5h0M93.5 126h0M88.5 128.5h2.5"/>
<path stroke="#ff8000" d="M58.5 98.5h5M58.5 101h5M61 103.5h5M86 118.5h5M88.5 121h2.5M88.5 123.5h2.5M88.5 126h2.5M101 216h0"/>
<path stroke="#ff3300" d="M103.5 213.5h0M103.5 216h0"/>
<path stroke="#ff1a00" d="M106 216h0"/>
<path stroke="#e50000" d="M106 213.5h0"/>
</g>
<g stroke-width="2.8"><use href="#f0"/></g>
</g>
<use href="#st"/>
</g>
<text x="216.0" y="77.0" font-size="12" font-weight="bold" fill="#262626">100<tspan dx="1.8" dy="-10.6" font-size="7" font-weight="normal">o</tspan><tspan dx="6.5" dy="10.6">W</tspan></text>
<text x="284.5" y="77.0" font-size="12" font-weight="bold" fill="#262626">90<tspan dx="1.8" dy="-10.6" font-size="7" font-weight="normal">o</tspan><tspan dx="6.5" dy="10.6">W</tspan></text>
<text x="348.5" y="77.0" font-size="12" font-weight="bold" fill="#262626">80<tspan dx="1.8" dy="-10.6" font-size="7" font-weight="normal">o</tspan><tspan dx="6.5" dy="10.6">W</tspan></text>
<text x="412.0" y="77.0" font-size="12" font-weight="bold" fill="#262626">70<tspan dx="1.8" dy="-10.6" font-size="7" font-weight="normal">o</tspan><tspan dx="6.5" dy="10.6">W</tspan></text>
<text x="146.6" y="112.7" font-size="12" font-weight="bold" fill="#262626">48<tspan dx="2.6" dy="-10.8" font-size="7" font-weight="normal">o</tspan><tspan dx="4.8" dy="10.8">N</tspan></text>
<text x="146.6" y="130.7" font-size="12" font-weight="bold" fill="#262626">46<tspan dx="2.6" dy="-10.8" font-size="7" font-weight="normal">o</tspan><tspan dx="4.8" dy="10.8">N</tspan></text>
<text x="146.6" y="147.8" font-size="12" font-weight="bold" fill="#262626">44<tspan dx="2.6" dy="-10.8" font-size="7" font-weight="normal">o</tspan><tspan dx="4.8" dy="10.8">N</tspan></text>
<text x="146.6" y="166.7" font-size="12" font-weight="bold" fill="#262626">42<tspan dx="2.6" dy="-10.8" font-size="7" font-weight="normal">o</tspan><tspan dx="4.8" dy="10.8">N</tspan></text>
<text x="146.6" y="182.3" font-size="12" font-weight="bold" fill="#262626">40<tspan dx="2.6" dy="-10.8" font-size="7" font-weight="normal">o</tspan><tspan dx="4.8" dy="10.8">N</tspan></text>
<text x="146.6" y="197.7" font-size="12" font-weight="bold" fill="#262626">38<tspan dx="2.6" dy="-10.8" font-size="7" font-weight="normal">o</tspan><tspan dx="4.8" dy="10.8">N</tspan></text>
<text x="146.6" y="214.6" font-size="12" font-weight="bold" fill="#262626">36<tspan dx="2.6" dy="-10.8" font-size="7" font-weight="normal">o</tspan><tspan dx="4.8" dy="10.8">N</tspan></text>
<text x="146.6" y="228.7" font-size="12" font-weight="bold" fill="#262626">34<tspan dx="2.6" dy="-10.8" font-size="7" font-weight="normal">o</tspan><tspan dx="4.8" dy="10.8">N</tspan></text>
<text x="146.6" y="245.7" font-size="12" font-weight="bold" fill="#262626">32<tspan dx="2.6" dy="-10.8" font-size="7" font-weight="normal">o</tspan><tspan dx="4.8" dy="10.8">N</tspan></text>
<text x="146.6" y="259.7" font-size="12" font-weight="bold" fill="#262626">30<tspan dx="2.6" dy="-10.8" font-size="7" font-weight="normal">o</tspan><tspan dx="4.8" dy="10.8">N</tspan></text>
<text x="146.6" y="272.8" font-size="12" font-weight="bold" fill="#262626">28<tspan dx="2.6" dy="-10.8" font-size="7" font-weight="normal">o</tspan><tspan dx="4.8" dy="10.8">N</tspan></text>
<text x="146.6" y="287.8" font-size="12" font-weight="bold" fill="#262626">26<tspan dx="2.6" dy="-10.8" font-size="7" font-weight="normal">o</tspan><tspan dx="4.8" dy="10.8">N</tspan></text>
<text x="146.6" y="301.5" font-size="12" font-weight="bold" fill="#262626">24<tspan dx="2.6" dy="-10.8" font-size="7" font-weight="normal">o</tspan><tspan dx="4.8" dy="10.8">N</tspan></text>
<text x="146.6" y="315.0" font-size="12" font-weight="bold" fill="#262626">22<tspan dx="2.6" dy="-10.8" font-size="7" font-weight="normal">o</tspan><tspan dx="4.8" dy="10.8">N</tspan></text>
<rect x="441" y="95" width="24" height="215.5" fill="url(#jet)"/>
<rect x="441.5" y="95.5" width="23" height="215" fill="none" stroke="#000" stroke-opacity="0.55" stroke-width="1"/>
<line x1="462.5" y1="98.5" x2="465" y2="98.5" stroke="#222" stroke-width="1"/>
<text x="473.1" y="105.9" font-size="20.8" font-weight="bold" fill="#262626">15</text>
<line x1="462.5" y1="169.2" x2="465" y2="169.2" stroke="#222" stroke-width="1"/>
<text x="473.1" y="176.6" font-size="20.8" font-weight="bold" fill="#262626">10</text>
<line x1="462.5" y1="239.8" x2="465" y2="239.8" stroke="#222" stroke-width="1"/>
<text x="473.1" y="247.2" font-size="20.8" font-weight="bold" fill="#262626">5</text>
<line x1="462.5" y1="310.5" x2="465" y2="310.5" stroke="#222" stroke-width="1"/>
<text x="473.1" y="317.9" font-size="20.8" font-weight="bold" fill="#262626">0</text>
<text x="125.0" y="341.0" font-size="22.4" font-weight="bold" fill="#262626" textLength="366.5" lengthAdjust="spacingAndGlyphs">SAT+RAP 850 hPa MR (g/kg)</text>
<g transform="translate(616.5 96.5) scale(1.00000 1.00000)">
<rect x="0" y="0" width="234" height="213" fill="none" stroke="#000" stroke-width="1"/>
<g fill="none" stroke-linecap="round" stroke-width="4.2" clip-path="url(#swc)">
<g id="f1">
<path stroke="#0000e6" d="M196 3.5h2.5M198.5 6h5M128.5 16h20M128.5 18.5h15M113.5 21h0M108.5 23.5h5M131 23.5h7.5M98.5 26h7.5M123.5 26h2.5M146 26h0M93.5 28.5h12.5M121 28.5h5M148.5 28.5h0M103.5 31h2.5M116 31h10M146 31h0M83.5 33.5h2.5M106 33.5h0M116 33.5h2.5M83.5 36h2.5M113.5 36h5M148.5 36h0M203.5 36h0M83.5 38.5h0M121 38.5h0M151 38.5h2.5M193.5 38.5h10M83.5 41h2.5M116 41h2.5M153.5 41h2.5M191 41h7.5M83.5 43.5h2.5M108.5 43.5h2.5M153.5 43.5h2.5M78.5 46h5M106 46h2.5M153.5 46h0M66 48.5h10M103.5 48.5h2.5M156 48.5h0M66 51h5M81 51h5M103.5 51h0M158.5 51h2.5M68.5 53.5h7.5M83.5 53.5h5M103.5 53.5h0M163.5 53.5h0M63.5 56h2.5M93.5 56h7.5M163.5 56h0M98.5 58.5h0M163.5 58.5h0M163.5 61h0M66 63.5h2.5M166 63.5h20M133.5 66h7.5M166 66h0M191 66h2.5M136 68.5h10M196 68.5h0M136 71h0M143.5 71h2.5M196 71h0M136 73.5h0M146 73.5h0M176 73.5h7.5M191 73.5h2.5M138.5 76h10M171 76h17.5M168.5 78.5h12.5M146 81h0M153.5 81h0M166 81h5M146 83.5h0M166 83.5h5M148.5 86h0M166 86h15M151 88.5h0M166 88.5h20M153.5 91h2.5M163.5 91h22.5M156 93.5h5M168.5 93.5h5M158.5 96h0M173.5 96h2.5M163.5 98.5h12.5M158.5 101h5M168.5 101h5M163.5 103.5h12.5M188.5 103.5h0M173.5 106h5M171 108.5h5M171 111h0M173.5 113.5h0M176 116h0M178.5 118.5h0M186 121h2.5M191 123.5h0M131 126h0M196 126h5M211 126h0M128.5 128.5h0M133.5 128.5h2.5M203.5 128.5h2.5M136 131h0M203.5 131h0M108.5 133.5h5M138.5 133.5h0M206 133.5h0M103.5 136h7.5M141 136h2.5M213.5 136h2.5M96 138.5h2.5M111 138.5h0M126 138.5h0M143.5 138.5h0M218.5 138.5h0M93.5 141h5M108.5 141h2.5M123.5 141h0M146 141h0M221 141h0M83.5 143.5h25M121 143.5h2.5M146 143.5h10M221 143.5h0M83.5 146h12.5M113.5 146h7.5M138.5 146h5M156 146h5M223.5 146h0M88.5 148.5h5M156 148.5h10M228.5 148.5h0M83.5 151h5M158.5 151h10M78.5 153.5h2.5M158.5 153.5h10M81 156h2.5M133.5 156h0M171 156h5M83.5 158.5h2.5M181 158.5h5M83.5 161h2.5M186 161h2.5M86 163.5h2.5M193.5 163.5h2.5M86 166h5M198.5 166h0M83.5 168.5h7.5M201 168.5h2.5M83.5 171h5M208.5 171h0M91 173.5h2.5M123.5 173.5h10M93.5 176h7.5M123.5 176h10M173.5 176h2.5M213.5 176h0M86 178.5h15M126 178.5h7.5M173.5 178.5h5M86 181h7.5M126 181h0M133.5 181h0M173.5 181h10M221 181h0M93.5 183.5h5M123.5 183.5h2.5M133.5 183.5h0M168.5 183.5h7.5M96 186h10M116 186h5M133.5 186h0M223.5 186h0M88.5 188.5h5M98.5 188.5h17.5M133.5 188.5h0M228.5 188.5h5M91 191h22.5M133.5 191h0M236 191h0M91 193.5h5M111 193.5h2.5M131 193.5h2.5M153.5 193.5h5M236 193.5h0M91 196h2.5M106 196h7.5M133.5 196h20M166 196h27.5M93.5 198.5h22.5M131 198.5h10M168.5 198.5h30M96 201h2.5M108.5 201h22.5M173.5 201h2.5M193.5 201h0M93.5 203.5h17.5M126 203.5h7.5M96 206h20M131 206h7.5M196 206h12.5M103.5 208.5h12.5M131 208.5h2.5M166 208.5h10M188.5 208.5h22.5M106 211h7.5M128.5 211h2.5M163.5 211h15M191 211h10M113.5 213.5h15M156 213.5h20M191 213.5h5M113.5 216h7.5M133.5 216h10M183.5 216h12.5M138.5 218.5h2.5"/>
<path stroke="#0000cc" d="M188.5 3.5h5M201 3.5h12.5M191 6h5M206 6h7.5M161 8.5h10M196 8.5h10M158.5 11h7.5M201 11h2.5M138.5 13.5h7.5M158.5 13.5h7.5M211 13.5h2.5M151 16h15M203.5 16h10M121 18.5h5M146 18.5h15M186 18.5h2.5M206 18.5h7.5M116 21h50M211 21h2.5M106 23.5h0M116 23.5h12.5M141 23.5h5M151 23.5h17.5M188.5 23.5h2.5M108.5 26h12.5M148.5 26h17.5M183.5 26h0M108.5 28.5h10M151 28.5h2.5M86 31h15M108.5 31h5M148.5 31h2.5M88.5 33.5h15M108.5 33.5h5M148.5 33.5h5M203.5 33.5h7.5M88.5 36h2.5M101 36h10M151 36h5M176 36h7.5M193.5 36h7.5M206 36h7.5M86 38.5h2.5M113.5 38.5h5M156 38.5h2.5M173.5 38.5h17.5M206 38.5h7.5M88.5 41h2.5M108.5 41h5M158.5 41h2.5M183.5 41h5M201 41h5M88.5 43.5h2.5M101 43.5h5M158.5 43.5h0M186 43.5h12.5M86 46h2.5M101 46h2.5M156 46h2.5M193.5 46h0M78.5 48.5h10M101 48.5h0M158.5 48.5h2.5M73.5 51h5M88.5 51h12.5M163.5 51h2.5M203.5 51h15M91 53.5h10M166 53.5h2.5M211 53.5h7.5M166 56h2.5M176 56h12.5M166 58.5h22.5M166 61h22.5M188.5 63.5h5M196 66h0M198.5 68.5h2.5M138.5 71h2.5M198.5 71h0M138.5 73.5h5M196 73.5h2.5M191 76h15M183.5 78.5h12.5M148.5 81h2.5M173.5 81h7.5M188.5 81h7.5M148.5 83.5h2.5M156 83.5h7.5M173.5 83.5h10M151 86h12.5M183.5 86h5M153.5 88.5h10M188.5 88.5h5M158.5 91h2.5M188.5 91h10M216 91h5M176 93.5h35M218.5 93.5h5M178.5 96h30M223.5 96h0M178.5 98.5h30M166 101h0M176 101h20M178.5 103.5h7.5M191 103.5h10M208.5 103.5h7.5M181 106h15M213.5 106h10M178.5 108.5h7.5M173.5 111h5M176 113.5h2.5M223.5 113.5h2.5M178.5 116h5M218.5 116h7.5M181 118.5h7.5M191 121h0M193.5 123.5h0M208.5 123.5h17.5M203.5 126h5M213.5 126h12.5M131 128.5h0M208.5 128.5h7.5M128.5 131h5M206 131h0M128.5 133.5h7.5M208.5 133.5h5M128.5 136h2.5M136 136h2.5M218.5 136h7.5M101 138.5h7.5M128.5 138.5h0M141 138.5h0M221 138.5h2.5M101 141h5M126 141h0M143.5 141h0M126 143.5h17.5M223.5 143.5h0M98.5 146h12.5M123.5 146h12.5M146 146h7.5M96 148.5h2.5M128.5 148.5h25M91 151h7.5M131 151h12.5M151 151h5M83.5 153.5h7.5M123.5 153.5h32.5M86 156h2.5M118.5 156h12.5M136 156h32.5M88.5 158.5h0M103.5 158.5h45M173.5 158.5h5M88.5 161h5M118.5 161h30M178.5 161h5M91 163.5h10M136 163.5h7.5M166 163.5h7.5M186 163.5h5M93.5 166h5M126 166h2.5M138.5 166h5M193.5 166h2.5M93.5 168.5h2.5M118.5 168.5h25M188.5 168.5h10M91 171h5M116 171h22.5M178.5 171h12.5M203.5 171h2.5M96 173.5h2.5M113.5 173.5h7.5M136 173.5h2.5M168.5 173.5h17.5M211 173.5h0M103.5 176h17.5M136 176h2.5M168.5 176h2.5M178.5 176h25M211 176h0M103.5 178.5h5M118.5 178.5h5M136 178.5h2.5M166 178.5h5M181 178.5h22.5M213.5 178.5h2.5M96 181h7.5M121 181h2.5M136 181h2.5M146 181h10M163.5 181h7.5M186 181h20M101 183.5h20M136 183.5h0M161 183.5h5M178.5 183.5h30M221 183.5h0M108.5 186h5M136 186h0M163.5 186h12.5M186 186h12.5M221 186h0M136 188.5h0M158.5 188.5h2.5M188.5 188.5h5M223.5 188.5h2.5M136 191h2.5M151 191h15M176 191h17.5M208.5 191h2.5M226 191h7.5M98.5 193.5h10M136 193.5h15M161 193.5h35M211 193.5h7.5M231 193.5h2.5M96 196h7.5M156 196h7.5M196 196h2.5M231 196h5M143.5 198.5h22.5M201 198.5h7.5M231 198.5h5M133.5 201h37.5M178.5 201h12.5M196 201h12.5M233.5 201h2.5M136 203.5h77.5M141 206h52.5M211 206h7.5M136 208.5h27.5M178.5 208.5h7.5M213.5 208.5h5M133.5 211h2.5M148.5 211h12.5M181 211h7.5M203.5 211h10M131 213.5h22.5M178.5 213.5h10M198.5 213.5h7.5M213.5 213.5h0M123.5 216h7.5M146 216h35M198.5 216h37.5M143.5 218.5h15"/>
<path stroke="#0000ff" d="M128.5 26h7.5M141 26h2.5M128.5 28.5h2.5M146 28.5h0M128.5 31h2.5M78.5 33.5h2.5M121 33.5h5M146 33.5h0M81 36h0M121 36h7.5M81 38.5h0M123.5 38.5h2.5M148.5 38.5h0M73.5 41h7.5M121 41h2.5M151 41h0M56 43.5h5M73.5 43.5h7.5M113.5 43.5h2.5M151 43.5h0M51 46h25M111 46h0M151 46h0M46 48.5h17.5M108.5 48.5h2.5M153.5 48.5h0M43.5 51h7.5M63.5 51h0M106 51h2.5M113.5 51h12.5M153.5 51h2.5M43.5 53.5h7.5M63.5 53.5h2.5M78.5 53.5h2.5M106 53.5h0M116 53.5h10M158.5 53.5h2.5M58.5 56h2.5M68.5 56h7.5M86 56h5M103.5 56h0M126 56h0M161 56h0M61 58.5h15M91 58.5h5M101 58.5h0M61 61h15M91 61h10M128.5 61h5M63.5 63.5h0M71 63.5h2.5M98.5 63.5h0M131 63.5h7.5M163.5 63.5h0M66 66h7.5M131 66h0M143.5 66h2.5M163.5 66h0M168.5 66h2.5M181 66h7.5M66 68.5h5M133.5 68.5h0M148.5 68.5h0M163.5 68.5h5M193.5 68.5h0M68.5 71h0M133.5 71h0M148.5 71h0M166 71h0M178.5 71h0M193.5 71h0M133.5 73.5h0M148.5 73.5h0M168.5 73.5h5M186 73.5h2.5M136 76h0M151 76h0M168.5 76h0M143.5 78.5h7.5M166 78.5h0M143.5 81h0M156 81h7.5M143.5 83.5h0M146 86h0M148.5 88.5h0M151 91h0M153.5 93.5h0M163.5 93.5h2.5M156 96h0M161 96h10M156 98.5h5M156 101h0M158.5 103.5h2.5M166 106h5M168.5 108.5h0M168.5 111h0M171 113.5h0M173.5 116h0M176 118.5h0M181 121h2.5M188.5 123.5h0M128.5 126h0M133.5 126h0M193.5 126h0M138.5 128.5h0M201 128.5h0M111 131h0M126 131h0M138.5 131h0M103.5 133.5h2.5M126 133.5h0M141 133.5h2.5M101 136h0M113.5 136h0M126 136h0M211 136h0M93.5 138.5h0M113.5 138.5h0M123.5 138.5h0M146 138.5h0M216 138.5h0M83.5 141h7.5M113.5 141h7.5M148.5 141h2.5M218.5 141h0M81 143.5h0M111 143.5h7.5M158.5 143.5h2.5M78.5 146h2.5M163.5 146h0M81 148.5h5M168.5 148.5h0M226 148.5h0M231 148.5h0M78.5 151h2.5M171 151h0M76 153.5h0M171 153.5h2.5M78.5 156h0M178.5 156h2.5M81 158.5h0M188.5 158.5h0M78.5 161h2.5M191 161h0M81 163.5h2.5M198.5 163.5h2.5M81 166h2.5M201 166h2.5M81 168.5h0M206 168.5h0M211 171h0M83.5 173.5h5M213.5 173.5h0M83.5 176h7.5M216 176h0M218.5 178.5h0M128.5 181h2.5M88.5 183.5h2.5M128.5 183.5h2.5M223.5 183.5h0M88.5 186h5M123.5 186h7.5M226 186h2.5M96 188.5h0M118.5 188.5h2.5M131 188.5h0M236 188.5h0M116 191h2.5M131 191h0M116 193.5h2.5M128.5 193.5h0M116 196h2.5M128.5 196h2.5M118.5 198.5h10M93.5 201h0M101 201h5M113.5 203.5h10M118.5 206h10M96 208.5h5M118.5 208.5h10M98.5 211h5M116 211h10M98.5 213.5h12.5M98.5 216h12.5"/>
<path stroke="#0000b2" d="M208.5 1h2.5M173.5 6h15M173.5 8.5h20M208.5 8.5h2.5M148.5 11h7.5M168.5 11h10M191 11h7.5M206 11h7.5M148.5 13.5h7.5M168.5 13.5h5M196 13.5h12.5M168.5 16h5M183.5 16h17.5M163.5 18.5h20M191 18.5h12.5M168.5 21h40M148.5 23.5h0M171 23.5h15M193.5 23.5h5M206 23.5h7.5M168.5 26h12.5M186 26h12.5M208.5 26h5M156 28.5h30M206 28.5h10M153.5 31h25M201 31h15M156 33.5h5M173.5 33.5h10M196 33.5h5M213.5 33.5h2.5M93.5 36h5M158.5 36h2.5M171 36h2.5M186 36h5M216 36h0M91 38.5h20M161 38.5h10M216 38.5h0M93.5 41h12.5M163.5 41h17.5M208.5 41h7.5M93.5 43.5h5M161 43.5h22.5M201 43.5h15M91 46h7.5M161 46h2.5M176 46h15M196 46h22.5M91 48.5h7.5M163.5 48.5h2.5M176 48.5h42.5M168.5 51h7.5M193.5 51h7.5M171 53.5h37.5M171 56h2.5M191 56h7.5M208.5 56h10M191 58.5h5M208.5 58.5h10M191 61h2.5M203.5 61h15M196 63.5h25M198.5 66h22.5M203.5 68.5h17.5M201 71h20M201 73.5h20M208.5 76h12.5M198.5 78.5h22.5M183.5 81h2.5M198.5 81h2.5M216 81h5M153.5 83.5h0M186 83.5h12.5M216 83.5h5M191 86h7.5M218.5 86h5M196 88.5h5M218.5 88.5h5M201 91h12.5M223.5 91h0M213.5 93.5h2.5M211 96h10M211 98.5h12.5M198.5 101h25M203.5 103.5h2.5M218.5 103.5h5M198.5 106h12.5M226 106h0M188.5 108.5h37.5M181 111h7.5M208.5 111h17.5M181 113.5h7.5M211 113.5h10M186 116h10M208.5 116h7.5M191 118.5h5M206 118.5h17.5M193.5 121h32.5M196 123.5h10M218.5 128.5h10M208.5 131h20M216 133.5h12.5M133.5 136h0M228.5 136h0M131 138.5h7.5M226 138.5h2.5M128.5 141h2.5M138.5 141h2.5M223.5 141h5M226 143.5h2.5M226 146h2.5M101 148.5h25M101 151h2.5M118.5 151h10M146 151h2.5M93.5 153.5h10M113.5 153.5h7.5M91 156h25M91 158.5h10M151 158.5h20M96 161h20M151 161h25M103.5 163.5h30M146 163.5h17.5M176 163.5h7.5M101 166h22.5M131 166h5M146 166h45M98.5 168.5h17.5M146 168.5h40M98.5 171h2.5M108.5 171h5M141 171h35M193.5 171h7.5M101 173.5h10M141 173.5h25M188.5 173.5h20M141 176h25M206 176h2.5M111 178.5h5M141 178.5h22.5M206 178.5h5M106 181h12.5M141 181h2.5M158.5 181h2.5M208.5 181h10M138.5 183.5h20M211 183.5h7.5M138.5 186h2.5M151 186h10M178.5 186h5M201 186h17.5M138.5 188.5h2.5M151 188.5h5M163.5 188.5h22.5M196 188.5h25M141 191h7.5M168.5 191h5M196 191h10M213.5 191h10M198.5 193.5h10M221 193.5h7.5M201 196h27.5M211 198.5h17.5M211 201h20M216 203.5h20M221 206h17.5M221 208.5h7.5M233.5 208.5h5M138.5 211h7.5M216 211h7.5M238.5 211h0M208.5 213.5h2.5M216 213.5h22.5M238.5 216h0"/>
<path stroke="#001aff" d="M138.5 26h0M133.5 28.5h10M133.5 31h2.5M143.5 31h0M128.5 33.5h5M73.5 36h5M131 36h0M146 36h0M66 38.5h12.5M128.5 38.5h0M61 41h10M126 41h0M63.5 43.5h7.5M118.5 43.5h7.5M113.5 46h2.5M121 46h5M113.5 48.5h12.5M151 48.5h0M41 51h0M53.5 51h7.5M111 51h0M128.5 51h0M151 51h0M38.5 53.5h2.5M53.5 53.5h7.5M108.5 53.5h5M128.5 53.5h0M153.5 53.5h2.5M43.5 56h12.5M78.5 56h5M106 56h0M118.5 56h5M128.5 56h2.5M158.5 56h0M58.5 58.5h0M78.5 58.5h10M103.5 58.5h0M123.5 58.5h10M161 58.5h0M78.5 61h2.5M88.5 61h0M126 61h0M136 61h0M161 61h0M61 63.5h0M76 63.5h2.5M91 63.5h5M101 63.5h0M128.5 63.5h0M141 63.5h2.5M161 63.5h0M63.5 66h0M76 66h0M98.5 66h0M128.5 66h0M148.5 66h0M161 66h0M173.5 66h5M73.5 68.5h2.5M131 68.5h0M151 68.5h0M178.5 68.5h2.5M191 68.5h0M66 71h0M71 71h2.5M131 71h0M151 71h0M163.5 71h0M168.5 71h7.5M181 71h10M71 73.5h0M151 73.5h0M166 73.5h0M71 76h0M133.5 76h0M166 76h0M138.5 78.5h2.5M153.5 78.5h0M163.5 78.5h0M141 81h0M141 83.5h0M146 88.5h0M148.5 91h0M151 93.5h0M153.5 96h0M153.5 98.5h0M163.5 106h0M166 111h0M168.5 113.5h0M171 116h0M178.5 121h0M186 123.5h0M136 126h0M191 126h0M126 128.5h0M196 128.5h2.5M106 131h2.5M113.5 131h0M123.5 131h0M141 131h0M201 131h0M101 133.5h0M116 133.5h0M123.5 133.5h0M146 133.5h0M203.5 133.5h0M96 136h2.5M116 136h0M123.5 136h0M146 136h0M208.5 136h0M86 138.5h5M116 138.5h5M148.5 138.5h0M213.5 138.5h0M81 141h0M153.5 141h5M216 141h0M76 143.5h2.5M163.5 143.5h0M218.5 143.5h0M76 146h0M166 146h0M221 146h0M78.5 148.5h0M76 151h0M173.5 151h0M176 153.5h0M183.5 156h2.5M78.5 158.5h0M191 158.5h0M193.5 161h2.5M203.5 163.5h0M206 166h0M208.5 168.5h0M221 178.5h0M223.5 181h0M226 183.5h0M231 186h5M123.5 188.5h5M121 191h7.5M121 193.5h5M121 196h5"/>
<path stroke="#000099" d="M213.5 8.5h0M181 11h7.5M176 13.5h17.5M176 16h5M201 23.5h2.5M201 26h5M188.5 28.5h15M181 31h17.5M163.5 33.5h7.5M186 33.5h7.5M163.5 36h5M166 46h7.5M168.5 48.5h5M178.5 51h12.5M201 56h5M198.5 58.5h7.5M196 61h5M203.5 81h10M201 83.5h12.5M201 86h15M203.5 88.5h12.5M191 111h15M191 113.5h17.5M198.5 116h7.5M198.5 118.5h5M226 118.5h0M133.5 141h2.5M106 151h10M106 153.5h5M103.5 171h2.5M143.5 186h5M143.5 188.5h5M231 208.5h0M226 211h10"/>
<path stroke="#0033ff" d="M138.5 31h2.5M136 33.5h0M143.5 33.5h0M133.5 36h0M131 38.5h0M146 38.5h0M128.5 41h0M148.5 41h0M128.5 43.5h0M148.5 43.5h0M118.5 46h0M128.5 46h0M148.5 46h0M128.5 48.5h0M148.5 48.5h0M131 51h0M148.5 51h0M131 53.5h0M148.5 53.5h2.5M41 56h0M108.5 56h7.5M133.5 56h0M156 56h0M46 58.5h2.5M56 58.5h0M121 58.5h0M136 58.5h0M158.5 58.5h0M58.5 61h0M83.5 61h2.5M103.5 61h0M123.5 61h0M138.5 61h0M81 63.5h7.5M103.5 63.5h0M126 63.5h0M146 63.5h0M61 66h0M78.5 66h5M93.5 66h2.5M101 66h0M151 66h0M63.5 68.5h0M78.5 68.5h2.5M98.5 68.5h2.5M128.5 68.5h0M161 68.5h0M171 68.5h5M183.5 68.5h5M76 71h0M68.5 73.5h0M73.5 73.5h0M131 73.5h0M163.5 73.5h0M68.5 76h0M73.5 76h0M153.5 76h0M163.5 76h0M71 78.5h0M136 78.5h0M156 78.5h0M161 78.5h0M138.5 81h0M73.5 86h0M143.5 86h0M146 91h0M76 93.5h0M151 96h0M153.5 101h0M156 103.5h0M161 106h0M166 108.5h0M166 113.5h0M168.5 116h0M78.5 118.5h0M173.5 118.5h0M176 121h0M128.5 123.5h2.5M181 123.5h2.5M76 126h0M126 126h0M138.5 126h0M111 128.5h2.5M123.5 128.5h0M141 128.5h0M193.5 128.5h0M103.5 131h0M116 131h2.5M143.5 131h0M198.5 131h0M98.5 133.5h0M118.5 133.5h0M201 133.5h0M93.5 136h0M118.5 136h0M148.5 136h0M206 136h0M81 138.5h2.5M151 138.5h0M211 138.5h0M78.5 141h0M161 141h0M213.5 141h0M73.5 143.5h0M166 143.5h0M216 143.5h0M73.5 146h0M168.5 146h0M73.5 148.5h2.5M171 148.5h0M223.5 148.5h0M176 151h0M228.5 151h2.5M178.5 153.5h0M188.5 156h0M193.5 158.5h0M198.5 161h2.5M206 163.5h0M208.5 166h0M211 168.5h0M213.5 171h0M216 173.5h0M218.5 176h0M226 181h0M228.5 183.5h5"/>
<path stroke="#004dff" d="M138.5 33.5h2.5M136 36h2.5M143.5 36h0M133.5 38.5h0M131 41h0M146 41h0M131 43.5h0M131 46h0M131 48.5h0M133.5 51h0M133.5 53.5h0M146 53.5h0M136 56h0M146 56h7.5M43.5 58.5h0M51 58.5h2.5M106 58.5h0M118.5 58.5h0M138.5 58.5h0M46 61h0M106 61h0M121 61h0M141 61h2.5M158.5 61h0M58.5 63.5h0M123.5 63.5h0M148.5 63.5h2.5M158.5 63.5h0M86 66h5M103.5 66h0M126 66h0M153.5 66h0M158.5 66h0M83.5 68.5h2.5M96 68.5h0M153.5 68.5h0M63.5 71h0M78.5 71h0M128.5 71h0M153.5 71h0M161 71h0M66 73.5h0M153.5 73.5h0M161 73.5h0M131 76h0M156 76h0M161 76h0M73.5 78.5h0M133.5 78.5h0M158.5 78.5h0M136 81h0M73.5 83.5h0M138.5 83.5h0M76 86h0M141 86h0M76 88.5h0M143.5 88.5h0M78.5 93.5h0M148.5 93.5h0M151 98.5h0M151 101h0M153.5 103.5h0M158.5 106h0M163.5 108.5h0M163.5 111h0M78.5 116h0M171 118.5h0M126 123.5h0M133.5 123.5h0M178.5 123.5h0M123.5 126h0M186 126h2.5M76 128.5h0M106 128.5h2.5M116 128.5h5M143.5 128.5h0M76 131h0M101 131h0M121 131h0M146 131h0M196 131h0M96 133.5h0M121 133.5h0M148.5 133.5h0M81 136h10M121 136h0M151 136h0M78.5 138.5h0M153.5 138.5h5M76 141h0M163.5 141h0M168.5 143.5h0M171 146h0M218.5 146h0M173.5 148.5h0M178.5 151h0M226 151h0M181 153.5h2.5M231 153.5h0M191 156h0M196 158.5h0M203.5 161h2.5M208.5 163.5h0M211 166h0M221 176h0M223.5 178.5h0M228.5 181h0"/>
<path stroke="#0066ff" d="M141 36h0M136 38.5h2.5M143.5 38.5h0M133.5 41h0M133.5 43.5h0M146 43.5h0M133.5 46h0M146 46h0M133.5 48.5h0M146 48.5h0M136 51h0M146 51h0M136 53.5h0M143.5 53.5h0M138.5 56h5M41 58.5h0M108.5 58.5h7.5M141 58.5h5M153.5 58.5h2.5M43.5 61h0M48.5 61h0M56 61h0M146 61h0M151 61h5M106 63.5h0M153.5 63.5h2.5M106 66h0M123.5 66h0M156 66h0M61 68.5h0M88.5 68.5h5M103.5 68.5h0M126 68.5h0M158.5 68.5h0M81 71h0M96 71h7.5M158.5 71h0M76 73.5h0M128.5 73.5h0M156 73.5h2.5M66 76h0M76 76h0M158.5 76h0M68.5 78.5h0M71 81h2.5M133.5 81h0M76 83.5h0M136 83.5h0M138.5 86h0M73.5 88.5h0M141 88.5h0M76 91h0M143.5 91h0M73.5 93.5h0M146 93.5h0M76 96h2.5M148.5 96h0M78.5 98.5h0M148.5 98.5h0M148.5 101h0M161 108.5h0M163.5 113.5h0M76 116h0M166 116h0M76 118.5h0M168.5 118.5h0M78.5 121h0M173.5 121h0M76 123.5h2.5M123.5 123.5h0M136 123.5h0M73.5 126h0M78.5 126h0M111 126h10M141 126h0M183.5 126h0M73.5 128.5h0M78.5 128.5h0M103.5 128.5h0M191 128.5h0M73.5 131h0M78.5 131h0M98.5 131h0M193.5 131h0M78.5 133.5h2.5M93.5 133.5h0M198.5 133.5h0M78.5 136h0M153.5 136h0M203.5 136h0M73.5 138.5h2.5M161 138.5h0M208.5 138.5h0M71 141h2.5M166 141h0M211 141h0M171 143.5h0M213.5 143.5h0M173.5 146h0M216 146h0M176 148.5h0M181 151h0M223.5 151h0M186 153.5h0M228.5 153.5h0M193.5 156h0M198.5 158.5h2.5M206 158.5h2.5M208.5 161h0M211 163.5h0M213.5 168.5h0M216 171h0M218.5 173.5h0M226 178.5h0M231 181h2.5"/>
<path stroke="#0080ff" d="M141 38.5h0M136 41h2.5M143.5 41h0M136 43.5h0M143.5 43.5h0M136 46h0M143.5 46h0M136 48.5h0M143.5 48.5h0M138.5 51h0M143.5 51h0M138.5 53.5h2.5M148.5 58.5h2.5M51 61h2.5M108.5 61h0M118.5 61h0M148.5 61h0M56 63.5h0M108.5 63.5h0M121 63.5h0M58.5 66h0M106 68.5h0M123.5 68.5h0M156 68.5h0M61 71h0M83.5 71h2.5M93.5 71h0M126 71h0M156 71h0M63.5 73.5h0M78.5 73.5h0M98.5 73.5h5M101 76h2.5M128.5 76h0M76 78.5h0M103.5 78.5h0M131 78.5h0M76 81h0M71 83.5h0M71 86h0M78.5 86h0M78.5 88.5h0M138.5 88.5h0M73.5 91h0M78.5 91h0M141 91h0M143.5 93.5h0M73.5 96h0M81 96h0M76 98.5h0M81 98.5h0M78.5 101h0M151 103.5h0M156 106h0M161 111h0M163.5 116h0M166 118.5h0M76 121h0M121 123.5h0M138.5 123.5h0M176 123.5h0M108.5 126h0M143.5 126h0M178.5 126h2.5M71 128.5h0M101 128.5h0M146 128.5h0M188.5 128.5h0M71 131h0M81 131h0M96 131h0M148.5 131h0M76 133.5h0M83.5 133.5h2.5M91 133.5h0M151 133.5h0M196 133.5h0M76 136h0M156 136h2.5M201 136h0M71 138.5h0M163.5 138.5h0M206 138.5h0M168.5 141h0M208.5 141h0M211 143.5h0M213.5 146h0M178.5 148.5h0M218.5 148.5h2.5M183.5 151h0M188.5 153.5h0M226 153.5h0M196 156h0M208.5 156h2.5M231 156h0M203.5 158.5h0M211 158.5h0M211 161h0M213.5 163.5h0M213.5 166h0M223.5 176h0"/>
<path stroke="#0099ff" d="M141 41h0M138.5 43.5h2.5M138.5 46h2.5M138.5 48.5h2.5M141 51h0M111 61h5M43.5 63.5h5M111 63.5h0M118.5 63.5h0M108.5 66h0M121 66h0M88.5 71h2.5M106 71h0M123.5 71h0M81 73.5h0M96 73.5h0M126 73.5h0M78.5 76h0M98.5 76h0M66 78.5h0M101 78.5h0M68.5 81h0M101 81h5M131 81h0M78.5 83.5h0M103.5 83.5h2.5M133.5 83.5h0M106 86h0M136 86h0M71 88.5h0M138.5 91h0M81 93.5h0M146 96h0M146 98.5h0M81 101h0M148.5 103.5h0M76 108.5h0M158.5 108.5h0M78.5 113.5h0M161 113.5h0M81 116h0M161 116h0M81 118.5h0M163.5 118.5h0M123.5 121h5M171 121h0M73.5 123.5h0M113.5 123.5h5M141 123.5h0M71 126h0M106 126h0M68.5 128.5h0M81 128.5h0M98.5 128.5h0M186 128.5h0M68.5 131h0M83.5 131h0M93.5 131h0M191 131h0M71 133.5h2.5M88.5 133.5h0M153.5 133.5h0M71 136h2.5M161 136h0M198.5 136h0M171 141h0M173.5 143.5h0M176 146h0M211 146h0M213.5 148.5h2.5M186 151h0M221 151h0M191 153.5h0M223.5 153.5h0M198.5 156h7.5M213.5 156h0M228.5 156h0M213.5 158.5h0M213.5 161h0M218.5 171h0M221 173.5h0M228.5 178.5h0"/>
<path stroke="#00b2ff" d="M51 63.5h2.5M113.5 63.5h2.5M111 66h0M118.5 66h0M58.5 68.5h0M108.5 68.5h0M121 68.5h0M108.5 71h0M83.5 73.5h10M106 73.5h0M63.5 76h0M81 76h0M96 76h0M106 76h0M126 76h0M78.5 78.5h0M98.5 78.5h0M106 78.5h0M128.5 78.5h0M78.5 81h0M98.5 81h0M68.5 83.5h0M101 83.5h0M108.5 83.5h0M68.5 86h0M103.5 86h0M108.5 86h0M81 88.5h0M136 88.5h0M71 91h0M81 91h0M71 93.5h0M141 93.5h0M83.5 96h0M143.5 96h0M73.5 98.5h0M83.5 98.5h0M76 101h0M146 101h0M78.5 103.5h2.5M76 106h2.5M153.5 106h0M73.5 108.5h0M78.5 108.5h0M76 111h0M76 113.5h0M73.5 121h0M81 121h0M121 121h0M131 121h2.5M168.5 121h0M81 123.5h0M108.5 123.5h2.5M173.5 123.5h0M81 126h0M103.5 126h0M146 126h0M176 126h0M148.5 128.5h0M181 128.5h2.5M86 131h5M151 131h0M188.5 131h0M68.5 133.5h0M156 133.5h2.5M193.5 133.5h0M196 136h0M166 138.5h0M203.5 138.5h0M206 141h0M208.5 143.5h0M178.5 146h0M181 148.5h0M211 148.5h0M188.5 151h0M213.5 151h5M193.5 153.5h2.5M208.5 153.5h12.5M216 156h10M216 158.5h0M231 158.5h0M216 168.5h0M223.5 173.5h0M226 176h0M231 178.5h2.5"/>
<path stroke="#00ccff" d="M56 66h0M113.5 66h2.5M111 68.5h0M118.5 68.5h0M111 71h0M121 71h0M61 73.5h0M108.5 73.5h0M123.5 73.5h0M83.5 76h0M93.5 76h0M108.5 76h0M63.5 78.5h0M81 78.5h0M96 78.5h0M108.5 78.5h0M66 81h0M96 81h0M108.5 81h0M128.5 81h0M98.5 83.5h0M131 83.5h0M81 86h0M101 86h0M133.5 86h0M136 91h0M138.5 93.5h0M71 96h0M83.5 101h0M76 103.5h0M73.5 106h0M81 106h0M151 106h0M78.5 111h0M158.5 111h0M81 113.5h0M158.5 113.5h0M158.5 116h0M161 118.5h0M118.5 121h0M136 121h0M166 121h0M71 123.5h0M106 123.5h0M143.5 123.5h0M68.5 126h0M101 126h0M83.5 128.5h0M96 128.5h0M178.5 128.5h0M153.5 131h0M186 131h0M161 133.5h0M191 133.5h0M163.5 136h0M168.5 138.5h0M201 138.5h0M173.5 141h0M203.5 141h0M176 143.5h0M206 143.5h0M208.5 146h0M183.5 148.5h2.5M208.5 148.5h0M208.5 151h2.5M198.5 153.5h7.5M218.5 158.5h0M226 158.5h2.5M216 161h0M231 161h0M216 163.5h0M216 166h0M221 171h0"/>
<path stroke="#00e5ff" d="M43.5 66h2.5M113.5 68.5h2.5M58.5 71h0M113.5 71h0M118.5 71h0M111 73.5h0M86 76h5M123.5 76h0M83.5 78.5h0M93.5 78.5h0M126 78.5h0M81 81h0M93.5 81h0M111 81h0M66 83.5h0M81 83.5h0M96 83.5h0M111 83.5h0M98.5 86h0M111 86h0M68.5 88.5h0M83.5 88.5h0M106 88.5h2.5M133.5 88.5h0M83.5 91h0M133.5 91h0M83.5 93.5h0M86 96h2.5M141 96h0M86 98.5h0M143.5 98.5h0M73.5 101h0M146 103.5h0M148.5 106h0M81 108.5h0M156 108.5h0M73.5 111h0M73.5 113.5h0M73.5 116h0M156 116h0M73.5 118.5h0M123.5 118.5h2.5M158.5 118.5h0M83.5 121h0M113.5 121h2.5M138.5 121h2.5M163.5 121h0M103.5 123.5h0M146 123.5h0M171 123.5h0M66 126h0M98.5 126h0M148.5 126h0M173.5 126h0M86 128.5h0M91 128.5h2.5M151 128.5h0M156 131h0M183.5 131h0M163.5 133.5h0M188.5 133.5h0M166 136h0M193.5 136h0M171 138.5h0M196 138.5h2.5M198.5 141h2.5M178.5 143.5h0M203.5 143.5h0M181 146h2.5M206 146h0M188.5 148.5h0M191 151h2.5M206 151h0M221 158.5h2.5M226 161h2.5M228.5 163.5h2.5M231 166h0M218.5 168.5h0M223.5 171h0M226 173.5h0M228.5 176h0"/>
<path stroke="#00ffff" d="M48.5 66h0M53.5 66h0M116 71h0M113.5 73.5h0M121 73.5h0M61 76h0M111 76h0M86 78.5h5M111 78.5h0M83.5 81h0M91 81h0M126 81h0M83.5 83.5h0M93.5 83.5h0M113.5 83.5h0M128.5 83.5h0M66 86h0M83.5 86h0M96 86h0M113.5 86h0M131 86h0M86 88.5h0M101 88.5h2.5M111 88.5h0M131 88.5h0M68.5 91h0M68.5 93.5h0M86 93.5h7.5M116 93.5h0M136 93.5h0M91 96h0M138.5 96h0M71 98.5h0M88.5 98.5h0M86 101h0M143.5 101h0M73.5 103.5h0M83.5 103.5h0M83.5 106h0M153.5 108.5h0M81 111h0M156 111h0M156 113.5h0M83.5 116h0M83.5 118.5h0M118.5 118.5h2.5M128.5 118.5h0M153.5 118.5h2.5M71 121h0M108.5 121h2.5M143.5 121h2.5M161 121h0M68.5 123.5h0M83.5 123.5h0M101 123.5h0M148.5 123.5h0M166 123.5h2.5M83.5 126h0M96 126h0M88.5 128.5h0M176 128.5h0M158.5 131h2.5M181 131h0M166 133.5h0M186 133.5h0M191 136h0M193.5 138.5h0M176 141h0M196 141h0M191 143.5h10M186 146h17.5M191 148.5h2.5M203.5 148.5h2.5M196 151h7.5M218.5 161h5M226 163.5h0M228.5 166h0M228.5 168.5h5M226 171h0M228.5 173.5h0M231 176h2.5"/>
<path stroke="#1affe5" d="M51 66h0M56 68.5h0M58.5 73.5h0M116 73.5h2.5M113.5 76h0M121 76h0M61 78.5h0M123.5 78.5h0M63.5 81h0M86 81h2.5M113.5 81h0M86 83.5h5M126 83.5h0M86 86h7.5M128.5 86h0M66 88.5h0M88.5 88.5h10M113.5 88.5h2.5M128.5 88.5h0M86 91h7.5M108.5 91h10M131 91h0M113.5 93.5h0M118.5 93.5h0M133.5 93.5h0M68.5 96h0M93.5 96h0M91 98.5h0M141 98.5h0M143.5 103.5h0M71 106h0M146 106h0M151 108.5h0M83.5 113.5h0M153.5 116h0M116 118.5h0M131 118.5h2.5M151 118.5h0M106 121h0M148.5 121h2.5M156 121h2.5M98.5 123.5h0M151 123.5h0M163.5 123.5h0M86 126h7.5M151 126h0M171 126h0M153.5 128.5h0M173.5 128.5h0M163.5 131h0M178.5 131h0M183.5 133.5h0M168.5 136h0M188.5 136h0M173.5 138.5h0M188.5 138.5h2.5M178.5 141h0M191 141h2.5M181 143.5h7.5M196 148.5h5M218.5 163.5h0M223.5 163.5h0M226 166h0M221 168.5h5M228.5 171h5M231 173.5h2.5"/>
<path stroke="#33ffcc" d="M56 71h0M116 76h0M113.5 78.5h0M116 81h0M123.5 81h0M63.5 83.5h0M116 83.5h0M123.5 83.5h0M116 86h0M126 86h0M118.5 88.5h0M126 88.5h0M66 91h0M96 91h0M106 91h0M121 91h7.5M108.5 93.5h2.5M121 93.5h0M131 93.5h0M136 96h0M138.5 98.5h0M71 101h0M88.5 101h0M141 101h0M71 103.5h0M86 103.5h0M86 106h0M71 108.5h0M83.5 108.5h0M148.5 108.5h0M83.5 111h0M153.5 111h0M153.5 113.5h0M86 116h0M121 116h5M151 116h0M71 118.5h0M86 118.5h0M106 118.5h7.5M136 118.5h0M143.5 118.5h5M86 121h2.5M103.5 121h0M153.5 121h0M66 123.5h0M86 123.5h10M158.5 123.5h2.5M168.5 126h0M156 128.5h0M166 131h10M168.5 133.5h2.5M181 133.5h0M171 136h0M183.5 136h2.5M176 138.5h0M186 138.5h0M181 141h7.5M221 163.5h0M218.5 166h0M223.5 166h0"/>
<path stroke="#4dffb2" d="M46 68.5h0M58.5 76h0M118.5 76h0M116 78.5h0M121 78.5h0M61 81h0M118.5 81h2.5M118.5 83.5h2.5M63.5 86h0M118.5 86h5M121 88.5h2.5M98.5 91h5M66 93.5h0M96 93.5h0M123.5 93.5h5M96 96h0M116 96h0M133.5 96h0M68.5 98.5h0M93.5 98.5h0M91 101h0M88.5 103.5h0M141 103.5h0M143.5 106h0M86 108.5h0M71 111h0M151 111h0M71 113.5h0M86 113.5h0M71 116h0M116 116h2.5M128.5 116h0M148.5 116h0M88.5 118.5h0M138.5 118.5h2.5M68.5 121h0M91 121h10M153.5 123.5h2.5M153.5 126h0M166 126h0M158.5 128.5h12.5M173.5 133.5h0M178.5 133.5h0M173.5 136h0M181 136h0M178.5 138.5h5M221 166h0"/>
<path stroke="#66ff99" d="M53.5 68.5h0M56 73.5h0M118.5 78.5h0M61 83.5h0M63.5 88.5h0M98.5 93.5h0M106 93.5h0M66 96h0M111 96h2.5M118.5 96h2.5M128.5 96h2.5M136 98.5h0M68.5 101h0M138.5 101h0M68.5 103.5h0M68.5 106h0M88.5 106h0M146 108.5h0M86 111h0M148.5 111h0M118.5 113.5h0M151 113.5h0M88.5 116h0M106 116h7.5M131 116h2.5M146 116h0M63.5 118.5h0M68.5 118.5h0M91 118.5h2.5M103.5 118.5h0M63.5 121h2.5M156 126h7.5M176 133.5h0M176 136h2.5"/>
<path stroke="#80ff80" d="M48.5 68.5h2.5M46 71h0M53.5 71h0M58.5 78.5h0M61 86h0M63.5 91h0M63.5 93.5h0M101 93.5h2.5M108.5 96h0M123.5 96h2.5M66 98.5h0M133.5 98.5h0M93.5 101h0M136 101h0M91 103.5h0M138.5 103.5h0M63.5 106h2.5M141 106h0M63.5 108.5h5M88.5 108.5h0M143.5 108.5h0M88.5 111h0M88.5 113.5h0M106 113.5h10M121 113.5h5M148.5 113.5h0M68.5 116h0M91 116h0M103.5 116h0M136 116h0M143.5 116h0M66 118.5h0M96 118.5h0M101 118.5h0"/>
<path stroke="#99ff66" d="M48.5 71h0M56 76h0M58.5 81h0M61 88.5h0M63.5 96h0M98.5 96h0M106 96h0M96 98.5h0M113.5 98.5h7.5M131 98.5h0M66 101h0M63.5 103.5h2.5M61 106h0M91 106h0M61 108.5h0M91 108.5h0M63.5 111h5M106 111h10M146 111h0M66 113.5h2.5M91 113.5h0M128.5 113.5h2.5M146 113.5h0M63.5 116h2.5M93.5 116h0M138.5 116h2.5M98.5 118.5h0"/>
<path stroke="#b3ff4c" d="M51 71h0M46 73.5h0M53.5 73.5h0M58.5 83.5h0M61 91h0M61 93.5h0M101 96h2.5M63.5 98.5h0M111 98.5h0M123.5 98.5h5M63.5 101h0M113.5 101h5M133.5 101h0M61 103.5h0M93.5 103.5h0M136 103.5h0M58.5 106h0M138.5 106h0M141 108.5h0M61 111h0M91 111h0M103.5 111h0M118.5 111h7.5M143.5 111h0M61 113.5h2.5M93.5 113.5h0M103.5 113.5h0M133.5 113.5h2.5M141 113.5h2.5M96 116h5"/>
<path stroke="#ccff33" d="M48.5 73.5h2.5M56 78.5h0M56 81h0M58.5 86h0M58.5 88.5h0M61 96h0M61 98.5h0M108.5 98.5h0M61 101h0M96 101h0M111 101h0M121 101h0M128.5 101h2.5M58.5 103.5h0M113.5 103.5h7.5M131 103.5h2.5M93.5 106h0M136 106h0M93.5 108.5h0M106 108.5h7.5M138.5 108.5h0M93.5 111h2.5M101 111h0M128.5 111h7.5M141 111h0M96 113.5h5M138.5 113.5h0"/>
<path stroke="#e5ff1a" d="M53.5 76h0M56 83.5h0M58.5 91h0M58.5 93.5h0M58.5 96h0M58.5 98.5h0M98.5 98.5h0M106 98.5h0M58.5 101h0M123.5 101h2.5M96 103.5h0M111 103.5h0M123.5 103.5h5M111 106h10M126 106h7.5M96 108.5h0M103.5 108.5h0M116 108.5h20M98.5 111h0M138.5 111h0"/>
<path stroke="#ffff00" d="M48.5 76h2.5M53.5 78.5h0M53.5 81h0M51 83.5h2.5M56 86h0M53.5 88.5h2.5M53.5 91h2.5M53.5 93.5h2.5M56 96h0M56 98.5h0M108.5 101h0M96 106h0M108.5 106h0M123.5 106h0M98.5 108.5h2.5"/>
<path stroke="#ffe500" d="M48.5 78.5h2.5M51 81h0M51 86h2.5M101 98.5h2.5M98.5 101h0M108.5 103.5h0M98.5 106h0M106 106h0"/>
<path stroke="#ffcc00" d="M106 101h0M98.5 103.5h0M106 103.5h0M101 106h2.5"/>
<path stroke="#ff9900" d="M103.5 101h0M101 103.5h2.5"/>
<path stroke="#ff8000" d="M101 101h0"/>
</g>
<g stroke-width="2.8"><use href="#f1"/></g>
<path stroke="#e5ff1a" stroke-width="2.2" d="M179.3 101.6h3"/>
<path stroke="#ff1a00" stroke-width="2.2" d="M106.3 139.7h3"/>
<path stroke="#ccff33" stroke-width="2.2" d="M123.5 133.9h2.5"/>
<path stroke="#e5ff1a" stroke-width="2.2" d="M147.8 138.8h3"/>
<path stroke="#ccff33" stroke-width="2" d="M156 132.5h2"/>
</g>
<use href="#st"/>
</g>
<text x="637.0" y="77.0" font-size="12" font-weight="bold" fill="#262626">100<tspan dx="1.8" dy="-10.6" font-size="7" font-weight="normal">o</tspan><tspan dx="6.5" dy="10.6">W</tspan></text>
<text x="705.5" y="77.0" font-size="12" font-weight="bold" fill="#262626">90<tspan dx="1.8" dy="-10.6" font-size="7" font-weight="normal">o</tspan><tspan dx="6.5" dy="10.6">W</tspan></text>
<text x="769.5" y="77.0" font-size="12" font-weight="bold" fill="#262626">80<tspan dx="1.8" dy="-10.6" font-size="7" font-weight="normal">o</tspan><tspan dx="6.5" dy="10.6">W</tspan></text>
<text x="833.0" y="77.0" font-size="12" font-weight="bold" fill="#262626">70<tspan dx="1.8" dy="-10.6" font-size="7" font-weight="normal">o</tspan><tspan dx="6.5" dy="10.6">W</tspan></text>
<text x="567.6" y="112.7" font-size="12" font-weight="bold" fill="#262626">48<tspan dx="2.6" dy="-10.8" font-size="7" font-weight="normal">o</tspan><tspan dx="4.8" dy="10.8">N</tspan></text>
<text x="567.6" y="130.7" font-size="12" font-weight="bold" fill="#262626">46<tspan dx="2.6" dy="-10.8" font-size="7" font-weight="normal">o</tspan><tspan dx="4.8" dy="10.8">N</tspan></text>
<text x="567.6" y="147.8" font-size="12" font-weight="bold" fill="#262626">44<tspan dx="2.6" dy="-10.8" font-size="7" font-weight="normal">o</tspan><tspan dx="4.8" dy="10.8">N</tspan></text>
<text x="567.6" y="166.7" font-size="12" font-weight="bold" fill="#262626">42<tspan dx="2.6" dy="-10.8" font-size="7" font-weight="normal">o</tspan><tspan dx="4.8" dy="10.8">N</tspan></text>
<text x="567.6" y="182.3" font-size="12" font-weight="bold" fill="#262626">40<tspan dx="2.6" dy="-10.8" font-size="7" font-weight="normal">o</tspan><tspan dx="4.8" dy="10.8">N</tspan></text>
<text x="567.6" y="197.7" font-size="12" font-weight="bold" fill="#262626">38<tspan dx="2.6" dy="-10.8" font-size="7" font-weight="normal">o</tspan><tspan dx="4.8" dy="10.8">N</tspan></text>
<text x="567.6" y="214.6" font-size="12" font-weight="bold" fill="#262626">36<tspan dx="2.6" dy="-10.8" font-size="7" font-weight="normal">o</tspan><tspan dx="4.8" dy="10.8">N</tspan></text>
<text x="567.6" y="228.7" font-size="12" font-weight="bold" fill="#262626">34<tspan dx="2.6" dy="-10.8" font-size="7" font-weight="normal">o</tspan><tspan dx="4.8" dy="10.8">N</tspan></text>
<text x="567.6" y="245.7" font-size="12" font-weight="bold" fill="#262626">32<tspan dx="2.6" dy="-10.8" font-size="7" font-weight="normal">o</tspan><tspan dx="4.8" dy="10.8">N</tspan></text>
<text x="567.6" y="259.7" font-size="12" font-weight="bold" fill="#262626">30<tspan dx="2.6" dy="-10.8" font-size="7" font-weight="normal">o</tspan><tspan dx="4.8" dy="10.8">N</tspan></text>
<text x="567.6" y="272.8" font-size="12" font-weight="bold" fill="#262626">28<tspan dx="2.6" dy="-10.8" font-size="7" font-weight="normal">o</tspan><tspan dx="4.8" dy="10.8">N</tspan></text>
<text x="567.6" y="287.8" font-size="12" font-weight="bold" fill="#262626">26<tspan dx="2.6" dy="-10.8" font-size="7" font-weight="normal">o</tspan><tspan dx="4.8" dy="10.8">N</tspan></text>
<text x="567.6" y="301.5" font-size="12" font-weight="bold" fill="#262626">24<tspan dx="2.6" dy="-10.8" font-size="7" font-weight="normal">o</tspan><tspan dx="4.8" dy="10.8">N</tspan></text>
<text x="567.6" y="315.0" font-size="12" font-weight="bold" fill="#262626">22<tspan dx="2.6" dy="-10.8" font-size="7" font-weight="normal">o</tspan><tspan dx="4.8" dy="10.8">N</tspan></text>
<rect x="862" y="95" width="24" height="215.5" fill="url(#jet)"/>
<rect x="862.5" y="95.5" width="23" height="215" fill="none" stroke="#000" stroke-opacity="0.55" stroke-width="1"/>
<line x1="883.5" y1="113.3" x2="886" y2="113.3" stroke="#222" stroke-width="1"/>
<text x="894.1" y="120.7" font-size="20.8" font-weight="bold" fill="#262626">8</text>
<line x1="883.5" y1="162.6" x2="886" y2="162.6" stroke="#222" stroke-width="1"/>
<text x="894.1" y="170.0" font-size="20.8" font-weight="bold" fill="#262626">6</text>
<line x1="883.5" y1="211.9" x2="886" y2="211.9" stroke="#222" stroke-width="1"/>
<text x="894.1" y="219.3" font-size="20.8" font-weight="bold" fill="#262626">4</text>
<line x1="883.5" y1="261.2" x2="886" y2="261.2" stroke="#222" stroke-width="1"/>
<text x="894.1" y="268.6" font-size="20.8" font-weight="bold" fill="#262626">2</text>
<line x1="883.5" y1="310.5" x2="886" y2="310.5" stroke="#222" stroke-width="1"/>
<text x="894.1" y="317.9" font-size="20.8" font-weight="bold" fill="#262626">0</text>
<text x="546.0" y="341.0" font-size="22.4" font-weight="bold" fill="#262626" textLength="366.5" lengthAdjust="spacingAndGlyphs">SAT+RAP 700 hPa MR (g/kg)</text>
<g transform="translate(1037.5 95.5) scale(1.00427 1.00939)">
<rect x="0" y="0" width="234" height="213" fill="none" stroke="#000" stroke-width="1"/>
<g fill="none" stroke-linecap="round" stroke-width="4.2" clip-path="url(#swc)">
<g id="f2">
<path stroke="#00b2ff" d="M171 8.5h2.5M171 11h0M141 13.5h0M168.5 13.5h0M141 16h0M166 16h2.5M166 18.5h2.5M146 21h0M168.5 21h2.5M148.5 23.5h0M171 23.5h0M148.5 26h0M173.5 28.5h0M151 31h0M153.5 33.5h0M176 33.5h0M171 36h0M178.5 36h5M158.5 38.5h0M171 38.5h0M176 38.5h2.5M186 38.5h0M176 41h10M196 46h0M46 51h2.5M38.5 53.5h0M48.5 53.5h0M83.5 53.5h5M93.5 53.5h0M41 56h0M53.5 56h2.5M76 56h2.5M96 56h0M41 58.5h0M66 58.5h7.5M98.5 61h0M106 66h0M108.5 68.5h2.5M121 68.5h0M131 78.5h0M141 86h0M173.5 86h0M143.5 88.5h0M163.5 88.5h0M176 88.5h0M146 91h0M163.5 91h0M181 91h2.5M153.5 93.5h0M161 93.5h0M186 93.5h0M158.5 96h2.5M188.5 96h0M56 98.5h2.5M188.5 98.5h0M58.5 101h0M63.5 101h0M188.5 101h0M61 103.5h2.5M188.5 103.5h0M58.5 106h5M73.5 108.5h0M73.5 111h0M196 111h0M63.5 113.5h7.5M63.5 116h5M73.5 116h0M206 121h0M218.5 123.5h0M221 126h0M68.5 131h2.5M123.5 133.5h0M116 136h2.5M128.5 136h0M101 138.5h25M96 141h0M108.5 141h0M111 143.5h0M143.5 143.5h0M156 143.5h0M96 146h0M113.5 146h0M161 146h0M96 148.5h2.5M113.5 148.5h0M138.5 148.5h0M163.5 148.5h0M93.5 151h0M113.5 151h0M136 151h0M121 153.5h5M133.5 153.5h0M88.5 156h0M171 156h0M171 161h0M81 163.5h0M171 163.5h0M178.5 166h2.5M183.5 168.5h0M201 171h0M213.5 171h0M186 173.5h0M198.5 173.5h0M198.5 176h0M188.5 178.5h0M201 178.5h0M213.5 178.5h0M126 181h0M203.5 181h0M103.5 183.5h7.5M118.5 183.5h2.5M101 186h0M136 186h0M188.5 186h0M98.5 188.5h0M133.5 188.5h0M188.5 188.5h2.5M98.5 191h0M186 191h2.5M133.5 193.5h0M188.5 193.5h5M98.5 196h0M133.5 196h0M188.5 196h10M133.5 198.5h0M188.5 198.5h10M106 201h0M191 201h2.5M108.5 203.5h0M188.5 203.5h2.5M111 206h2.5M138.5 206h0M186 206h2.5M123.5 208.5h0M136 208.5h0M186 208.5h0M126 211h0M138.5 211h0M183.5 211h0M223.5 211h2.5M141 213.5h0M181 213.5h0M216 213.5h2.5M126 216h0M138.5 216h0M181 216h0M206 216h10"/>
<path stroke="#0099ff" d="M173.5 6h2.5M176 8.5h0M173.5 11h0M171 13.5h0M171 16h0M141 18.5h0M171 18.5h2.5M143.5 21h0M173.5 21h0M146 23.5h0M173.5 23.5h0M146 26h0M173.5 26h0M148.5 28.5h0M176 31h0M178.5 33.5h5M153.5 36h0M173.5 36h2.5M186 36h0M156 38.5h0M173.5 38.5h0M188.5 38.5h2.5M161 41h12.5M188.5 41h5M176 43.5h22.5M191 46h2.5M198.5 46h0M46 48.5h2.5M196 48.5h2.5M51 51h0M51 53.5h0M73.5 53.5h7.5M96 53.5h0M58.5 56h0M73.5 56h0M98.5 56h0M98.5 58.5h0M101 61h0M103.5 63.5h0M108.5 66h0M113.5 66h2.5M123.5 71h0M128.5 73.5h0M131 76h0M133.5 78.5h0M136 81h0M138.5 83.5h0M166 83.5h0M68.5 86h0M161 86h0M176 86h0M161 88.5h0M178.5 88.5h2.5M148.5 91h0M161 91h0M186 91h0M156 93.5h2.5M188.5 93.5h0M61 101h0M58.5 103.5h0M191 103.5h0M191 106h0M61 108.5h5M71 108.5h0M193.5 108.5h0M61 111h10M61 113.5h0M198.5 113.5h0M71 116h0M201 116h0M66 118.5h2.5M73.5 121h0M73.5 123.5h0M73.5 126h0M68.5 128.5h2.5M223.5 128.5h0M226 133.5h2.5M121 136h2.5M98.5 141h7.5M96 143.5h0M146 143.5h0M153.5 143.5h0M98.5 146h0M143.5 146h0M158.5 146h0M101 148.5h0M166 151h0M91 153.5h0M116 153.5h2.5M168.5 153.5h0M131 156h2.5M88.5 158.5h0M171 158.5h0M86 161h0M168.5 161h0M83.5 163.5h0M81 166h0M173.5 166h2.5M181 168.5h0M181 171h2.5M203.5 171h0M211 171h0M201 173.5h0M213.5 173.5h0M186 176h0M201 176h0M213.5 176h0M128.5 178.5h2.5M186 178.5h0M203.5 178.5h0M106 181h0M123.5 181h0M133.5 181h0M186 181h0M206 181h0M211 181h0M101 183.5h0M113.5 183.5h2.5M136 183.5h0M186 183.5h0M98.5 186h0M186 186h0M136 188.5h0M183.5 188.5h2.5M136 191h0M183.5 191h0M96 193.5h0M136 193.5h0M183.5 193.5h2.5M96 196h0M136 196h0M183.5 196h2.5M101 198.5h0M136 198.5h0M186 198.5h0M138.5 201h0M186 201h2.5M141 203.5h0M186 203.5h0M141 206h0M116 208.5h5M138.5 208.5h0M183.5 208.5h0M121 211h2.5M141 211h0M228.5 211h2.5M238.5 211h0M123.5 213.5h0M143.5 213.5h0M221 213.5h0M123.5 216h0M141 216h0M178.5 216h0M218.5 216h2.5M138.5 218.5h0"/>
<path stroke="#00ccff" d="M163.5 8.5h5M166 11h2.5M143.5 13.5h0M166 13.5h0M163.5 16h0M143.5 18.5h0M163.5 18.5h0M148.5 21h2.5M166 21h0M151 23.5h0M168.5 23.5h0M151 26h0M171 26h0M151 28.5h0M153.5 31h0M173.5 31h0M173.5 33.5h0M156 36h0M168.5 36h0M161 38.5h0M168.5 38.5h0M183.5 38.5h0M41 51h2.5M41 53.5h5M91 53.5h0M43.5 56h7.5M81 56h0M93.5 56h0M43.5 58.5h2.5M63.5 58.5h0M76 58.5h2.5M96 58.5h0M43.5 61h0M101 63.5h0M43.5 66h0M103.5 66h0M46 68.5h0M106 68.5h0M113.5 68.5h5M46 71h0M121 71h0M126 73.5h0M128.5 76h0M133.5 81h0M136 83.5h0M138.5 86h0M163.5 86h7.5M68.5 88.5h0M141 88.5h0M166 88.5h7.5M166 91h0M176 91h2.5M151 93.5h0M163.5 93.5h0M153.5 96h2.5M163.5 96h0M186 96h0M61 98.5h2.5M158.5 98.5h2.5M186 98.5h0M66 101h0M186 101h0M66 103.5h0M186 103.5h0M66 106h5M188.5 106h0M76 108.5h0M191 108.5h0M73.5 113.5h0M76 118.5h0M216 123.5h0M73.5 128.5h0M73.5 131h0M223.5 131h0M118.5 133.5h0M128.5 133.5h0M106 136h7.5M131 136h0M98.5 138.5h0M128.5 138.5h0M111 141h0M143.5 141h10M93.5 143.5h0M113.5 143.5h0M141 143.5h0M158.5 143.5h0M93.5 146h0M116 146h0M141 146h0M166 148.5h0M116 151h0M168.5 151h0M128.5 153.5h2.5M86 158.5h0M173.5 158.5h0M83.5 161h0M173.5 161h7.5M173.5 163.5h12.5M183.5 166h2.5M186 168.5h0M206 168.5h5M186 171h0M216 171h0M216 173.5h0M188.5 176h0M216 176h0M198.5 178.5h0M216 178.5h0M188.5 181h0M201 181h0M213.5 181h0M123.5 183.5h0M133.5 183.5h0M188.5 183.5h0M206 183.5h5M103.5 186h0M111 186h7.5M133.5 191h0M191 191h2.5M98.5 193.5h0M196 193.5h2.5M131 196h0M201 196h0M131 198.5h0M201 198.5h5M136 201h0M196 201h5M138.5 203.5h0M193.5 203.5h2.5M116 206h2.5M191 206h2.5M126 208.5h7.5M233.5 208.5h5M128.5 211h0M136 211h0M206 211h2.5M216 211h5M126 213.5h0M138.5 213.5h0M203.5 213.5h10M128.5 216h0M136 216h0M203.5 216h0"/>
<path stroke="#0080ff" d="M178.5 6h0M178.5 8.5h0M176 11h0M138.5 13.5h0M173.5 13.5h0M138.5 16h0M173.5 16h0M176 18.5h2.5M176 21h0M143.5 23.5h0M143.5 26h0M146 28.5h0M176 28.5h0M148.5 31h0M178.5 31h0M151 33.5h0M186 33.5h0M188.5 36h0M153.5 38.5h0M193.5 38.5h0M158.5 41h0M196 41h2.5M163.5 43.5h10M201 43.5h0M51 46h0M163.5 46h15M183.5 46h5M201 46h0M51 48.5h0M193.5 48.5h0M201 48.5h0M53.5 51h0M88.5 51h2.5M53.5 53.5h0M68.5 53.5h2.5M98.5 53.5h0M61 56h10M101 56h0M101 58.5h2.5M103.5 61h0M106 63.5h0M111 66h0M118.5 66h0M123.5 68.5h0M141 83.5h0M163.5 83.5h0M168.5 83.5h2.5M143.5 86h0M178.5 86h0M146 88.5h2.5M183.5 88.5h0M151 91h7.5M191 96h0M191 98.5h0M191 101h0M193.5 106h0M68.5 108.5h0M198.5 111h0M63.5 118.5h0M71 118.5h2.5M203.5 118.5h0M63.5 121h7.5M208.5 121h2.5M66 123.5h0M221 123.5h0M66 126h0M71 126h0M223.5 126h0M126 133.5h0M126 136h0M98.5 143.5h10M148.5 143.5h2.5M101 146h0M111 146h0M156 146h0M111 148.5h0M141 148.5h0M161 148.5h0M96 151h2.5M111 151h0M138.5 151h0M163.5 151h0M113.5 153.5h0M136 153.5h0M126 156h2.5M136 156h0M168.5 156h0M168.5 158.5h0M88.5 161h0M86 163.5h0M168.5 163.5h0M83.5 166h0M171 166h0M176 168.5h2.5M178.5 171h0M206 171h2.5M181 173.5h2.5M203.5 173.5h0M203.5 176h0M206 178.5h0M211 178.5h0M101 181h2.5M108.5 181h0M121 181h0M183.5 181h0M208.5 181h0M98.5 183.5h0M138.5 186h0M183.5 186h0M96 188.5h0M181 188.5h0M96 191h0M138.5 191h0M181 191h0M93.5 193.5h0M138.5 193.5h0M181 193.5h0M181 196h0M98.5 198.5h0M138.5 198.5h0M183.5 198.5h0M103.5 201h0M141 201h0M183.5 201h0M106 203.5h0M143.5 203.5h0M183.5 203.5h0M108.5 206h0M143.5 206h2.5M183.5 206h0M113.5 208.5h0M141 208.5h2.5M116 211h2.5M143.5 211h0M181 211h0M233.5 211h2.5M121 213.5h0M178.5 213.5h0M223.5 213.5h2.5M143.5 216h0M176 216h0M223.5 216h0M141 218.5h0"/>
<path stroke="#00e5ff" d="M161 8.5h0M148.5 11h15M146 13.5h0M161 13.5h2.5M143.5 16h0M161 16h0M146 18.5h0M161 18.5h0M153.5 21h10M153.5 23.5h2.5M166 23.5h0M153.5 26h0M168.5 26h0M153.5 28.5h0M171 28.5h0M171 31h0M156 33.5h0M171 33.5h0M158.5 36h0M166 36h0M163.5 38.5h2.5M181 38.5h0M83.5 56h7.5M48.5 58.5h0M61 58.5h0M81 58.5h2.5M91 58.5h2.5M46 61h0M71 61h7.5M96 61h0M43.5 63.5h2.5M98.5 63.5h0M46 66h0M101 66h0M103.5 68.5h0M48.5 71h0M108.5 71h2.5M46 73.5h0M128.5 78.5h0M66 88.5h0M71 88.5h0M68.5 91h2.5M143.5 91h0M168.5 91h5M71 93.5h0M148.5 93.5h0M166 93.5h2.5M183.5 93.5h0M56 96h2.5M151 96h0M166 96h2.5M66 98.5h0M153.5 98.5h2.5M163.5 98.5h5M68.5 101h0M171 101h0M178.5 101h5M68.5 103.5h0M183.5 103.5h0M73.5 106h0M186 106h0M188.5 108.5h0M76 111h0M193.5 111h0M196 113.5h0M76 116h0M198.5 116h0M201 118.5h0M76 121h0M203.5 121h0M76 123.5h0M213.5 123.5h0M76 126h0M218.5 126h0M68.5 133.5h2.5M121 133.5h0M131 133.5h2.5M101 136h2.5M133.5 136h0M228.5 136h0M96 138.5h0M131 138.5h0M146 138.5h5M93.5 141h0M113.5 141h12.5M141 141h0M91 143.5h0M116 143.5h0M118.5 146h0M163.5 146h0M93.5 148.5h0M116 148.5h2.5M136 148.5h0M168.5 148.5h0M91 151h0M118.5 151h2.5M133.5 151h0M88.5 153.5h0M171 153.5h0M176 158.5h5M81 161h0M183.5 161h0M188.5 163.5h0M188.5 166h0M188.5 168.5h0M203.5 168.5h0M213.5 168.5h2.5M198.5 171h0M188.5 173.5h0M196 173.5h0M191 176h5M191 178.5h5M128.5 181h2.5M198.5 181h0M216 181h0M126 183.5h0M201 183.5h2.5M213.5 183.5h0M106 186h2.5M121 186h2.5M133.5 186h0M191 186h0M101 188.5h0M116 188.5h5M128.5 188.5h2.5M193.5 188.5h0M101 191h0M131 191h0M196 191h2.5M131 193.5h0M201 193.5h0M101 196h0M128.5 196h0M203.5 196h2.5M103.5 198.5h0M128.5 198.5h0M208.5 198.5h0M133.5 201h0M203.5 201h0M111 203.5h0M136 203.5h0M198.5 203.5h2.5M121 206h2.5M136 206h0M196 206h12.5M238.5 206h0M188.5 208.5h2.5M201 208.5h10M226 208.5h5M131 211h2.5M186 211h0M203.5 211h0M211 211h2.5M128.5 213.5h0M136 213.5h0M183.5 213.5h0M201 213.5h0M131 216h2.5M183.5 216h0M201 216h0"/>
<path stroke="#0066ff" d="M181 6h0M181 8.5h0M178.5 11h0M176 13.5h0M176 16h2.5M138.5 18.5h0M181 18.5h2.5M141 21h0M178.5 21h0M176 23.5h0M176 26h0M143.5 28.5h0M178.5 28.5h0M181 31h2.5M73.5 36h5M151 36h0M191 36h0M76 38.5h2.5M196 38.5h2.5M156 41h0M201 41h0M56 43.5h0M158.5 43.5h2.5M53.5 46h2.5M161 46h0M181 46h0M53.5 48.5h0M163.5 48.5h15M188.5 48.5h2.5M56 51h0M66 51h20M93.5 51h2.5M196 51h5M56 53.5h0M63.5 53.5h2.5M101 53.5h0M103.5 56h2.5M106 58.5h0M106 61h0M108.5 63.5h0M121 66h0M126 71h0M131 73.5h0M133.5 76h0M136 78.5h0M138.5 81h0M143.5 83.5h0M161 83.5h0M173.5 83.5h0M146 86h0M158.5 86h0M181 86h2.5M151 88.5h0M158.5 88.5h0M186 88.5h0M188.5 91h0M191 93.5h0M193.5 98.5h0M193.5 101h0M193.5 103.5h0M196 108.5h0M201 113.5h0M213.5 121h2.5M68.5 123.5h2.5M223.5 123.5h0M68.5 126h0M226 128.5h0M226 131h2.5M103.5 146h5M146 146h0M153.5 146h0M103.5 148.5h5M143.5 148.5h0M158.5 148.5h0M101 151h0M108.5 151h0M93.5 153.5h0M111 153.5h0M166 153.5h0M91 156h0M121 156h2.5M131 158.5h5M166 161h0M88.5 163.5h2.5M86 166h0M81 168.5h0M173.5 168.5h0M176 171h0M83.5 173.5h12.5M178.5 173.5h0M211 173.5h0M88.5 176h7.5M183.5 176h0M206 176h0M211 176h0M98.5 178.5h5M126 178.5h0M133.5 178.5h0M183.5 178.5h0M208.5 178.5h0M98.5 181h0M111 181h0M116 181h2.5M136 181h0M96 183.5h0M138.5 183.5h0M183.5 183.5h0M96 186h0M141 186h0M138.5 188.5h0M178.5 188.5h0M93.5 191h0M141 191h0M178.5 191h0M91 193.5h0M93.5 196h0M138.5 196h0M181 198.5h0M143.5 201h0M181 201h0M146 203.5h0M181 203.5h0M148.5 206h0M181 206h0M111 208.5h0M146 208.5h2.5M181 208.5h0M113.5 211h0M146 211h0M178.5 211h0M118.5 213.5h0M146 213.5h0M176 213.5h0M228.5 213.5h0M121 216h0M146 216h0M173.5 216h0M226 216h2.5M143.5 218.5h0"/>
<path stroke="#00ffff" d="M148.5 13.5h10M146 16h2.5M158.5 16h0M148.5 18.5h2.5M158.5 18.5h0M158.5 23.5h5M156 26h0M166 26h0M156 28.5h2.5M168.5 28.5h0M156 31h5M168.5 31h0M158.5 33.5h2.5M168.5 33.5h0M161 36h2.5M58.5 58.5h0M86 58.5h2.5M68.5 61h0M81 61h12.5M96 63.5h0M98.5 66h0M48.5 68.5h0M101 68.5h0M106 71h0M113.5 71h5M48.5 73.5h0M123.5 73.5h0M126 76h0M48.5 78.5h0M51 81h0M131 81h0M51 83.5h0M51 86h0M66 86h0M71 86h0M136 86h0M138.5 88.5h0M73.5 91h0M141 91h0M53.5 93.5h0M68.5 93.5h0M73.5 93.5h0M146 93.5h0M171 93.5h10M61 96h2.5M68.5 96h0M148.5 96h0M171 96h5M183.5 96h0M68.5 98.5h0M151 98.5h0M171 98.5h12.5M156 101h12.5M173.5 101h2.5M71 103.5h0M181 103.5h0M76 106h0M183.5 106h0M76 113.5h0M211 123.5h0M221 128.5h0M73.5 133.5h0M103.5 133.5h0M108.5 133.5h2.5M116 133.5h0M223.5 133.5h0M98.5 136h0M136 136h0M148.5 136h2.5M226 136h0M133.5 138.5h2.5M141 138.5h2.5M153.5 138.5h0M91 141h0M128.5 141h0M133.5 141h2.5M156 141h0M118.5 143.5h2.5M138.5 143.5h0M161 143.5h0M91 146h0M121 146h0M138.5 146h0M166 146h0M121 148.5h0M171 148.5h0M123.5 151h7.5M171 151h0M86 156h0M173.5 156h2.5M183.5 158.5h0M78.5 161h0M186 161h2.5M191 163.5h0M191 166h0M203.5 166h0M198.5 168.5h2.5M218.5 168.5h0M188.5 171h0M196 171h0M218.5 171h0M218.5 173.5h0M218.5 176h0M218.5 178.5h0M191 181h0M196 181h0M128.5 183.5h2.5M191 183.5h0M198.5 183.5h0M216 183.5h0M126 186h0M131 186h0M193.5 186h15M103.5 188.5h0M111 188.5h2.5M123.5 188.5h2.5M196 188.5h2.5M116 191h12.5M201 191h0M101 193.5h0M126 193.5h2.5M203.5 193.5h0M126 196h0M208.5 196h0M123.5 198.5h2.5M211 198.5h0M108.5 201h0M131 201h0M206 201h2.5M113.5 203.5h2.5M203.5 203.5h2.5M126 206h7.5M211 206h2.5M236 206h0M193.5 208.5h5M213.5 208.5h10M198.5 211h2.5M131 213.5h2.5M186 216h0M198.5 216h0"/>
<path stroke="#004dff" d="M183.5 6h2.5M183.5 8.5h0M181 11h0M178.5 13.5h2.5M136 16h0M181 16h12.5M186 18.5h2.5M113.5 21h0M181 21h2.5M108.5 23.5h2.5M141 23.5h0M178.5 23.5h0M141 26h0M178.5 26h0M141 28.5h0M181 28.5h0M108.5 31h5M146 31h0M78.5 33.5h2.5M88.5 33.5h2.5M111 33.5h2.5M148.5 33.5h0M188.5 33.5h0M81 36h0M116 36h2.5M193.5 36h2.5M71 38.5h2.5M81 38.5h0M118.5 38.5h0M151 38.5h0M201 38.5h5M61 41h0M153.5 41h0M203.5 41h2.5M58.5 43.5h5M156 43.5h0M203.5 43.5h0M58.5 46h10M158.5 46h0M203.5 46h0M56 48.5h20M83.5 48.5h10M161 48.5h0M181 48.5h5M203.5 48.5h0M58.5 51h5M98.5 51h0M193.5 51h0M203.5 51h0M58.5 53.5h2.5M103.5 53.5h2.5M108.5 56h2.5M108.5 58.5h2.5M108.5 61h2.5M203.5 61h2.5M111 63.5h7.5M123.5 66h0M126 68.5h0M128.5 71h0M133.5 73.5h0M141 81h2.5M146 83.5h0M176 83.5h2.5M148.5 86h2.5M186 86h0M153.5 88.5h2.5M188.5 88.5h0M191 91h0M193.5 93.5h0M193.5 96h0M196 106h0M198.5 108.5h0M201 111h0M218.5 121h0M226 126h0M228.5 128.5h0M148.5 146h2.5M156 148.5h0M103.5 151h2.5M141 151h0M161 151h0M96 153.5h2.5M106 153.5h2.5M138.5 153.5h0M118.5 156h0M138.5 156h0M166 156h0M91 158.5h0M128.5 158.5h0M166 158.5h0M91 161h0M133.5 161h0M163.5 161h0M93.5 163.5h0M166 163.5h0M88.5 166h5M168.5 166h0M83.5 168.5h0M171 168.5h0M83.5 171h12.5M173.5 171h0M176 173.5h0M206 173.5h2.5M83.5 176h2.5M98.5 176h0M128.5 176h5M181 176h0M208.5 176h0M86 178.5h10M106 178.5h2.5M123.5 178.5h0M136 178.5h0M181 178.5h0M96 181h0M113.5 181h0M181 181h0M93.5 183.5h0M141 183.5h0M181 183.5h0M88.5 186h5M181 186h0M88.5 188.5h5M141 188.5h0M176 188.5h0M91 191h0M143.5 191h0M176 191h0M141 193.5h0M178.5 193.5h0M91 196h0M141 196h0M178.5 196h0M96 198.5h0M141 198.5h0M178.5 198.5h0M101 201h0M146 201h0M103.5 203.5h0M148.5 203.5h0M106 206h0M151 206h2.5M108.5 208.5h0M151 208.5h0M111 211h0M148.5 211h0M113.5 213.5h2.5M148.5 213.5h0M173.5 213.5h0M231 213.5h0M238.5 213.5h0M118.5 216h0M148.5 216h2.5M171 216h0M231 216h2.5M238.5 216h0M146 218.5h0"/>
<path stroke="#1affe5" d="M151 16h5M153.5 18.5h2.5M158.5 26h5M161 28.5h5M163.5 31h2.5M163.5 33.5h2.5M51 58.5h5M48.5 61h0M66 61h0M73.5 63.5h10M91 63.5h2.5M48.5 66h0M93.5 66h2.5M98.5 68.5h0M48.5 76h0M51 78.5h0M126 78.5h0M128.5 81h0M68.5 83.5h0M133.5 83.5h0M53.5 86h0M53.5 88.5h0M73.5 88.5h0M53.5 91h0M66 91h0M56 93.5h0M66 93.5h0M76 93.5h0M143.5 93.5h0M66 96h0M71 96h0M146 96h0M178.5 96h2.5M71 98.5h0M148.5 98.5h0M71 101h0M153.5 101h0M73.5 103.5h0M168.5 103.5h10M181 106h0M186 108.5h0M191 111h0M193.5 113.5h0M208.5 123.5h0M216 126h0M76 128.5h0M76 131h0M101 133.5h0M106 133.5h0M113.5 133.5h0M138.5 136h0M143.5 136h2.5M153.5 136h0M93.5 138.5h0M138.5 138.5h0M156 138.5h0M228.5 138.5h0M131 141h0M138.5 141h0M158.5 141h0M123.5 143.5h2.5M133.5 143.5h2.5M163.5 143.5h0M123.5 146h2.5M136 146h0M168.5 146h0M91 148.5h0M123.5 148.5h2.5M133.5 148.5h0M88.5 151h0M173.5 153.5h0M178.5 156h0M83.5 158.5h0M186 158.5h0M191 161h0M193.5 163.5h0M193.5 166h0M198.5 166h2.5M206 166h5M191 168.5h5M221 168.5h0M191 171h2.5M191 173.5h2.5M221 176h0M193.5 181h0M218.5 181h0M193.5 183.5h2.5M218.5 183.5h0M128.5 186h0M211 186h0M106 188.5h2.5M201 188.5h2.5M103.5 191h0M113.5 191h0M203.5 191h0M103.5 193.5h0M118.5 193.5h5M206 193.5h0M118.5 196h5M211 196h0M118.5 198.5h2.5M213.5 198.5h0M111 201h17.5M211 201h2.5M118.5 203.5h15M208.5 203.5h5M218.5 203.5h10M216 206h17.5M188.5 211h0M196 211h0M186 213.5h0M198.5 213.5h0M196 216h0"/>
<path stroke="#0033ff" d="M188.5 3.5h2.5M188.5 6h0M186 8.5h0M183.5 11h5M183.5 13.5h12.5M133.5 16h0M196 16h2.5M136 18.5h0M191 18.5h0M116 21h7.5M138.5 21h0M186 21h0M106 23.5h0M113.5 23.5h5M138.5 23.5h0M181 23.5h0M138.5 26h0M181 26h0M93.5 28.5h0M111 28.5h0M136 28.5h2.5M183.5 28.5h0M86 31h7.5M103.5 31h2.5M116 31h0M141 31h2.5M186 31h0M83.5 33.5h2.5M93.5 33.5h15M116 33.5h5M191 33.5h5M83.5 36h2.5M108.5 36h5M121 36h2.5M148.5 36h0M198.5 36h0M66 38.5h2.5M83.5 38.5h0M113.5 38.5h2.5M121 38.5h5M208.5 38.5h5M63.5 41h17.5M113.5 41h7.5M148.5 41h2.5M208.5 41h0M66 43.5h10M111 43.5h0M151 43.5h2.5M206 43.5h0M71 46h5M81 46h2.5M88.5 46h22.5M156 46h0M206 46h0M78.5 48.5h2.5M96 48.5h15M158.5 48.5h0M206 48.5h0M101 51h12.5M166 51h12.5M191 51h0M206 51h0M108.5 53.5h7.5M138.5 53.5h2.5M193.5 53.5h10M113.5 56h5M201 56h0M113.5 58.5h2.5M201 58.5h7.5M113.5 61h2.5M201 61h0M208.5 61h2.5M121 63.5h0M201 63.5h7.5M126 66h0M201 66h5M128.5 68.5h0M171 68.5h2.5M201 68.5h5M131 71h0M141 71h10M148.5 73.5h7.5M136 76h0M138.5 78.5h5M146 81h0M163.5 81h12.5M148.5 83.5h2.5M158.5 83.5h0M181 83.5h7.5M153.5 86h0M188.5 86h2.5M191 88.5h0M193.5 91h0M196 96h0M196 98.5h0M196 101h0M196 103.5h0M201 108.5h0M203.5 111h0M203.5 116h0M206 118.5h0M221 121h0M226 123.5h0M146 148.5h0M153.5 148.5h0M158.5 151h0M101 153.5h2.5M163.5 153.5h0M93.5 156h0M113.5 156h2.5M123.5 158.5h2.5M138.5 158.5h0M163.5 158.5h0M93.5 161h0M128.5 161h2.5M136 161h2.5M161 161h0M96 163.5h5M136 163.5h0M163.5 163.5h0M96 166h5M143.5 166h5M86 168.5h12.5M98.5 171h0M171 171h0M98.5 173.5h0M146 173.5h0M173.5 173.5h0M101 176h0M126 176h0M136 176h0M178.5 176h0M111 178.5h0M121 178.5h0M178.5 178.5h0M86 181h7.5M138.5 181h0M178.5 181h0M88.5 183.5h2.5M143.5 183.5h0M143.5 186h0M178.5 186h0M143.5 188.5h0M173.5 188.5h0M146 191h0M173.5 191h0M143.5 193.5h2.5M176 193.5h0M143.5 196h2.5M176 196h0M93.5 198.5h0M143.5 198.5h2.5M176 198.5h0M98.5 201h0M148.5 201h0M178.5 201h0M151 203.5h2.5M178.5 203.5h0M156 206h2.5M178.5 206h0M153.5 208.5h2.5M178.5 208.5h0M108.5 211h0M151 211h0M176 211h0M111 213.5h0M151 213.5h2.5M171 213.5h0M233.5 213.5h2.5M113.5 216h2.5M153.5 216h0M168.5 216h0M236 216h0M148.5 218.5h0"/>
<path stroke="#33ffcc" d="M63.5 61h0M48.5 63.5h0M71 63.5h0M86 63.5h2.5M83.5 66h7.5M96 68.5h0M51 71h0M103.5 71h0M51 73.5h0M121 73.5h0M51 76h0M123.5 76h0M53.5 81h0M126 81h0M53.5 83.5h0M66 83.5h0M131 83.5h0M73.5 86h0M133.5 86h0M63.5 88.5h0M136 88.5h0M56 91h0M63.5 91h0M76 91h0M138.5 91h0M58.5 93.5h2.5M78.5 93.5h0M141 93.5h0M73.5 96h0M143.5 96h0M73.5 98.5h0M73.5 101h0M151 101h0M76 103.5h0M161 103.5h5M178.5 106h0M78.5 108.5h0M188.5 111h0M196 116h0M198.5 118.5h0M201 121h0M206 123.5h0M213.5 126h0M76 133.5h0M136 133.5h0M151 133.5h0M71 136h0M96 136h0M141 136h0M156 136h0M88.5 141h0M228.5 141h0M88.5 143.5h0M128.5 143.5h2.5M88.5 146h0M128.5 146h5M171 146h0M128.5 148.5h2.5M173.5 148.5h0M173.5 151h0M86 153.5h0M176 153.5h0M181 156h0M78.5 158.5h2.5M188.5 158.5h0M193.5 161h0M196 163.5h10M196 166h0M213.5 166h2.5M221 171h0M221 173.5h0M221 178.5h0M221 181h0M221 183.5h0M213.5 186h0M206 188.5h5M106 191h5M206 191h2.5M116 193.5h0M208.5 193.5h2.5M103.5 196h0M116 196h0M213.5 196h12.5M106 198.5h0M116 198.5h0M216 198.5h12.5M216 201h12.5M216 203.5h0M231 203.5h5M191 211h2.5M196 213.5h0M188.5 216h0M193.5 216h0"/>
<path stroke="#001aff" d="M193.5 3.5h2.5M191 6h7.5M188.5 8.5h2.5M191 11h5M198.5 13.5h2.5M128.5 16h2.5M201 16h0M121 18.5h12.5M193.5 18.5h0M126 21h10M121 23.5h5M136 23.5h0M183.5 23.5h0M98.5 26h17.5M133.5 26h2.5M183.5 26h0M96 28.5h12.5M113.5 28.5h2.5M131 28.5h2.5M186 28.5h0M96 31h5M118.5 31h2.5M133.5 31h5M188.5 31h0M123.5 33.5h22.5M198.5 33.5h0M88.5 36h5M98.5 36h7.5M126 36h5M146 36h0M201 36h12.5M86 38.5h0M108.5 38.5h2.5M128.5 38.5h10M146 38.5h2.5M216 38.5h0M83.5 41h0M108.5 41h2.5M123.5 41h22.5M211 41h5M78.5 43.5h2.5M101 43.5h7.5M113.5 43.5h10M131 43.5h17.5M208.5 43.5h2.5M78.5 46h0M86 46h0M113.5 46h5M133.5 46h10M153.5 46h0M208.5 46h2.5M113.5 48.5h2.5M156 48.5h0M208.5 48.5h0M116 51h2.5M138.5 51h0M161 51h2.5M181 51h7.5M208.5 51h0M118.5 53.5h2.5M133.5 53.5h2.5M143.5 53.5h2.5M168.5 53.5h12.5M191 53.5h0M206 53.5h0M121 56h5M141 56h2.5M161 56h20M191 56h7.5M203.5 56h2.5M118.5 58.5h2.5M163.5 58.5h15M196 58.5h2.5M211 58.5h2.5M118.5 61h2.5M158.5 61h20M198.5 61h0M213.5 61h0M123.5 63.5h5M158.5 63.5h10M198.5 63.5h0M211 63.5h0M128.5 66h0M198.5 66h0M208.5 66h0M131 68.5h0M138.5 68.5h12.5M166 68.5h2.5M176 68.5h2.5M196 68.5h2.5M208.5 68.5h0M133.5 71h5M153.5 71h5M166 71h7.5M198.5 71h7.5M136 73.5h10M158.5 73.5h7.5M196 73.5h12.5M138.5 76h20M163.5 76h17.5M146 78.5h7.5M166 78.5h0M173.5 78.5h10M148.5 81h2.5M161 81h0M178.5 81h7.5M153.5 83.5h2.5M191 83.5h5M156 86h0M193.5 86h0M193.5 88.5h0M196 91h0M196 93.5h0M198.5 98.5h0M198.5 101h0M198.5 103.5h0M198.5 106h0M206 111h2.5M203.5 113.5h0M208.5 118.5h0M223.5 121h2.5M148.5 148.5h2.5M143.5 151h0M156 151h0M141 153.5h0M96 156h2.5M106 156h0M111 156h0M141 156h0M163.5 156h0M93.5 158.5h0M118.5 158.5h2.5M141 158.5h0M161 158.5h0M96 161h5M118.5 161h7.5M141 161h0M153.5 161h5M103.5 163.5h5M121 163.5h12.5M138.5 163.5h22.5M103.5 166h2.5M138.5 166h2.5M151 166h2.5M166 166h0M101 168.5h0M143.5 168.5h10M168.5 168.5h0M101 171h0M141 171h10M101 173.5h0M131 173.5h12.5M148.5 173.5h7.5M103.5 176h2.5M123.5 176h0M138.5 176h7.5M176 176h0M113.5 178.5h5M138.5 178.5h2.5M176 178.5h0M141 181h0M146 183.5h0M178.5 183.5h0M146 186h0M173.5 186h2.5M146 188.5h0M171 188.5h0M148.5 191h0M171 191h0M148.5 193.5h2.5M173.5 193.5h0M148.5 196h7.5M173.5 196h0M148.5 198.5h2.5M166 198.5h7.5M93.5 201h2.5M151 201h2.5M163.5 201h12.5M93.5 203.5h0M101 203.5h0M156 203.5h15M103.5 206h0M161 206h7.5M106 208.5h0M158.5 208.5h17.5M106 211h0M153.5 211h2.5M168.5 211h5M108.5 213.5h0M156 213.5h0M168.5 213.5h0M111 216h0M156 216h2.5M166 216h0M151 218.5h7.5"/>
<path stroke="#4dffb2" d="M51 61h0M61 61h0M68.5 63.5h0M76 66h5M51 68.5h0M88.5 68.5h5M98.5 71h2.5M108.5 73.5h10M53.5 78.5h0M123.5 78.5h0M123.5 81h0M71 83.5h0M126 83.5h2.5M56 86h0M63.5 86h0M56 88.5h5M76 88.5h0M58.5 91h2.5M78.5 91h0M63.5 93.5h0M81 93.5h0M76 96h0M76 98.5h0M146 98.5h0M76 101h0M148.5 101h0M153.5 103.5h5M78.5 106h0M171 106h5M183.5 108.5h0M78.5 111h0M191 113.5h0M78.5 116h0M78.5 118.5h0M211 126h0M218.5 128.5h0M98.5 133.5h0M148.5 133.5h0M153.5 133.5h0M73.5 136h0M158.5 136h0M223.5 136h0M91 138.5h0M158.5 138.5h0M226 138.5h0M161 141h0M166 143.5h0M228.5 143.5h0M88.5 148.5h0M176 148.5h0M176 151h0M178.5 153.5h0M83.5 156h0M183.5 156h0M191 158.5h0M196 161h5M208.5 163.5h2.5M218.5 166h2.5M223.5 168.5h0M223.5 171h0M223.5 173.5h0M223.5 176h0M223.5 178.5h0M223.5 181h0M223.5 183.5h0M216 186h5M216 188.5h5M211 191h0M106 193.5h0M113.5 193.5h0M213.5 193.5h10M228.5 196h0M113.5 198.5h0M231 198.5h5M231 201h5M188.5 213.5h0M193.5 213.5h0M191 216h0"/>
<path stroke="#0000ff" d="M198.5 3.5h5M208.5 3.5h5M201 6h10M193.5 8.5h20M198.5 11h5M211 11h2.5M203.5 13.5h0M203.5 16h0M196 18.5h2.5M188.5 21h0M128.5 23.5h5M186 23.5h0M118.5 26h12.5M186 26h2.5M211 26h2.5M118.5 28.5h10M188.5 28.5h0M213.5 28.5h0M123.5 31h7.5M191 31h10M201 33.5h2.5M211 33.5h0M96 36h0M133.5 36h10M216 36h0M88.5 38.5h0M103.5 38.5h2.5M141 38.5h2.5M86 41h2.5M103.5 41h2.5M83.5 43.5h15M126 43.5h2.5M213.5 43.5h2.5M121 46h10M146 46h5M213.5 46h5M118.5 48.5h2.5M133.5 48.5h12.5M151 48.5h2.5M211 48.5h2.5M121 51h0M133.5 51h2.5M141 51h2.5M156 51h2.5M211 51h0M123.5 53.5h7.5M148.5 53.5h17.5M183.5 53.5h5M208.5 53.5h0M128.5 56h10M146 56h12.5M183.5 56h5M208.5 56h2.5M123.5 58.5h5M153.5 58.5h7.5M181 58.5h2.5M191 58.5h2.5M216 58.5h2.5M123.5 61h5M148.5 61h7.5M181 61h2.5M193.5 61h2.5M216 61h0M131 63.5h2.5M143.5 63.5h12.5M171 63.5h10M196 63.5h0M213.5 63.5h2.5M131 66h15M161 66h20M193.5 66h2.5M211 66h0M133.5 68.5h2.5M153.5 68.5h10M181 68.5h0M193.5 68.5h0M211 68.5h0M161 71h2.5M176 71h2.5M193.5 71h2.5M208.5 71h2.5M168.5 73.5h10M188.5 73.5h5M211 73.5h5M161 76h0M183.5 76h32.5M156 78.5h7.5M168.5 78.5h2.5M186 78.5h2.5M218.5 78.5h2.5M153.5 81h5M188.5 81h5M203.5 81h17.5M198.5 83.5h22.5M196 86h2.5M208.5 86h2.5M196 88.5h2.5M198.5 91h0M198.5 96h0M218.5 98.5h0M201 106h0M203.5 108.5h2.5M211 111h2.5M206 113.5h0M211 118.5h0M216 118.5h0M146 151h0M151 151h2.5M143.5 153.5h0M161 153.5h0M101 156h2.5M108.5 156h0M143.5 156h0M161 156h0M96 158.5h5M113.5 158.5h2.5M143.5 158.5h15M103.5 161h12.5M143.5 161h7.5M111 163.5h7.5M108.5 166h2.5M133.5 166h2.5M156 166h7.5M103.5 168.5h2.5M138.5 168.5h2.5M156 168.5h2.5M166 168.5h0M103.5 171h0M131 171h7.5M153.5 171h5M168.5 171h0M103.5 173.5h0M121 173.5h7.5M158.5 173.5h2.5M171 173.5h0M108.5 176h0M121 176h0M148.5 176h7.5M173.5 176h0M143.5 178.5h0M143.5 181h2.5M176 181h0M148.5 183.5h0M176 183.5h0M148.5 186h0M171 186h0M148.5 188.5h2.5M168.5 188.5h0M151 191h0M168.5 191h0M153.5 193.5h5M168.5 193.5h2.5M158.5 196h12.5M153.5 198.5h10M156 201h5M96 203.5h2.5M173.5 203.5h2.5M101 206h0M171 206h5M103.5 208.5h0M101 211h2.5M158.5 211h7.5M106 213.5h0M158.5 213.5h0M163.5 213.5h2.5M106 216h2.5M161 216h2.5"/>
<path stroke="#66ff99" d="M56 61h2.5M51 63.5h0M66 63.5h0M51 66h0M73.5 66h0M78.5 68.5h7.5M96 71h0M103.5 73.5h2.5M53.5 76h0M118.5 76h2.5M121 78.5h0M56 81h0M121 81h0M56 83.5h0M63.5 83.5h0M121 83.5h2.5M58.5 86h0M76 86h0M126 86h5M78.5 88.5h0M133.5 88.5h0M81 91h0M136 91h0M83.5 93.5h2.5M138.5 93.5h0M78.5 96h2.5M141 96h0M78.5 98.5h0M143.5 98.5h0M78.5 101h0M78.5 103.5h0M151 103.5h0M166 106h2.5M181 108.5h0M186 111h0M78.5 113.5h0M193.5 116h0M203.5 123.5h0M208.5 126h0M216 128.5h0M101 131h2.5M126 131h0M221 131h0M78.5 133.5h0M96 133.5h0M138.5 133.5h2.5M146 133.5h0M156 133.5h0M76 136h0M93.5 136h0M161 136h0M161 138.5h0M163.5 141h0M226 141h0M168.5 143.5h0M173.5 146h0M228.5 146h0M178.5 148.5h0M86 151h0M178.5 151h0M83.5 153.5h0M181 153.5h0M78.5 156h2.5M186 156h0M193.5 158.5h5M203.5 161h5M213.5 163.5h0M223.5 166h0M226 168.5h0M226 173.5h0M226 176h2.5M226 178.5h0M226 181h0M226 183.5h2.5M223.5 186h2.5M213.5 188.5h0M223.5 188.5h2.5M213.5 191h15M226 193.5h2.5M106 196h0M113.5 196h0M231 196h0M108.5 198.5h2.5"/>
<path stroke="#0000e6" d="M211 1h0M206 3.5h0M213.5 6h0M206 11h2.5M206 13.5h2.5M206 16h0M201 18.5h2.5M213.5 18.5h0M191 21h2.5M208.5 21h5M188.5 23.5h0M208.5 23.5h5M191 26h5M203.5 26h5M191 28.5h20M216 28.5h0M203.5 31h12.5M206 33.5h2.5M213.5 33.5h2.5M91 38.5h10M91 41h10M123.5 48.5h7.5M148.5 48.5h0M216 48.5h2.5M123.5 51h7.5M146 51h7.5M213.5 51h5M211 53.5h7.5M213.5 56h5M131 58.5h20M186 58.5h2.5M131 61h15M186 61h5M218.5 61h0M136 63.5h5M183.5 63.5h10M218.5 63.5h2.5M148.5 66h10M183.5 66h7.5M213.5 66h2.5M183.5 68.5h7.5M213.5 68.5h0M181 71h10M213.5 71h7.5M181 73.5h5M218.5 73.5h2.5M218.5 76h2.5M191 78.5h2.5M208.5 78.5h7.5M196 81h5M201 86h5M213.5 86h10M201 88.5h22.5M201 91h0M198.5 93.5h2.5M201 96h5M213.5 96h10M201 98.5h15M221 98.5h2.5M201 101h0M213.5 101h10M201 103.5h0M218.5 103.5h5M203.5 106h0M208.5 108.5h5M216 111h2.5M208.5 113.5h7.5M206 116h2.5M213.5 118.5h0M218.5 118.5h7.5M148.5 151h0M146 153.5h0M153.5 153.5h5M146 156h12.5M103.5 158.5h7.5M113.5 166h17.5M108.5 168.5h2.5M131 168.5h5M161 168.5h2.5M106 171h2.5M121 171h7.5M161 171h5M106 173.5h12.5M163.5 173.5h5M111 176h7.5M158.5 176h2.5M146 178.5h2.5M173.5 178.5h0M148.5 181h2.5M156 181h7.5M173.5 181h0M151 183.5h15M171 183.5h2.5M151 186h5M163.5 186h5M153.5 188.5h0M163.5 188.5h2.5M153.5 191h12.5M161 193.5h5M96 206h2.5M101 208.5h0M98.5 211h0M101 213.5h2.5M161 213.5h0M103.5 216h0"/>
<path stroke="#80ff80" d="M53.5 61h0M63.5 63.5h0M68.5 66h2.5M76 68.5h0M91 71h2.5M53.5 73.5h0M101 73.5h0M106 76h10M56 78.5h0M116 78.5h2.5M58.5 81h0M118.5 81h0M58.5 83.5h2.5M73.5 83.5h0M116 83.5h2.5M61 86h0M121 86h2.5M131 88.5h0M83.5 91h2.5M133.5 91h0M136 93.5h0M83.5 96h0M138.5 96h0M81 98.5h0M141 98.5h0M81 101h0M146 101h0M158.5 106h5M176 108.5h2.5M183.5 111h0M188.5 113.5h0M196 118.5h0M78.5 121h0M198.5 121h0M213.5 128.5h0M78.5 131h0M106 131h5M118.5 131h5M128.5 131h0M151 131h5M143.5 133.5h0M158.5 133.5h2.5M163.5 136h0M71 138.5h0M88.5 138.5h0M163.5 138.5h0M223.5 138.5h0M86 141h0M86 143.5h0M226 143.5h0M86 146h0M176 146h0M86 148.5h0M231 148.5h0M181 151h0M183.5 153.5h0M188.5 156h0M201 158.5h0M211 161h5M216 163.5h2.5M226 166h0M228.5 168.5h0M226 171h0M228.5 173.5h0M231 176h2.5M228.5 178.5h5M228.5 181h5M231 183.5h2.5M228.5 186h2.5M228.5 188.5h7.5M231 191h5M108.5 193.5h2.5M231 193.5h0M233.5 196h2.5M191 213.5h0"/>
<path stroke="#0000cc" d="M208.5 1h0M211 13.5h2.5M208.5 16h5M206 18.5h5M196 21h10M191 23.5h5M201 23.5h5M198.5 26h2.5M218.5 66h2.5M216 68.5h5M196 78.5h10M203.5 91h20M203.5 93.5h20M208.5 96h2.5M203.5 101h7.5M203.5 103.5h12.5M206 106h7.5M218.5 106h7.5M216 108.5h10M221 111h2.5M218.5 113.5h5M211 116h15M148.5 153.5h2.5M113.5 168.5h15M111 171h7.5M163.5 176h7.5M151 178.5h20M153.5 181h0M166 181h5M168.5 183.5h0M158.5 186h2.5M156 188.5h5M96 208.5h2.5M98.5 213.5h0M98.5 216h2.5"/>
<path stroke="#99ff66" d="M53.5 63.5h7.5M53.5 66h0M66 66h0M53.5 68.5h0M73.5 68.5h0M53.5 71h0M86 71h2.5M91 73.5h7.5M56 76h0M103.5 76h0M106 78.5h7.5M61 81h7.5M113.5 81h2.5M93.5 83.5h0M111 83.5h2.5M78.5 86h0M91 86h2.5M116 86h2.5M81 88.5h2.5M126 88.5h2.5M131 91h0M86 96h0M136 96h0M83.5 98.5h0M143.5 101h0M81 103.5h0M148.5 103.5h0M153.5 106h2.5M168.5 108.5h5M181 111h0M186 113.5h0M191 116h0M78.5 123.5h0M206 126h0M211 128.5h0M98.5 131h0M113.5 131h2.5M131 131h2.5M158.5 131h5M93.5 133.5h0M163.5 133.5h2.5M78.5 136h0M91 136h0M166 136h0M86 138.5h0M166 138.5h0M166 141h0M223.5 141h0M171 143.5h0M226 146h0M181 148.5h0M228.5 148.5h0M83.5 151h0M183.5 151h0M231 151h0M81 153.5h0M186 153.5h0M191 156h2.5M203.5 158.5h2.5M218.5 161h2.5M221 163.5h0M228.5 166h0M231 168.5h2.5M228.5 171h5M231 173.5h2.5M233.5 186h2.5M233.5 193.5h2.5M111 196h0"/>
<path stroke="#0000b2" d="M198.5 23.5h0M216 106h0M226 111h0M226 113.5h0"/>
<path stroke="#b3ff4c" d="M56 66h0M61 66h2.5M68.5 68.5h2.5M76 71h7.5M56 73.5h0M88.5 73.5h0M91 76h10M58.5 78.5h5M91 78.5h2.5M101 78.5h2.5M91 81h20M76 83.5h0M91 83.5h0M96 83.5h2.5M106 83.5h2.5M81 86h0M88.5 86h0M96 86h0M113.5 86h0M86 88.5h5M121 88.5h2.5M88.5 91h0M128.5 91h0M88.5 93.5h0M131 93.5h2.5M138.5 98.5h0M83.5 101h0M146 103.5h0M81 106h0M151 106h0M158.5 108.5h7.5M176 111h2.5M183.5 113.5h0M193.5 118.5h0M196 121h0M201 123.5h0M78.5 126h0M78.5 128.5h0M156 128.5h10M208.5 128.5h0M96 131h0M136 131h0M148.5 131h0M166 131h0M218.5 131h0M168.5 133.5h0M81 136h0M168.5 136h0M208.5 136h2.5M221 136h0M73.5 138.5h0M83.5 138.5h0M168.5 138.5h0M221 138.5h0M71 141h0M83.5 141h0M168.5 141h0M221 141h0M83.5 143.5h0M173.5 143.5h0M223.5 143.5h0M83.5 146h0M178.5 146h0M73.5 148.5h0M83.5 148.5h0M183.5 148.5h0M226 148.5h0M186 151h0M226 151h2.5M76 153.5h2.5M188.5 153.5h0M226 153.5h5M196 156h2.5M208.5 158.5h5M223.5 161h0M223.5 163.5h2.5M231 166h0"/>
<path stroke="#ccff33" d="M58.5 66h0M56 68.5h0M66 68.5h0M56 71h0M71 71h2.5M58.5 73.5h0M71 73.5h7.5M86 73.5h0M58.5 76h10M88.5 76h0M66 78.5h0M96 78.5h2.5M71 81h0M88.5 83.5h0M101 83.5h2.5M83.5 86h2.5M98.5 86h2.5M108.5 86h2.5M93.5 88.5h0M116 88.5h2.5M118.5 91h7.5M128.5 93.5h0M131 96h2.5M86 98.5h0M136 98.5h0M141 101h0M148.5 106h0M81 108.5h0M151 108.5h5M153.5 111h20M151 113.5h5M173.5 113.5h7.5M188.5 116h0M198.5 123.5h0M156 126h22.5M203.5 126h0M153.5 128.5h0M168.5 128.5h2.5M206 128.5h0M146 131h0M168.5 131h2.5M211 131h5M81 133.5h0M171 133.5h2.5M206 133.5h5M88.5 136h0M171 136h0M203.5 136h2.5M213.5 136h0M76 138.5h5M171 138.5h0M203.5 138.5h10M218.5 138.5h0M171 141h0M218.5 141h0M221 143.5h0M73.5 146h0M223.5 146h0M76 148.5h0M186 148.5h0M76 151h5M188.5 151h2.5M223.5 151h0M191 153.5h2.5M223.5 153.5h0M201 156h0M228.5 156h2.5M216 158.5h5M226 161h0M228.5 163.5h2.5M108.5 196h0"/>
<path stroke="#e5ff1a" d="M58.5 68.5h5M58.5 71h0M68.5 71h0M61 73.5h7.5M81 73.5h2.5M71 76h0M68.5 78.5h2.5M88.5 78.5h0M88.5 81h0M78.5 83.5h0M86 83.5h0M103.5 86h2.5M96 88.5h0M113.5 88.5h0M91 91h0M116 91h0M118.5 93.5h7.5M88.5 96h0M128.5 96h0M131 98.5h2.5M138.5 101h0M83.5 103.5h0M143.5 103.5h0M146 106h0M151 111h0M148.5 113.5h0M158.5 113.5h12.5M151 116h2.5M176 116h2.5M186 116h0M151 118.5h5M191 118.5h0M153.5 121h5M193.5 121h0M153.5 123.5h10M196 123.5h0M153.5 126h0M181 126h2.5M151 128.5h0M173.5 128.5h10M138.5 131h5M173.5 131h10M206 131h2.5M91 133.5h0M176 133.5h7.5M198.5 133.5h5M213.5 133.5h2.5M221 133.5h0M83.5 136h2.5M173.5 136h2.5M198.5 136h2.5M216 136h2.5M173.5 138.5h0M201 138.5h0M216 138.5h0M73.5 141h0M81 141h0M173.5 141h0M201 141h10M216 141h0M73.5 143.5h0M81 143.5h0M176 143.5h0M76 146h5M181 146h0M78.5 148.5h2.5M188.5 148.5h2.5M223.5 148.5h0M193.5 151h0M221 151h0M196 153.5h0M221 153.5h0M203.5 156h2.5M218.5 156h7.5M223.5 158.5h2.5M231 158.5h0M228.5 161h2.5"/>
<path stroke="#ffff00" d="M61 71h5M73.5 76h2.5M86 76h0M73.5 81h0M81 83.5h2.5M98.5 88.5h0M108.5 88.5h2.5M113.5 91h0M91 93.5h0M116 93.5h0M126 96h0M88.5 98.5h0M128.5 98.5h0M86 101h0M131 101h5M141 103.5h0M143.5 106h0M148.5 108.5h0M81 111h0M148.5 111h0M81 113.5h0M81 116h0M148.5 116h0M156 116h2.5M171 116h2.5M181 116h2.5M81 118.5h0M148.5 118.5h0M158.5 118.5h0M188.5 118.5h0M151 121h0M161 121h2.5M191 121h0M166 123.5h15M191 123.5h2.5M186 126h15M101 128.5h0M186 128.5h5M203.5 128.5h0M81 131h0M93.5 131h0M186 131h7.5M203.5 131h0M186 133.5h10M218.5 133.5h0M178.5 136h5M188.5 136h7.5M176 138.5h2.5M198.5 138.5h0M176 141h0M198.5 141h0M213.5 141h0M78.5 143.5h0M178.5 143.5h0M218.5 143.5h0M183.5 146h0M221 146h0M193.5 148.5h0M221 148.5h0M196 151h0M198.5 153.5h0M218.5 153.5h0M208.5 156h7.5M228.5 158.5h0"/>
<path stroke="#ffe500" d="M78.5 76h0M73.5 78.5h0M86 78.5h0M76 81h0M86 81h0M101 88.5h5M93.5 91h0M111 91h0M113.5 93.5h0M116 96h7.5M126 98.5h0M128.5 101h0M138.5 103.5h0M141 106h0M146 108.5h0M146 111h0M146 113.5h0M146 116h0M161 116h7.5M161 118.5h0M171 118.5h15M166 121h12.5M186 121h2.5M151 123.5h0M183.5 123.5h5M151 126h0M98.5 128.5h0M103.5 128.5h0M148.5 128.5h0M193.5 128.5h7.5M196 131h5M83.5 133.5h0M88.5 133.5h0M186 136h0M181 138.5h0M193.5 138.5h2.5M78.5 141h0M178.5 141h0M196 141h0M76 143.5h0M216 143.5h0M186 146h0M196 148.5h0M198.5 151h0M218.5 151h0M201 153.5h0M216 153.5h0"/>
<path stroke="#ffcc00" d="M81 76h2.5M76 78.5h0M78.5 81h0M83.5 81h0M96 91h0M108.5 91h0M111 93.5h0M91 96h0M113.5 96h0M118.5 98.5h5M88.5 101h0M126 101h0M86 103.5h0M136 103.5h0M83.5 106h0M138.5 106h0M143.5 108.5h0M143.5 111h0M143.5 113.5h0M146 118.5h0M163.5 118.5h5M81 121h0M148.5 121h0M181 121h2.5M96 128.5h0M106 128.5h2.5M146 128.5h0M91 131h0M183.5 138.5h7.5M76 141h0M181 141h0M181 143.5h0M196 143.5h17.5M188.5 146h7.5M218.5 146h0M198.5 148.5h0M218.5 148.5h0M201 151h0M216 151h0M203.5 153.5h2.5M213.5 153.5h0"/>
<path stroke="#ffb300" d="M78.5 78.5h0M81 81h0M98.5 91h0M103.5 91h2.5M93.5 93.5h0M108.5 93.5h0M111 96h0M91 98.5h0M113.5 98.5h2.5M123.5 101h0M128.5 103.5h5M136 106h0M141 108.5h0M143.5 116h0M148.5 123.5h0M148.5 126h0M81 128.5h0M111 128.5h0M126 128.5h0M143.5 128.5h0M86 133.5h0M183.5 141h0M188.5 141h5M183.5 143.5h0M191 143.5h2.5M198.5 146h0M216 148.5h0M213.5 151h0M208.5 153.5h2.5"/>
<path stroke="#ff9900" d="M83.5 78.5h0M101 91h0M96 93.5h2.5M106 93.5h0M93.5 96h0M108.5 96h0M111 98.5h0M113.5 101h7.5M126 103.5h0M131 106h2.5M138.5 108.5h0M141 111h0M141 113.5h0M141 116h0M143.5 118.5h0M146 121h0M81 123.5h0M93.5 128.5h0M113.5 128.5h10M128.5 128.5h7.5M141 128.5h0M83.5 131h0M186 143.5h2.5M201 146h0M216 146h0M201 148.5h0M203.5 151h7.5"/>
<path stroke="#ff8000" d="M81 78.5h0M101 93.5h2.5M96 96h0M106 96h0M93.5 98.5h0M108.5 98.5h0M91 101h0M108.5 101h2.5M88.5 103.5h0M118.5 103.5h5M86 106h0M126 106h2.5M83.5 108.5h0M133.5 108.5h2.5M138.5 111h0M138.5 113.5h0M141 118.5h0M143.5 121h0M138.5 128.5h0M86 131h2.5M186 141h0M203.5 146h5M213.5 146h0M208.5 148.5h0M213.5 148.5h0"/>
<path stroke="#ff6600" d="M98.5 96h5M106 98.5h0M93.5 101h0M106 101h0M91 103.5h0M106 103.5h10M106 106h5M123.5 106h0M108.5 108.5h0M126 108.5h5M83.5 111h0M136 111h0M83.5 113.5h0M83.5 116h0M138.5 116h0M83.5 118.5h0M143.5 123.5h2.5M81 126h0M98.5 126h2.5M143.5 126h2.5M91 128.5h0M211 146h0M203.5 148.5h2.5M211 148.5h0"/>
<path stroke="#ff4c00" d="M96 98.5h7.5M103.5 101h0M103.5 103.5h0M88.5 106h0M103.5 106h0M113.5 106h7.5M106 108.5h0M111 108.5h2.5M121 108.5h2.5M133.5 111h0M136 113.5h0M136 116h0M138.5 118.5h0M141 121h0M141 123.5h0M96 126h0M103.5 126h0M141 126h0M83.5 128.5h0"/>
<path stroke="#ff3300" d="M96 101h5M93.5 103.5h7.5M91 106h0M101 106h0M86 108.5h0M103.5 108.5h0M116 108.5h2.5M106 111h5M126 111h5M133.5 113.5h0M133.5 116h0M136 118.5h0M83.5 121h0M138.5 121h0M93.5 126h0M106 126h2.5M133.5 126h0M86 128.5h2.5"/>
<path stroke="#ff1a00" d="M93.5 106h5M88.5 108.5h0M101 108.5h0M103.5 111h0M113.5 111h0M118.5 111h5M128.5 113.5h2.5M131 116h0M133.5 118.5h0M83.5 123.5h0M98.5 123.5h5M138.5 123.5h0M91 126h0M111 126h0M136 126h2.5"/>
<path stroke="#ff0000" d="M91 108.5h7.5M86 111h0M101 111h0M116 111h0M86 113.5h0M106 113.5h20M108.5 116h10M123.5 116h5M108.5 118.5h2.5M136 121h0M93.5 123.5h2.5M106 123.5h2.5M133.5 123.5h2.5M83.5 126h5M126 126h5"/>
<path stroke="#e50000" d="M88.5 111h2.5M96 111h2.5M103.5 113.5h0M86 116h0M106 116h0M121 116h0M86 118.5h0M103.5 118.5h2.5M113.5 118.5h5M126 118.5h5M86 121h0M98.5 121h12.5M133.5 121h0M86 123.5h5M111 123.5h0M113.5 126h5M123.5 126h0"/>
<path stroke="#cc0000" d="M93.5 111h0M88.5 113.5h0M98.5 113.5h2.5M103.5 116h0M98.5 118.5h2.5M121 118.5h2.5M88.5 121h0M93.5 121h2.5M113.5 121h5M128.5 121h2.5M113.5 123.5h0M131 123.5h0M121 126h0"/>
<path stroke="#b30000" d="M91 113.5h5M88.5 116h0M93.5 116h7.5M88.5 118.5h7.5M91 121h0M121 121h5M116 123.5h2.5M126 123.5h2.5"/>
<path stroke="#990000" d="M91 116h0M121 123.5h2.5"/>
</g>
<g stroke-width="2.8"><use href="#f2"/></g>
</g>
<use href="#st"/>
</g>
<text x="1059.5" y="74.8" font-size="12" font-weight="bold" fill="#262626">100<tspan dx="1.8" dy="-10.6" font-size="7" font-weight="normal">o</tspan><tspan dx="6.5" dy="10.6">W</tspan></text>
<text x="1127.5" y="74.8" font-size="12" font-weight="bold" fill="#262626">90<tspan dx="1.8" dy="-10.6" font-size="7" font-weight="normal">o</tspan><tspan dx="6.5" dy="10.6">W</tspan></text>
<text x="1190.6" y="74.8" font-size="12" font-weight="bold" fill="#262626">80<tspan dx="1.8" dy="-10.6" font-size="7" font-weight="normal">o</tspan><tspan dx="6.5" dy="10.6">W</tspan></text>
<text x="1256.0" y="74.8" font-size="12" font-weight="bold" fill="#262626">70<tspan dx="1.8" dy="-10.6" font-size="7" font-weight="normal">o</tspan><tspan dx="6.5" dy="10.6">W</tspan></text>
<text x="988.0" y="113.5" font-size="12" font-weight="bold" fill="#262626">48<tspan dx="2.6" dy="-10.8" font-size="7" font-weight="normal">o</tspan><tspan dx="5.6" dy="10.8">N</tspan></text>
<text x="988.0" y="131.3" font-size="12" font-weight="bold" fill="#262626">46<tspan dx="2.6" dy="-10.8" font-size="7" font-weight="normal">o</tspan><tspan dx="5.6" dy="10.8">N</tspan></text>
<text x="988.0" y="147.6" font-size="12" font-weight="bold" fill="#262626">44<tspan dx="2.6" dy="-10.8" font-size="7" font-weight="normal">o</tspan><tspan dx="5.6" dy="10.8">N</tspan></text>
<text x="988.0" y="166.7" font-size="12" font-weight="bold" fill="#262626">42<tspan dx="2.6" dy="-10.8" font-size="7" font-weight="normal">o</tspan><tspan dx="5.6" dy="10.8">N</tspan></text>
<text x="988.0" y="183.4" font-size="12" font-weight="bold" fill="#262626">40<tspan dx="2.6" dy="-10.8" font-size="7" font-weight="normal">o</tspan><tspan dx="5.6" dy="10.8">N</tspan></text>
<text x="988.0" y="198.0" font-size="12" font-weight="bold" fill="#262626">38<tspan dx="2.6" dy="-10.8" font-size="7" font-weight="normal">o</tspan><tspan dx="5.6" dy="10.8">N</tspan></text>
<text x="988.0" y="215.0" font-size="12" font-weight="bold" fill="#262626">36<tspan dx="2.6" dy="-10.8" font-size="7" font-weight="normal">o</tspan><tspan dx="5.6" dy="10.8">N</tspan></text>
<text x="988.0" y="229.2" font-size="12" font-weight="bold" fill="#262626">34<tspan dx="2.6" dy="-10.8" font-size="7" font-weight="normal">o</tspan><tspan dx="5.6" dy="10.8">N</tspan></text>
<text x="988.0" y="246.4" font-size="12" font-weight="bold" fill="#262626">32<tspan dx="2.6" dy="-10.8" font-size="7" font-weight="normal">o</tspan><tspan dx="5.6" dy="10.8">N</tspan></text>
<text x="988.0" y="259.7" font-size="12" font-weight="bold" fill="#262626">30<tspan dx="2.6" dy="-10.8" font-size="7" font-weight="normal">o</tspan><tspan dx="5.6" dy="10.8">N</tspan></text>
<text x="988.0" y="274.8" font-size="12" font-weight="bold" fill="#262626">28<tspan dx="2.6" dy="-10.8" font-size="7" font-weight="normal">o</tspan><tspan dx="5.6" dy="10.8">N</tspan></text>
<text x="988.0" y="289.2" font-size="12" font-weight="bold" fill="#262626">26<tspan dx="2.6" dy="-10.8" font-size="7" font-weight="normal">o</tspan><tspan dx="5.6" dy="10.8">N</tspan></text>
<text x="988.0" y="301.9" font-size="12" font-weight="bold" fill="#262626">24<tspan dx="2.6" dy="-10.8" font-size="7" font-weight="normal">o</tspan><tspan dx="5.6" dy="10.8">N</tspan></text>
<text x="988.0" y="316.4" font-size="12" font-weight="bold" fill="#262626">22<tspan dx="2.6" dy="-10.8" font-size="7" font-weight="normal">o</tspan><tspan dx="5.6" dy="10.8">N</tspan></text>
<rect x="1285" y="95" width="23.5" height="215.5" fill="url(#jet)"/>
<rect x="1285.5" y="95.5" width="23" height="215" fill="none" stroke="#000" stroke-opacity="0.55" stroke-width="1"/>
<line x1="1306" y1="159.3" x2="1308.5" y2="159.3" stroke="#222" stroke-width="1"/>
<text x="1316.9" y="166.7" font-size="20.8" font-weight="bold" fill="#262626">2</text>
<line x1="1306" y1="234.9" x2="1308.5" y2="234.9" stroke="#222" stroke-width="1"/>
<text x="1316.9" y="242.3" font-size="20.8" font-weight="bold" fill="#262626">1</text>
<line x1="1306" y1="310.5" x2="1308.5" y2="310.5" stroke="#222" stroke-width="1"/>
<text x="1316.9" y="317.9" font-size="20.8" font-weight="bold" fill="#262626">0</text>
<text x="967.0" y="341.7" font-size="22.4" font-weight="bold" fill="#262626" textLength="366.0" lengthAdjust="spacingAndGlyphs">SAT+RAP 500 hPa MR (g/kg)</text>
<g transform="translate(195.5 486.5) scale(1.00000 1.00000)">
<rect x="0" y="0" width="234" height="213" fill="none" stroke="#000" stroke-width="1"/>
<g fill="none" stroke-linecap="round" stroke-width="7.6" clip-path="url(#swc)">
<g id="f3">
<path stroke="#66ff99" d="M124 36h0M106 40h0M126 40h4M112 44h0M124 44h4M196 44h0M122 48h8M202 80h0M86 88h0M94 88h0M186 88h0M194 88h0M90 96h0M154 96h0M152 100h0M174 104h4M186 104h4M78 112h0M206 120h0M80 124h0M136 124h0M70 128h0M166 128h0M172 132h0M184 132h4M88 140h0M164 140h0M110 144h0M166 144h4M116 148h0M110 152h4M158 152h0M166 152h0M120 156h4M156 156h12M122 160h36M166 160h0M124 164h28M168 164h0M122 168h32M120 172h8M152 172h0M168 172h0M122 176h0M170 176h0M148 180h4M168 180h0M118 184h8M170 184h0M120 188h12M168 188h0M184 188h0M118 192h8M170 192h0M182 192h4M124 196h4M168 196h0M184 196h0M170 200h8M200 204h0M194 208h4M184 212h0"/>
<path stroke="#80ff80" d="M110 24h0M108 28h4M110 32h4M134 32h0M128 36h12M134 40h8M132 44h8M208 44h0M134 48h8M108 52h0M120 52h20M100 60h0M128 60h4M102 64h0M130 64h0M128 68h4M130 72h0M128 76h4M204 76h0M126 80h8M174 80h24M128 84h8M160 84h28M146 88h36M148 92h36M146 96h4M158 96h28M148 100h0M156 100h32M150 104h20M164 108h16M204 116h0M82 120h0M148 124h0M186 128h0M78 136h0M84 140h0M106 144h0M104 148h0M112 148h0M82 152h0M118 152h36M128 156h24M162 160h0M156 164h8M158 168h8M132 172h16M156 172h8M126 176h40M124 180h20M156 180h8M130 184h36M136 188h28M130 192h12M162 192h4M132 196h8M160 196h4M146 200h0M162 200h4M164 204h12M192 204h4M162 208h16M190 208h0M164 212h16M170 216h0"/>
<path stroke="#4dffb2" d="M208 84h8M210 88h8M88 92h0M206 96h8M204 100h0M216 100h4M208 108h0M216 108h4M206 112h4M76 116h0M208 116h0M78 120h0M210 120h0M218 120h0M76 124h0M164 124h0M74 128h0M82 128h0M168 132h0M176 132h0M196 132h0M186 136h4M92 140h12M168 140h0M176 140h0M162 144h0M174 144h0M120 148h12M148 148h16M86 152h0M106 152h0M162 152h0M174 152h0M116 156h0M118 160h0M170 160h0M120 164h0M118 168h0M170 168h0M172 172h0M118 176h0M172 180h0M116 188h0M172 188h0M112 196h0M120 196h0M172 196h0M180 196h0M188 196h0M118 200h4M190 200h0M204 204h0M202 208h4M196 212h0"/>
<path stroke="#99ff66" d="M136 28h8M138 32h8M144 36h4M192 36h0M146 40h4M190 40h0M210 40h0M144 44h4M192 44h0M146 48h0M206 48h4M112 52h0M144 52h4M110 56h32M108 60h0M124 60h0M136 60h0M106 64h0M126 64h0M134 64h0M136 68h0M134 72h0M172 76h28M170 80h0M92 84h0M140 84h0M148 84h8M130 88h0M138 88h4M144 92h0M80 100h0M144 100h0M142 104h4M144 108h0M160 108h0M166 112h4M172 116h0M86 120h4M202 120h0M84 124h0M174 128h0M94 144h8M96 148h4M108 148h0M168 148h4M170 152h0M146 192h12M144 196h12M158 200h0M182 200h4M148 204h0M180 204h0M188 204h0M158 208h0M182 208h4"/>
<path stroke="#33ffcc" d="M92 92h0M212 92h8M218 96h0M76 108h0M70 112h4M214 112h4M72 116h0M212 116h8M74 120h0M72 124h0M86 128h0M134 128h0M164 132h0M204 132h0M162 136h20M194 136h8M108 140h0M172 140h0M180 140h4M114 144h0M178 144h0M136 148h8M176 148h0M102 152h0M172 156h0M116 164h0M172 164h0M116 172h0M174 176h0M174 184h0M180 188h0M174 192h4M108 196h0M176 196h0M98 200h0M106 200h4M130 200h0M194 200h0M208 204h4M210 208h0M204 212h4"/>
<path stroke="#b3ff4c" d="M202 8h0M156 12h0M198 16h4M210 16h0M136 20h0M138 24h0M146 24h4M148 28h0M150 32h0M190 32h4M202 32h4M152 36h24M184 36h4M204 36h0M154 40h4M182 40h4M152 44h4M188 44h0M150 48h0M152 52h0M146 56h0M112 60h0M120 60h0M140 60h4M122 64h0M138 64h0M140 68h0M138 72h0M194 72h8M136 76h0M138 80h0M166 80h0M142 96h0M92 100h0M140 100h0M148 108h0M156 108h0M146 112h0M144 116h0M200 116h0M170 120h0M168 124h0M170 128h0M90 144h0M88 148h4M150 208h0M156 212h0"/>
<path stroke="#1affe5" d="M76 100h0M68 108h0M64 116h4M70 120h0M126 120h0M128 124h0M90 128h0M138 128h4M82 136h0M112 140h0M160 140h0M188 140h16M158 144h0M182 144h0M90 152h8M112 156h0M114 160h0M114 168h0M174 168h0M176 172h0M114 176h0M178 176h0M112 180h0M176 180h0M178 184h8M176 188h0M188 188h0M134 200h0M198 200h0M214 200h8M100 204h0M216 204h4M214 208h0M132 212h0M212 212h8"/>
<path stroke="#ccff33" d="M208 4h4M214 8h0M146 16h0M154 16h0M166 16h4M194 16h0M140 20h0M148 20h24M192 20h16M154 24h20M182 24h0M190 24h4M206 24h0M214 24h0M152 28h40M204 28h0M154 32h32M210 32h0M180 36h0M162 40h16M160 44h4M180 44h4M154 48h4M186 48h4M156 52h0M204 52h0M150 56h4M116 60h0M148 60h0M168 60h4M110 64h8M142 64h0M170 64h4M202 64h0M196 68h8M174 72h16M168 76h0M154 80h0M162 80h0M140 92h0M134 96h0M84 100h4M82 104h0M152 108h0M86 112h0M154 112h0M86 144h0M184 204h0M154 208h0"/>
<path stroke="#00ffff" d="M156 124h4M130 128h0M146 128h4M162 128h0M160 132h0M102 136h0M110 136h4M118 144h0M186 144h8M202 144h4M180 148h0M208 148h0M178 152h0M176 156h0M174 160h0M112 164h0M176 164h0M112 172h0M180 172h0M182 176h0M180 180h4M190 192h0M192 196h0M220 196h0M138 200h0M202 200h8M104 204h4M140 204h0M224 204h0M134 208h0M218 208h4M224 212h0"/>
<path stroke="#e5ff1a" d="M168 44h8M162 48h20M160 52h20M158 56h20M202 56h4M152 60h12M176 60h4M200 60h8M150 64h0M158 64h8M178 64h0M194 64h4M206 64h4M168 68h8M188 68h4M142 72h0M170 72h0M140 76h0M158 80h0M136 92h0M138 96h0M90 104h0M82 144h0M84 148h0"/>
<path stroke="#00e5ff" d="M112 132h4M132 132h0M98 136h0M106 136h0M116 140h0M122 144h0M130 144h0M154 144h0M198 144h0M184 148h0M182 152h0M108 156h0M178 160h0M110 168h0M178 168h0M108 172h0M184 172h0M110 176h0M186 176h0M220 188h0M218 192h0M216 196h0M100 212h0M116 212h0"/>
<path stroke="#ffff00" d="M184 52h4M182 56h4M198 56h0M210 56h0M184 60h8M182 64h8M156 68h8M180 68h4M166 72h0M164 76h0M86 104h0M78 144h0"/>
<path stroke="#00ccff" d="M96 124h0M104 124h4M116 124h0M124 124h0M114 128h0M126 128h0M154 128h0M84 132h0M108 132h0M128 132h0M136 132h0M86 136h0M118 136h0M158 136h0M126 144h0M134 144h0M188 148h16M186 152h0M180 156h0M224 156h0M110 160h0M182 160h0M108 164h0M180 164h4M182 168h4M188 172h0M190 176h0M188 180h0M190 184h0M136 204h0M102 208h0M112 212h0"/>
<path stroke="#ffe500" d="M190 56h0M162 72h0M160 76h0"/>
<path stroke="#00b2ff" d="M100 124h0M94 128h0M102 128h8M118 128h4M158 128h0M100 132h4M120 132h0M90 136h4M130 136h0M132 140h0M156 140h0M150 144h0M190 152h8M104 156h0M184 156h8M186 160h8M188 164h8M106 168h0M190 168h8M192 172h4M106 176h0M192 180h0M220 180h0M192 188h0M216 188h0M194 192h0M196 196h0M212 196h0M106 208h4"/>
<path stroke="#0099ff" d="M124 132h0M140 132h0M156 132h0M122 136h4M134 136h0M120 140h0M128 140h0M138 144h0M202 152h4M100 156h0M196 156h0M216 156h0M106 160h0M198 160h0M200 164h4M202 168h4M104 172h0M200 172h4M194 176h0M214 192h0M200 196h0"/>
<path stroke="#0080ff" d="M98 128h0M88 132h0M96 132h0M124 140h0M142 144h4M200 156h0M202 160h0M222 160h0M104 164h0M208 164h0M210 168h0M208 172h0M198 176h0M196 180h0M216 180h0M194 184h0M214 184h0M204 196h4"/>
<path stroke="#0066ff" d="M92 132h0M152 132h0M138 136h0M154 136h0M136 140h0M152 140h0M88 156h0M96 156h0M204 156h4M102 160h0M218 160h0M102 168h0M214 168h0M212 172h4M202 176h12M212 180h0M102 184h0M196 188h0M198 192h0"/>
<path stroke="#004dff" d="M144 132h0M92 156h0M82 160h0M206 160h0M100 164h0M212 164h4M218 168h0M102 176h0M200 180h0M208 180h0M198 184h0M212 188h0M210 192h0"/>
<path stroke="#0033ff" d="M148 132h0M148 140h0M210 160h4M220 164h0M98 168h0M100 172h0M204 180h0M94 184h4M210 184h0M202 192h0"/>
<path stroke="#001aff" d="M142 136h0M150 136h0M140 140h0M98 160h0M96 164h0M202 184h4M200 188h0M208 188h0M206 192h0"/>
<path stroke="#0000ff" d="M146 136h0M144 140h0M86 160h0M94 160h0M88 164h4M90 168h4M96 172h0M90 176h0M98 176h0M92 180h4M204 188h0"/>
<path stroke="#0000e6" d="M90 160h0M94 176h0"/>
</g>
<g stroke-width="4.48"><use href="#f3"/></g>
<path stroke="#33ffcc" stroke-width="8" d="M61 47h0"/>
<path stroke="#000099" stroke-width="8" d="M94 188h0M147 141h0M102 210h0"/>
<path stroke="#ff9900" stroke-width="8" d="M130 103h0"/>
<path stroke="#0000ff" stroke-width="8" d="M137 110h0M226 162h0M226.4 167h0M227 172h0"/>
<path stroke="#0000b2" stroke-width="8" d="M112 128h0M88 136h0M143 138h0M151 139h0M143 143.6h0"/>
<path stroke="#0000cc" stroke-width="8" d="M122 129h0M94 133h0M120 143h0"/>
<path stroke="#0000e6" stroke-width="8" d="M106 136h0"/>
<path stroke="#b30000" stroke-width="8" d="M147 209h0"/>
<path stroke="#001aff" stroke-width="8" d="M228 183h0M232 204h0M232 209h0"/>
<path stroke="#4dffb2" stroke-width="8" d="M222 134h0M222 144h0"/>
<path stroke="#ff3300" stroke-width="6" d="M105 75.2h0"/>
<path stroke="#ffe500" stroke-width="6.5" d="M105.3 77.3h0"/>
<path stroke="#b30000" stroke-width="4.5" d="M140 103h3"/>
<path stroke="#cc0000" stroke-width="4" d="M144 105h3"/>
<path stroke="#ff8000" stroke-width="3.5" d="M150 110h6"/>
<path stroke="#ff4c00" stroke-width="3" d="M81 102h10"/>
<path stroke="#ff9900" stroke-width="3.5" d="M152 73h5"/>
<path stroke="#ff9900" stroke-width="3.5" d="M157 76h5"/>
<path stroke="#ffb300" stroke-width="3.5" d="M162 79h4"/>
<path stroke="#ffe500" stroke-width="3.5" d="M183.5 203h0"/>
<path stroke="#ffe500" stroke-width="3.5" d="M183.5 206h0"/>
<path stroke="#ff9900" stroke-width="3" d="M148 120h2"/>
<path stroke="#ffff00" stroke-width="7.5" d="M212 155h0"/>
<path stroke="#ff9900" stroke-width="4.5" d="M208 173h0"/>
<path stroke="#ffe500" stroke-width="6" d="M170.5 151h0"/>
<path stroke="#ffe500" stroke-width="6" d="M171 155h0"/>
</g>
<use href="#st"/>
</g>
<text x="216.0" y="467.0" font-size="12" font-weight="bold" fill="#262626">100<tspan dx="1.8" dy="-10.6" font-size="7" font-weight="normal">o</tspan><tspan dx="6.5" dy="10.6">W</tspan></text>
<text x="284.5" y="467.0" font-size="12" font-weight="bold" fill="#262626">90<tspan dx="1.8" dy="-10.6" font-size="7" font-weight="normal">o</tspan><tspan dx="6.5" dy="10.6">W</tspan></text>
<text x="348.5" y="467.0" font-size="12" font-weight="bold" fill="#262626">80<tspan dx="1.8" dy="-10.6" font-size="7" font-weight="normal">o</tspan><tspan dx="6.5" dy="10.6">W</tspan></text>
<text x="412.0" y="467.0" font-size="12" font-weight="bold" fill="#262626">70<tspan dx="1.8" dy="-10.6" font-size="7" font-weight="normal">o</tspan><tspan dx="6.5" dy="10.6">W</tspan></text>
<text x="146.6" y="501.2" font-size="12" font-weight="bold" fill="#262626">48<tspan dx="2.6" dy="-10.8" font-size="7" font-weight="normal">o</tspan><tspan dx="4.8" dy="10.8">N</tspan></text>
<text x="146.6" y="520.7" font-size="12" font-weight="bold" fill="#262626">46<tspan dx="2.6" dy="-10.8" font-size="7" font-weight="normal">o</tspan><tspan dx="4.8" dy="10.8">N</tspan></text>
<text x="146.6" y="537.8" font-size="12" font-weight="bold" fill="#262626">44<tspan dx="2.6" dy="-10.8" font-size="7" font-weight="normal">o</tspan><tspan dx="4.8" dy="10.8">N</tspan></text>
<text x="146.6" y="556.0" font-size="12" font-weight="bold" fill="#262626">42<tspan dx="2.6" dy="-10.8" font-size="7" font-weight="normal">o</tspan><tspan dx="4.8" dy="10.8">N</tspan></text>
<text x="146.6" y="572.3" font-size="12" font-weight="bold" fill="#262626">40<tspan dx="2.6" dy="-10.8" font-size="7" font-weight="normal">o</tspan><tspan dx="4.8" dy="10.8">N</tspan></text>
<text x="146.6" y="587.7" font-size="12" font-weight="bold" fill="#262626">38<tspan dx="2.6" dy="-10.8" font-size="7" font-weight="normal">o</tspan><tspan dx="4.8" dy="10.8">N</tspan></text>
<text x="146.6" y="603.5" font-size="12" font-weight="bold" fill="#262626">36<tspan dx="2.6" dy="-10.8" font-size="7" font-weight="normal">o</tspan><tspan dx="4.8" dy="10.8">N</tspan></text>
<text x="146.6" y="618.7" font-size="12" font-weight="bold" fill="#262626">34<tspan dx="2.6" dy="-10.8" font-size="7" font-weight="normal">o</tspan><tspan dx="4.8" dy="10.8">N</tspan></text>
<text x="146.6" y="635.0" font-size="12" font-weight="bold" fill="#262626">32<tspan dx="2.6" dy="-10.8" font-size="7" font-weight="normal">o</tspan><tspan dx="4.8" dy="10.8">N</tspan></text>
<text x="146.6" y="649.7" font-size="12" font-weight="bold" fill="#262626">30<tspan dx="2.6" dy="-10.8" font-size="7" font-weight="normal">o</tspan><tspan dx="4.8" dy="10.8">N</tspan></text>
<text x="146.6" y="662.8" font-size="12" font-weight="bold" fill="#262626">28<tspan dx="2.6" dy="-10.8" font-size="7" font-weight="normal">o</tspan><tspan dx="4.8" dy="10.8">N</tspan></text>
<text x="146.6" y="677.0" font-size="12" font-weight="bold" fill="#262626">26<tspan dx="2.6" dy="-10.8" font-size="7" font-weight="normal">o</tspan><tspan dx="4.8" dy="10.8">N</tspan></text>
<text x="146.6" y="691.5" font-size="12" font-weight="bold" fill="#262626">24<tspan dx="2.6" dy="-10.8" font-size="7" font-weight="normal">o</tspan><tspan dx="4.8" dy="10.8">N</tspan></text>
<text x="146.6" y="705.0" font-size="12" font-weight="bold" fill="#262626">22<tspan dx="2.6" dy="-10.8" font-size="7" font-weight="normal">o</tspan><tspan dx="4.8" dy="10.8">N</tspan></text>
<rect x="441" y="485" width="24" height="215.5" fill="url(#jet)"/>
<rect x="441.5" y="485.5" width="23" height="215" fill="none" stroke="#000" stroke-opacity="0.55" stroke-width="1"/>
<line x1="462.5" y1="493.85" x2="465" y2="493.85" stroke="#222" stroke-width="1"/>
<text x="473.1" y="501.2" font-size="20.8" font-weight="bold" fill="#262626">5</text>
<line x1="462.5" y1="592.75" x2="465" y2="592.75" stroke="#222" stroke-width="1"/>
<text x="473.1" y="600.1" font-size="20.8" font-weight="bold" fill="#262626">0</text>
<line x1="462.5" y1="691.65" x2="465" y2="691.65" stroke="#222" stroke-width="1"/>
<text x="473.1" y="699.0" font-size="20.8" font-weight="bold" fill="#262626">-5</text>
<text x="129.0" y="731.0" font-size="22.4" font-weight="bold" fill="#262626" textLength="358.0" lengthAdjust="spacingAndGlyphs">SAT-RAP 850 hPa MR (g/kg)</text>
<g transform="translate(616.5 486.5) scale(1.00000 1.00000)">
<rect x="0" y="0" width="234" height="213" fill="none" stroke="#000" stroke-width="1"/>
<g fill="none" stroke-linecap="round" stroke-width="7.6" clip-path="url(#swc)">
<g id="f4">
<path stroke="#80ff80" d="M204 4h8M194 8h16M208 12h0M154 16h4M170 16h0M194 16h4M206 16h8M160 20h8M192 20h20M138 24h4M150 24h0M162 24h44M214 24h0M108 28h0M116 28h0M132 28h72M110 32h4M130 32h32M178 32h20M108 36h0M120 36h0M128 36h4M148 36h40M126 40h4M154 40h36M210 40h0M112 44h0M120 44h8M156 44h36M208 44h4M122 48h4M158 48h36M206 48h4M116 52h8M156 52h36M200 52h8M110 56h4M122 56h8M158 56h12M178 56h16M108 60h0M124 60h0M136 60h4M164 60h0M188 60h8M106 64h0M126 64h12M166 64h4M198 64h4M104 68h0M168 68h0M188 68h8M102 72h0M170 72h4M186 72h12M100 76h0M172 76h24M130 80h0M170 80h32M96 84h0M140 84h0M148 84h0M164 84h20M204 84h8M220 84h0M146 88h28M182 88h8M206 88h16M136 92h0M152 92h20M184 92h0M212 92h12M154 96h32M222 96h0M156 100h32M162 104h12M186 104h0M160 108h12M152 116h0M208 116h4M210 120h0M198 128h0M214 128h12M128 132h12M192 132h4M216 132h12M134 136h20M174 136h0M190 136h0M222 136h4M88 140h0M136 140h12M154 144h8M222 144h0M148 148h16M82 152h0M84 156h0M178 168h4M100 172h28M144 172h0M172 172h12M102 176h0M130 176h20M174 176h20M96 180h4M140 180h8M156 180h8M176 180h20M94 184h4M138 184h8M158 184h44M218 184h12M100 188h0M144 188h56M212 188h16M98 192h0M146 192h72M152 196h24M188 196h24M102 200h0M158 200h16M198 200h4M100 204h4M164 204h8M102 208h4M162 208h12M100 212h0"/>
<path stroke="#99ff66" d="M192 4h0M146 16h0M148 20h8M154 24h4M166 32h8M136 36h8M134 40h0M146 40h4M132 44h0M152 44h0M130 48h0M154 48h0M128 52h4M152 52h0M118 56h0M134 56h20M198 56h4M112 60h8M144 60h16M204 60h0M110 64h0M122 64h0M146 64h0M162 64h0M120 68h12M108 76h0M168 76h0M134 80h0M166 80h0M152 84h8M142 88h0M148 92h0M150 96h0M152 100h0M142 104h0M158 104h0M144 108h0M204 116h0M182 128h0M178 136h0M106 176h20M104 180h4M132 180h4M102 184h4M134 184h0M104 188h4M136 188h4M232 188h0M106 192h0M142 192h0M222 192h4M104 196h0M144 196h4M180 196h4M216 196h0M106 200h0M150 200h4M178 200h16M206 200h8M108 204h0M156 204h4M176 204h4M188 204h24M110 208h0M158 208h0M178 208h4M108 212h4M160 212h4M176 212h0M166 216h0M178 216h0"/>
<path stroke="#66ff99" d="M192 36h0M110 48h0M108 52h4M106 56h0M174 56h0M128 60h4M168 60h16M102 64h0M174 64h20M172 68h12M178 72h4M138 88h0M178 88h0M132 92h0M176 92h4M204 92h4M206 96h4M218 96h0M220 100h4M222 104h0M216 108h8M162 112h8M210 112h16M216 116h8M214 120h12M144 124h0M212 124h16M126 128h20M206 128h0M124 132h0M144 132h8M172 132h0M200 132h12M82 136h16M114 136h16M158 136h12M194 136h24M84 140h0M92 140h40M152 140h40M204 140h24M74 144h36M118 144h32M166 144h8M206 144h12M84 148h16M112 148h32M168 148h4M208 148h20M86 152h20M134 152h36M210 152h16M88 156h12M136 156h36M86 160h24M134 160h44M84 164h100M86 168h88M186 168h4M96 172h0M132 172h8M148 172h20M188 172h8M90 176h8M154 176h16M198 176h4M92 180h0M152 180h0M168 180h4M200 180h20M232 180h0M150 184h4M206 184h8M204 188h4"/>
<path stroke="#b3ff4c" d="M138 40h4M136 44h0M148 44h0M134 48h0M150 48h0M136 52h0M144 52h4M114 64h4M150 64h0M158 64h0M108 68h8M164 68h0M110 72h4M126 72h8M166 72h0M128 76h0M164 76h0M138 80h0M154 80h0M162 80h0M140 92h4M148 100h0M150 104h4M156 108h0M154 112h0M200 116h0M202 120h0M182 136h4M112 180h16M110 184h20M112 188h20M110 192h4M130 192h8M108 196h4M132 196h8M220 196h12M110 200h4M134 200h12M218 200h8M112 204h4M136 204h16M184 204h0M216 204h8M114 208h4M134 208h20M186 208h36M116 212h4M152 212h4M180 212h0M236 212h0"/>
<path stroke="#4dffb2" d="M100 60h4M88 84h0M136 84h0M94 88h0M142 112h0M160 116h0M128 124h12M148 124h0M122 128h0M150 128h0M174 128h0M120 132h0M156 132h12M78 136h0M102 136h0M110 136h0M196 140h4M114 144h0M178 144h8M194 144h8M104 148h4M176 148h0M196 148h8M110 152h20M174 152h0M202 152h4M104 156h28M176 156h0M212 156h16M114 160h16M182 160h0M188 164h0M194 168h0M200 172h0M206 176h4M224 180h0"/>
<path stroke="#ccff33" d="M140 44h4M138 48h8M140 52h0M154 64h0M160 68h0M162 72h0M132 76h4M142 80h0M158 80h0M142 96h4M132 100h0M144 100h0M146 104h0M184 132h0M118 192h8M116 196h12M118 200h12M230 200h4M120 204h12M228 204h0M122 208h8M226 208h8M124 212h4M136 212h0M192 212h20M224 212h4M198 216h0M214 216h4"/>
<path stroke="#33ffcc" d="M128 84h0M118 88h0M130 88h4M136 108h4M158 120h0M124 124h0M154 128h0M170 128h0M80 132h12M116 132h0M106 136h0M190 144h0M180 148h12M178 152h4M194 152h4M180 156h4M200 156h8M186 160h0M192 164h0M198 168h0M204 172h0M214 176h0"/>
<path stroke="#e5ff1a" d="M156 68h0M150 72h4M140 76h0M152 76h8M148 108h4"/>
<path stroke="#1affe5" d="M96 92h0M156 124h0M164 124h0M82 128h0M158 128h8M76 132h0M96 132h0M186 152h4M188 156h8M190 160h8M196 164h0M202 168h0M208 172h0M218 176h12"/>
<path stroke="#ffff00" d="M158 72h0M144 76h0"/>
<path stroke="#00ffff" d="M84 92h0M92 92h0M86 96h4M84 100h4M82 104h8M80 116h0M82 120h0M78 128h0M86 128h0M100 132h0M112 132h0M202 160h4M222 160h4M200 164h0"/>
<path stroke="#00e5ff" d="M76 100h0M72 108h4M74 112h0M86 112h0M64 116h0M76 116h0M78 120h0M80 124h4M120 124h0M118 128h0M104 132h4M210 160h0M218 160h0M212 172h0"/>
<path stroke="#00ccff" d="M68 116h4M70 120h4M76 124h0M90 128h0M214 160h0M204 164h0M206 168h0M216 172h12"/>
<path stroke="#00b2ff" d="M88 124h0"/>
<path stroke="#0099ff" d="M94 128h0M114 128h0M208 164h0M210 168h0"/>
<path stroke="#0080ff" d="M98 128h0M230 168h0"/>
<path stroke="#0066ff" d="M92 124h0M116 124h0M102 128h8M224 164h4M222 168h4"/>
<path stroke="#004dff" d="M212 164h0M220 164h0M214 168h0"/>
<path stroke="#0033ff" d="M96 124h4M112 124h0M216 164h0M218 168h0"/>
<path stroke="#001aff" d="M104 124h0"/>
</g>
<g stroke-width="4.48"><use href="#f4"/></g>
<path stroke="#4dffb2" stroke-width="8" d="M61 47h0"/>
<path stroke="#ff6600" stroke-width="8" d="M95.6 119h0"/>
<path stroke="#ff1a00" stroke-width="2.5" d="M179 101h4"/>
<path stroke="#ff1a00" stroke-width="2.5" d="M147 138h2"/>
<path stroke="#ff9900" stroke-width="2.5" d="M156 137h2"/>
<path stroke="#ffb300" stroke-width="2.5" d="M134 45h4"/>
<path stroke="#ffb300" stroke-width="2.5" d="M126 72h4"/>
</g>
<use href="#st"/>
</g>
<text x="637.0" y="467.0" font-size="12" font-weight="bold" fill="#262626">100<tspan dx="1.8" dy="-10.6" font-size="7" font-weight="normal">o</tspan><tspan dx="6.5" dy="10.6">W</tspan></text>
<text x="705.5" y="467.0" font-size="12" font-weight="bold" fill="#262626">90<tspan dx="1.8" dy="-10.6" font-size="7" font-weight="normal">o</tspan><tspan dx="6.5" dy="10.6">W</tspan></text>
<text x="769.5" y="467.0" font-size="12" font-weight="bold" fill="#262626">80<tspan dx="1.8" dy="-10.6" font-size="7" font-weight="normal">o</tspan><tspan dx="6.5" dy="10.6">W</tspan></text>
<text x="833.0" y="467.0" font-size="12" font-weight="bold" fill="#262626">70<tspan dx="1.8" dy="-10.6" font-size="7" font-weight="normal">o</tspan><tspan dx="6.5" dy="10.6">W</tspan></text>
<text x="567.6" y="501.2" font-size="12" font-weight="bold" fill="#262626">48<tspan dx="2.6" dy="-10.8" font-size="7" font-weight="normal">o</tspan><tspan dx="4.8" dy="10.8">N</tspan></text>
<text x="567.6" y="520.7" font-size="12" font-weight="bold" fill="#262626">46<tspan dx="2.6" dy="-10.8" font-size="7" font-weight="normal">o</tspan><tspan dx="4.8" dy="10.8">N</tspan></text>
<text x="567.6" y="537.8" font-size="12" font-weight="bold" fill="#262626">44<tspan dx="2.6" dy="-10.8" font-size="7" font-weight="normal">o</tspan><tspan dx="4.8" dy="10.8">N</tspan></text>
<text x="567.6" y="556.0" font-size="12" font-weight="bold" fill="#262626">42<tspan dx="2.6" dy="-10.8" font-size="7" font-weight="normal">o</tspan><tspan dx="4.8" dy="10.8">N</tspan></text>
<text x="567.6" y="572.3" font-size="12" font-weight="bold" fill="#262626">40<tspan dx="2.6" dy="-10.8" font-size="7" font-weight="normal">o</tspan><tspan dx="4.8" dy="10.8">N</tspan></text>
<text x="567.6" y="587.7" font-size="12" font-weight="bold" fill="#262626">38<tspan dx="2.6" dy="-10.8" font-size="7" font-weight="normal">o</tspan><tspan dx="4.8" dy="10.8">N</tspan></text>
<text x="567.6" y="603.5" font-size="12" font-weight="bold" fill="#262626">36<tspan dx="2.6" dy="-10.8" font-size="7" font-weight="normal">o</tspan><tspan dx="4.8" dy="10.8">N</tspan></text>
<text x="567.6" y="618.7" font-size="12" font-weight="bold" fill="#262626">34<tspan dx="2.6" dy="-10.8" font-size="7" font-weight="normal">o</tspan><tspan dx="4.8" dy="10.8">N</tspan></text>
<text x="567.6" y="635.0" font-size="12" font-weight="bold" fill="#262626">32<tspan dx="2.6" dy="-10.8" font-size="7" font-weight="normal">o</tspan><tspan dx="4.8" dy="10.8">N</tspan></text>
<text x="567.6" y="649.7" font-size="12" font-weight="bold" fill="#262626">30<tspan dx="2.6" dy="-10.8" font-size="7" font-weight="normal">o</tspan><tspan dx="4.8" dy="10.8">N</tspan></text>
<text x="567.6" y="662.8" font-size="12" font-weight="bold" fill="#262626">28<tspan dx="2.6" dy="-10.8" font-size="7" font-weight="normal">o</tspan><tspan dx="4.8" dy="10.8">N</tspan></text>
<text x="567.6" y="677.0" font-size="12" font-weight="bold" fill="#262626">26<tspan dx="2.6" dy="-10.8" font-size="7" font-weight="normal">o</tspan><tspan dx="4.8" dy="10.8">N</tspan></text>
<text x="567.6" y="691.5" font-size="12" font-weight="bold" fill="#262626">24<tspan dx="2.6" dy="-10.8" font-size="7" font-weight="normal">o</tspan><tspan dx="4.8" dy="10.8">N</tspan></text>
<text x="567.6" y="705.0" font-size="12" font-weight="bold" fill="#262626">22<tspan dx="2.6" dy="-10.8" font-size="7" font-weight="normal">o</tspan><tspan dx="4.8" dy="10.8">N</tspan></text>
<rect x="862" y="485" width="24" height="215.5" fill="url(#jet)"/>
<rect x="862.5" y="485.5" width="23" height="215" fill="none" stroke="#000" stroke-opacity="0.55" stroke-width="1"/>
<line x1="883.5" y1="491" x2="886" y2="491" stroke="#222" stroke-width="1"/>
<text x="894.1" y="498.4" font-size="20.8" font-weight="bold" fill="#262626">5</text>
<line x1="883.5" y1="592.2" x2="886" y2="592.2" stroke="#222" stroke-width="1"/>
<text x="894.1" y="599.6" font-size="20.8" font-weight="bold" fill="#262626">0</text>
<line x1="883.5" y1="693.2" x2="886" y2="693.2" stroke="#222" stroke-width="1"/>
<text x="894.1" y="700.6" font-size="20.8" font-weight="bold" fill="#262626">-5</text>
<text x="550.0" y="731.0" font-size="22.4" font-weight="bold" fill="#262626" textLength="358.0" lengthAdjust="spacingAndGlyphs">SAT-RAP 700 hPa MR (g/kg)</text>
<g transform="translate(1037.5 485.5) scale(1.00427 1.00939)">
<rect x="0" y="0" width="234" height="213" fill="none" stroke="#000" stroke-width="1"/>
<g fill="none" stroke-linecap="round" stroke-width="7.6" clip-path="url(#swc)">
<g id="f5">
<path stroke="#4dffb2" d="M188 12h0M174 16h0M182 16h0M124 20h8M172 20h4M122 24h16M170 24h8M124 28h20M176 28h12M126 32h20M182 32h16M128 36h24M180 36h24M134 40h24M178 40h8M202 40h4M140 44h20M172 44h12M196 44h16M138 48h72M108 52h0M136 52h0M148 52h44M200 52h16M110 56h8M134 56h0M150 56h12M186 56h24M112 60h16M144 60h12M172 60h40M126 64h4M138 64h8M154 64h4M166 64h16M194 64h24M128 68h0M140 68h0M160 68h12M196 68h8M216 68h0M126 72h4M138 72h4M162 72h8M198 72h4M128 76h4M152 76h16M196 76h4M130 80h4M154 80h44M160 84h20M196 84h4M188 92h0M190 96h0M106 128h4M104 132h4M102 136h8M100 140h8M108 148h8M94 152h20M122 152h8M150 152h8M92 156h8M132 156h24M168 156h0M90 160h16M138 160h20M166 160h4M92 164h12M132 164h24M172 164h0M110 168h48M174 168h0M136 172h20M176 172h0M150 176h0M174 176h0M152 180h4M168 180h4M220 180h4M146 184h24M148 188h12M168 188h4M212 188h0M170 192h4M172 196h4M184 196h0M192 196h12M212 196h0M96 204h4M98 208h4"/>
<path stroke="#66ff99" d="M200 4h8M190 8h20M192 12h16M190 16h20M180 20h32M182 24h32M192 28h20M202 32h8M208 36h4M190 40h8M214 40h0M188 44h4M216 44h0M140 52h4M138 56h8M166 56h16M132 60h8M160 60h8M216 60h0M162 64h0M152 68h4M208 68h4M150 72h8M206 72h12M204 76h12M202 80h16M204 84h16M206 88h16M208 92h16M206 96h0M214 96h8M204 100h4M220 100h4M218 104h4M118 152h0M104 156h24M160 156h4M110 160h24M162 160h0M108 164h20M160 164h8M90 168h16M162 168h8M96 172h36M160 172h4M172 172h0M94 176h0M134 176h12M154 176h16M92 180h0M140 180h8M160 180h4M142 184h0M218 184h0M226 184h0M140 188h4M164 188h0M216 188h4M228 188h0M146 192h20M214 192h0M96 196h0M156 196h12M208 196h0M98 200h4M104 204h0M106 208h0M100 212h4"/>
<path stroke="#33ffcc" d="M168 12h0M166 16h4M144 20h0M160 20h8M142 24h8M158 24h8M116 28h4M148 28h4M164 28h8M118 32h4M150 32h28M156 36h4M176 36h0M130 40h0M162 40h12M136 44h0M164 44h4M110 48h4M134 48h0M112 52h0M132 52h0M196 52h0M122 56h8M108 60h0M122 64h0M186 64h4M176 68h16M174 72h20M172 76h20M128 84h8M152 84h4M162 88h20M168 92h16M170 96h12M172 100h12M182 104h4M112 124h0M114 128h0M112 132h0M220 132h4M98 136h0M114 136h0M96 140h0M112 140h0M90 144h24M92 148h12M120 148h4M140 148h20M90 152h0M134 152h12M162 152h4M88 156h0M172 156h0M178 168h0M180 172h0M178 176h4M222 176h8M176 180h8M174 184h0M214 184h0M176 188h4M208 188h0M178 192h8M206 192h4M180 196h0M188 196h0"/>
<path stroke="#1affe5" d="M148 12h4M164 12h0M146 16h16M148 20h8M154 24h0M156 28h4M102 32h8M96 36h0M104 36h4M164 36h8M98 40h4M114 40h0M126 40h0M96 44h4M112 44h0M132 44h0M130 48h0M120 52h8M118 64h0M124 76h0M148 84h0M134 88h4M154 88h4M136 92h0M160 92h4M162 96h4M144 100h8M160 100h8M174 104h4M200 116h0M202 120h0M104 124h0M116 124h0M118 128h0M116 132h0M212 132h4M94 136h0M142 136h12M88 140h4M116 140h0M144 140h8M86 144h0M118 144h0M142 144h16M88 148h0M128 148h8M164 148h0M86 152h0M170 152h0M84 156h0M174 160h0M176 164h0M182 168h0M184 172h0M186 176h0M218 176h0M188 180h4M212 180h4M178 184h20M206 184h4M184 188h20M190 192h12"/>
<path stroke="#80ff80" d="M214 104h0M208 108h16M206 112h16M210 120h0M222 128h0M168 172h0M98 176h32M96 180h0M132 180h4M94 184h0M134 184h4M96 188h0M136 188h0M224 188h0M138 192h4M218 192h0M226 192h0M140 196h12M216 196h0M228 196h0M166 200h16M108 204h0M110 208h0M108 212h0"/>
<path stroke="#00ffff" d="M124 44h4M122 48h4M110 64h4M126 88h0M142 88h8M140 92h16M142 96h16M140 100h0M156 100h0M146 104h24M180 108h0M120 124h0M140 124h0M122 128h4M142 128h0M96 132h0M140 132h12M86 136h4M118 136h0M138 136h0M158 136h0M84 140h0M140 140h0M156 140h4M78 144h4M122 144h0M138 144h0M162 144h0M84 148h0M168 148h0M82 152h0M174 152h0M176 156h0M178 160h0M180 164h0M188 172h0M228 172h0M190 176h0M214 176h0M196 180h12M202 184h0"/>
<path stroke="#99ff66" d="M208 116h0M220 116h4M226 120h0M224 124h0M100 180h4M116 180h12M98 184h0M126 184h4M222 184h0M132 188h0M232 188h0M98 192h0M134 192h0M230 192h0M136 196h0M220 196h4M150 200h12M222 200h4M164 204h12M114 208h0M174 208h0M112 212h0M110 216h0"/>
<path stroke="#00e5ff" d="M122 80h0M142 104h0M144 108h4M128 124h0M136 124h0M144 124h0M130 128h8M146 128h0M92 132h0M120 132h0M136 132h0M156 132h4M162 136h0M214 136h4M80 140h0M120 140h0M136 140h0M164 140h0M126 144h0M134 144h0M166 144h0M172 148h4M178 152h0M180 156h0M186 168h0M216 172h8M194 176h16"/>
<path stroke="#b3ff4c" d="M108 180h4M102 184h0M118 184h4M100 188h0M124 188h4M130 192h0M222 192h0M132 196h0M236 196h0M106 200h0M138 200h8M186 200h4M214 200h4M230 200h4M112 204h0M156 204h4M180 204h0M224 204h4M162 208h8M178 208h0M226 208h8M164 212h0M228 212h0"/>
<path stroke="#00ccff" d="M100 60h0M106 64h0M120 76h0M114 80h4M152 108h20M146 112h0M174 112h0M126 120h0M150 128h0M88 132h0M124 132h8M164 132h8M204 132h0M122 136h0M134 136h0M166 136h8M210 136h0M222 136h0M168 140h0M130 144h0M170 144h8M180 148h4M182 152h0M184 156h0M200 156h0M182 160h0M184 164h0M190 168h0M192 172h4M208 172h4"/>
<path stroke="#ccff33" d="M106 184h8M104 188h0M120 188h0M126 192h0M128 196h0M110 200h0M134 200h0M194 200h16M144 204h8M184 204h0M216 204h4M150 208h8M182 208h0M222 208h0M156 212h4M176 212h4"/>
<path stroke="#00b2ff" d="M102 64h0M116 84h0M138 104h0M140 108h0M158 112h0M166 112h4M148 124h0M176 124h0M154 128h4M174 128h4M176 132h8M196 132h4M126 136h4M178 136h4M202 136h4M124 140h8M172 140h8M216 140h8M182 144h16M188 148h16M186 152h16M188 156h8M204 156h0M186 160h16M188 164h20M194 168h16M200 172h4"/>
<path stroke="#e5ff1a" d="M108 188h8M122 192h0M124 196h0M126 200h4M116 204h0M132 204h8M118 208h0M130 208h16M218 208h0M120 212h28M220 212h0M126 216h0"/>
<path stroke="#0099ff" d="M98 64h0M100 68h0M116 68h0M116 76h0M114 88h4M136 100h0M138 112h0M152 116h0M154 120h0M152 124h4M172 124h0M162 128h8M84 132h0M82 136h0M186 136h12M184 140h28M202 144h4M218 144h8M208 148h0M206 152h0M206 160h0M214 168h0M226 168h0"/>
<path stroke="#ffff00" d="M106 192h0M118 192h0M104 196h0M120 196h0M114 200h8M120 204h8M188 204h0M208 204h4M122 208h4M186 208h0M214 208h0M216 212h0"/>
<path stroke="#0080ff" d="M104 68h8M98 72h0M66 120h0M160 124h4M210 144h4M212 148h0M210 152h0M208 156h0M210 160h0M212 164h0M218 168h4"/>
<path stroke="#ffe500" d="M110 192h4M116 196h0M192 204h12M190 208h8M210 208h0M196 212h0"/>
<path stroke="#0066ff" d="M102 72h12M104 76h0M136 108h0M134 112h0M68 116h0M102 120h0M216 148h8M212 156h0M220 164h8"/>
<path stroke="#ffcc00" d="M108 196h4M202 208h4M192 212h0M200 212h4"/>
<path stroke="#004dff" d="M134 104h0M70 112h0M70 120h0M90 128h0M78 136h0M214 152h12M214 160h0M216 164h0"/>
<path stroke="#0033ff" d="M128 100h0M132 108h0M130 112h0M72 116h0M98 120h0M72 124h0M86 128h0M216 156h12M218 160h4"/>
<path stroke="#001aff" d="M130 104h0M74 112h0M74 120h0M80 132h0"/>
<path stroke="#0000ff" d="M96 84h0M72 100h0M74 104h0M94 112h0M76 116h0M96 116h0M94 120h0M74 128h0M82 128h0M72 132h0"/>
<path stroke="#0000e6" d="M88 84h4M80 92h0M76 100h0M88 100h4M78 104h0M76 108h0M92 108h0M78 112h12M80 116h0M88 116h4M78 120h0M90 120h0M76 124h0M88 124h0M78 128h0M76 132h0"/>
<path stroke="#0000cc" d="M86 88h4M84 92h4M82 96h8M80 100h4M82 104h4M80 108h8M84 116h0M82 120h4M80 124h4"/>
</g>
<g stroke-width="4.48"><use href="#f5"/></g>
<path stroke="#33ffcc" stroke-width="8" d="M61.2 47.5h0"/>
</g>
<use href="#st"/>
</g>
<text x="1059.5" y="464.8" font-size="12" font-weight="bold" fill="#262626">100<tspan dx="1.8" dy="-10.6" font-size="7" font-weight="normal">o</tspan><tspan dx="6.5" dy="10.6">W</tspan></text>
<text x="1127.5" y="464.8" font-size="12" font-weight="bold" fill="#262626">90<tspan dx="1.8" dy="-10.6" font-size="7" font-weight="normal">o</tspan><tspan dx="6.5" dy="10.6">W</tspan></text>
<text x="1190.6" y="464.8" font-size="12" font-weight="bold" fill="#262626">80<tspan dx="1.8" dy="-10.6" font-size="7" font-weight="normal">o</tspan><tspan dx="6.5" dy="10.6">W</tspan></text>
<text x="1256.0" y="464.8" font-size="12" font-weight="bold" fill="#262626">70<tspan dx="1.8" dy="-10.6" font-size="7" font-weight="normal">o</tspan><tspan dx="6.5" dy="10.6">W</tspan></text>
<text x="988.0" y="501.9" font-size="12" font-weight="bold" fill="#262626">48<tspan dx="2.6" dy="-10.8" font-size="7" font-weight="normal">o</tspan><tspan dx="5.6" dy="10.8">N</tspan></text>
<text x="988.0" y="521.3" font-size="12" font-weight="bold" fill="#262626">46<tspan dx="2.6" dy="-10.8" font-size="7" font-weight="normal">o</tspan><tspan dx="5.6" dy="10.8">N</tspan></text>
<text x="988.0" y="537.6" font-size="12" font-weight="bold" fill="#262626">44<tspan dx="2.6" dy="-10.8" font-size="7" font-weight="normal">o</tspan><tspan dx="5.6" dy="10.8">N</tspan></text>
<text x="988.0" y="555.9" font-size="12" font-weight="bold" fill="#262626">42<tspan dx="2.6" dy="-10.8" font-size="7" font-weight="normal">o</tspan><tspan dx="5.6" dy="10.8">N</tspan></text>
<text x="988.0" y="573.4" font-size="12" font-weight="bold" fill="#262626">40<tspan dx="2.6" dy="-10.8" font-size="7" font-weight="normal">o</tspan><tspan dx="5.6" dy="10.8">N</tspan></text>
<text x="988.0" y="588.0" font-size="12" font-weight="bold" fill="#262626">38<tspan dx="2.6" dy="-10.8" font-size="7" font-weight="normal">o</tspan><tspan dx="5.6" dy="10.8">N</tspan></text>
<text x="988.0" y="603.9" font-size="12" font-weight="bold" fill="#262626">36<tspan dx="2.6" dy="-10.8" font-size="7" font-weight="normal">o</tspan><tspan dx="5.6" dy="10.8">N</tspan></text>
<text x="988.0" y="619.2" font-size="12" font-weight="bold" fill="#262626">34<tspan dx="2.6" dy="-10.8" font-size="7" font-weight="normal">o</tspan><tspan dx="5.6" dy="10.8">N</tspan></text>
<text x="988.0" y="635.6" font-size="12" font-weight="bold" fill="#262626">32<tspan dx="2.6" dy="-10.8" font-size="7" font-weight="normal">o</tspan><tspan dx="5.6" dy="10.8">N</tspan></text>
<text x="988.0" y="649.7" font-size="12" font-weight="bold" fill="#262626">30<tspan dx="2.6" dy="-10.8" font-size="7" font-weight="normal">o</tspan><tspan dx="5.6" dy="10.8">N</tspan></text>
<text x="988.0" y="664.8" font-size="12" font-weight="bold" fill="#262626">28<tspan dx="2.6" dy="-10.8" font-size="7" font-weight="normal">o</tspan><tspan dx="5.6" dy="10.8">N</tspan></text>
<text x="988.0" y="678.4" font-size="12" font-weight="bold" fill="#262626">26<tspan dx="2.6" dy="-10.8" font-size="7" font-weight="normal">o</tspan><tspan dx="5.6" dy="10.8">N</tspan></text>
<text x="988.0" y="691.9" font-size="12" font-weight="bold" fill="#262626">24<tspan dx="2.6" dy="-10.8" font-size="7" font-weight="normal">o</tspan><tspan dx="5.6" dy="10.8">N</tspan></text>
<text x="988.0" y="706.4" font-size="12" font-weight="bold" fill="#262626">22<tspan dx="2.6" dy="-10.8" font-size="7" font-weight="normal">o</tspan><tspan dx="5.6" dy="10.8">N</tspan></text>
<rect x="1285" y="485" width="23.5" height="215.5" fill="url(#jet)"/>
<rect x="1285.5" y="485.5" width="23" height="215" fill="none" stroke="#000" stroke-opacity="0.55" stroke-width="1"/>
<line x1="1306" y1="533.4" x2="1308.5" y2="533.4" stroke="#222" stroke-width="1"/>
<text x="1316.9" y="540.8" font-size="20.8" font-weight="bold" fill="#262626">1</text>
<line x1="1306" y1="592.5" x2="1308.5" y2="592.5" stroke="#222" stroke-width="1"/>
<text x="1316.9" y="599.9" font-size="20.8" font-weight="bold" fill="#262626">0</text>
<line x1="1306" y1="651.7" x2="1308.5" y2="651.7" stroke="#222" stroke-width="1"/>
<text x="1316.9" y="659.1" font-size="20.8" font-weight="bold" fill="#262626">-1</text>
<text x="971.0" y="731.7" font-size="22.4" font-weight="bold" fill="#262626" textLength="357.5" lengthAdjust="spacingAndGlyphs">SAT-RAP 500 hPa MR (g/kg)</text>
</svg></body></html>
